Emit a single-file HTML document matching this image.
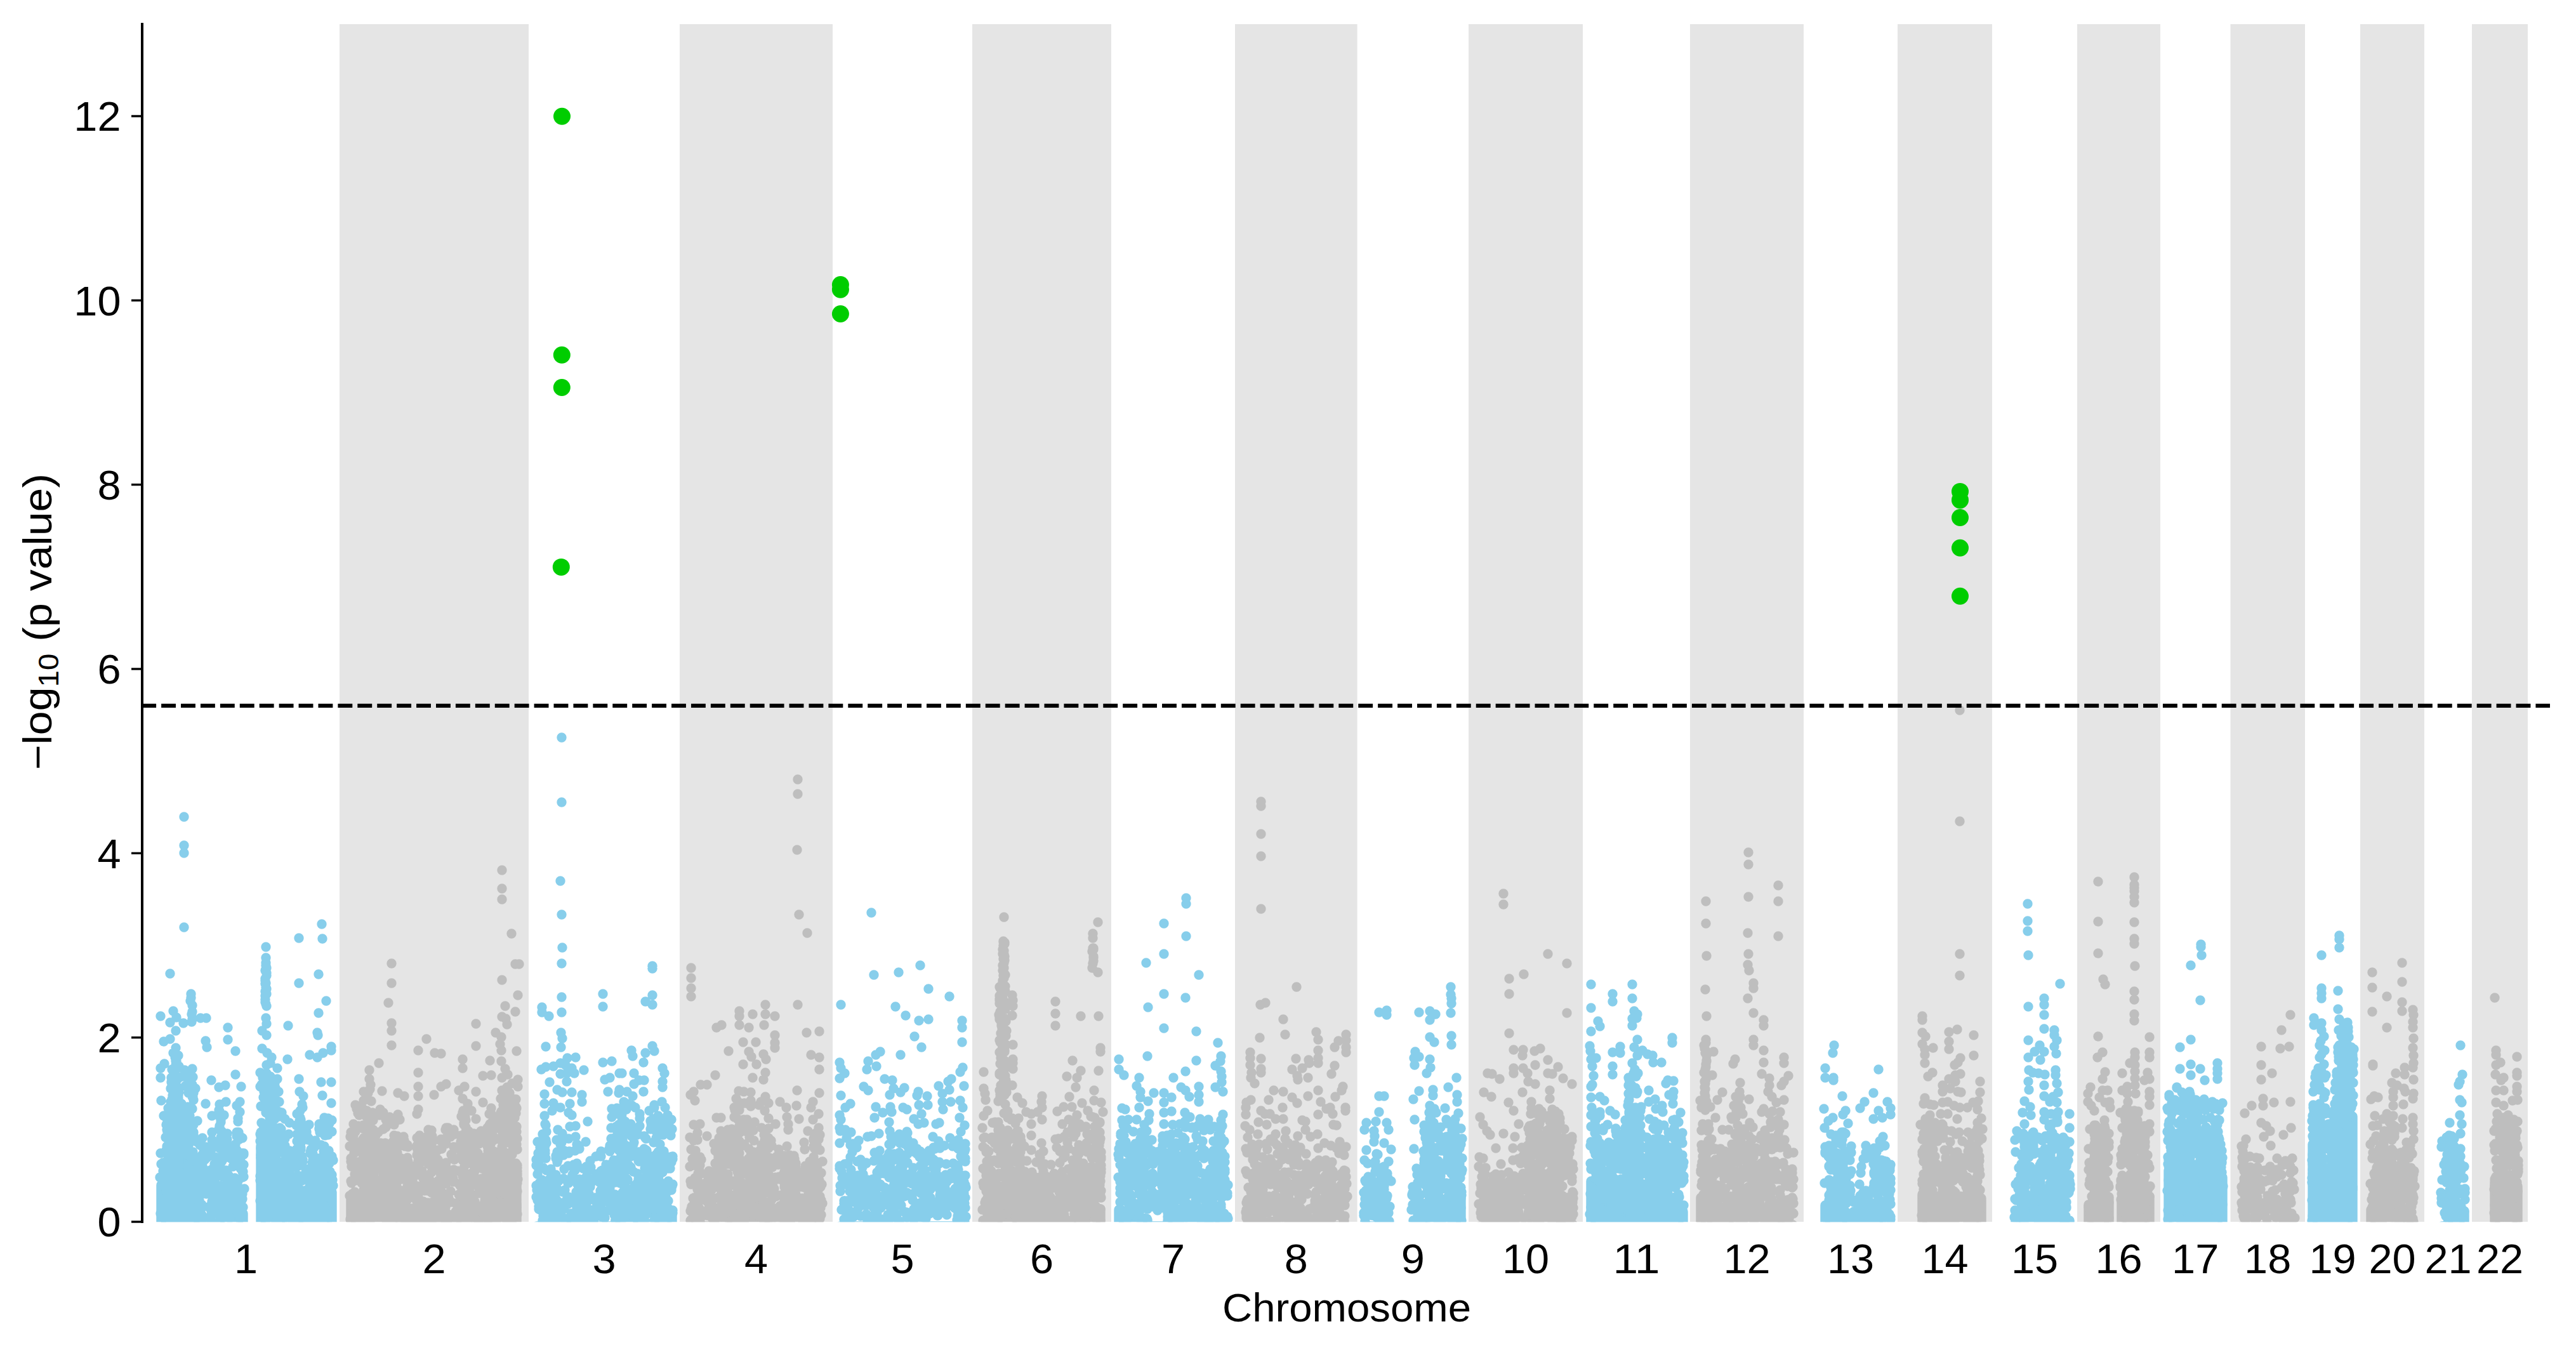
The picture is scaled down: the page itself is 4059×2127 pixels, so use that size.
<!DOCTYPE html>
<html><head><meta charset="utf-8"><title>Manhattan plot</title>
<style>html,body{margin:0;padding:0;background:#fff}svg{display:block}text{font-family:"Liberation Sans",sans-serif;fill:#000}</style></head>
<body>
<svg width="4059" height="2127" viewBox="0 0 4059 2127">
<rect width="4059" height="2127" fill="#fff"/>
<g fill="#e5e5e5"><rect x="535" y="38" width="298.0" height="1887"/><rect x="1071" y="38" width="241.0" height="1887"/><rect x="1532" y="38" width="219.0" height="1887"/><rect x="1946" y="38" width="192.6" height="1887"/><rect x="2314" y="38" width="180.0" height="1887"/><rect x="2663" y="38" width="179.0" height="1887"/><rect x="2990" y="38" width="149.0" height="1887"/><rect x="3273" y="38" width="131.0" height="1887"/><rect x="3514.5" y="38" width="117.5" height="1887"/><rect x="3719" y="38" width="101.0" height="1887"/><rect x="3895" y="38" width="88.0" height="1887"/></g>
<defs><clipPath id="cp"><rect x="224" y="38" width="3794" height="1887.3"/></clipPath></defs>
<g clip-path="url(#cp)" stroke-width="15.4" stroke-linecap="round" stroke-linejoin="round">
<path fill="#87ceeb" stroke="#87ceeb" d="M254 1935L254 1867L257 1871L261 1871L264 1871L270 1871L273 1871L277 1824L279 1822L282 1822L287 1822L290 1822L293 1824L297 1833L304 1901L306 1914L311 1920L314 1925L318 1928L325 1928L327 1928L332 1932L335 1932L339 1932L345 1932L347 1932L349 1869L352 1900L354 1932L356 1932L359 1932L361 1932L365 1932L370 1932L373 1922L375 1888L378 1909L380 1912L383 1912L383 1912L383 1935ZM411 1935L411 1805L415 1805L418 1805L420 1800L422 1805L425 1819L428 1848L434 1868L440 1890L444 1898L450 1919L455 1932L459 1932L461 1932L468 1932L470 1932L473 1877L476 1888L482 1895L485 1900L487 1911L489 1911L492 1911L496 1911L503 1911L504 1910L511 1888L517 1888L521 1888L522 1886L523 1878L523 1935Z"/>
<path fill="none" stroke="#87ceeb" d="M254 1734h0M253 1817h0M255 1858h0M252 1855h0M254 1834h0M253 1912h0M258 1917h0M255 1902h0M257 1832h0M257 1845h0M256 1892h0M258 1758h0M261 1815h0M261 1918h0M261 1925h0M261 1792h0M261 1844h0M262 1772h0M261 1864h0M261 1864h0M263 1855h0M264 1784h0M264 1908h0M263 1838h0M263 1922h0M263 1903h0M262 1890h0M262 1860h0M264 1871h0M262 1891h0M265 1746h0M265 1794h0M265 1768h0M265 1776h0M265 1845h0M265 1822h0M265 1784h0M265 1804h0M265 1805h0M262 1914h0M263 1924h0M263 1763h0M264 1831h0M263 1878h0M265 1907h0M262 1874h0M264 1852h0M263 1806h0M263 1812h0M264 1809h0M265 1915h0M264 1852h0M263 1876h0M262 1907h0M264 1862h0M262 1875h0M265 1825h0M264 1763h0M263 1780h0M264 1760h0M263 1806h0M265 1781h0M265 1837h0M262 1812h0M264 1774h0M264 1878h0M263 1900h0M271 1710h0M269 1791h0M269 1715h0M271 1847h0M269 1898h0M271 1735h0M268 1844h0M270 1884h0M270 1705h0M269 1893h0M269 1920h0M270 1797h0M268 1779h0M272 1818h0M269 1910h0M271 1746h0M271 1776h0M272 1921h0M271 1894h0M271 1817h0M271 1732h0M269 1736h0M271 1891h0M269 1833h0M271 1796h0M271 1834h0M269 1856h0M269 1918h0M268 1913h0M271 1861h0M271 1860h0M270 1739h0M270 1698h0M273 1919h0M271 1872h0M271 1805h0M272 1863h0M273 1748h0M274 1829h0M272 1854h0M271 1823h0M272 1790h0M271 1824h0M272 1902h0M272 1806h0M272 1726h0M272 1911h0M274 1914h0M274 1871h0M272 1785h0M273 1753h0M273 1790h0M271 1708h0M274 1852h0M273 1842h0M273 1799h0M274 1703h0M272 1698h0M274 1861h0M274 1758h0M278 1672h0M277 1746h0M278 1742h0M277 1885h0M279 1748h0M276 1688h0M278 1782h0M276 1868h0M278 1777h0M276 1804h0M278 1833h0M276 1794h0M277 1845h0M277 1810h0M278 1772h0M278 1913h0M276 1911h0M277 1775h0M276 1914h0M276 1666h0M277 1664h0M277 1877h0M277 1898h0M277 1678h0M276 1827h0M278 1731h0M276 1729h0M278 1762h0M276 1756h0M276 1852h0M278 1728h0M279 1811h0M276 1848h0M276 1821h0M276 1771h0M277 1806h0M278 1773h0M276 1758h0M277 1671h0M277 1775h0M277 1849h0M278 1720h0M277 1880h0M281 1726h0M280 1814h0M279 1823h0M280 1739h0M281 1919h0M279 1725h0M279 1712h0M279 1754h0M278 1700h0M280 1903h0M280 1889h0M281 1730h0M278 1744h0M280 1664h0M279 1877h0M280 1913h0M280 1832h0M280 1700h0M282 1807h0M282 1824h0M280 1726h0M282 1830h0M282 1788h0M282 1698h0M283 1801h0M282 1836h0M282 1868h0M282 1721h0M281 1787h0M281 1722h0M282 1680h0M282 1744h0M282 1850h0M281 1745h0M282 1867h0M282 1920h0M283 1864h0M281 1853h0M281 1719h0M282 1682h0M282 1781h0M286 1748h0M286 1763h0M288 1857h0M287 1783h0M288 1751h0M287 1883h0M286 1866h0M286 1851h0M286 1909h0M287 1775h0M288 1856h0M287 1876h0M288 1906h0M288 1863h0M287 1888h0M286 1739h0M286 1919h0M289 1781h0M290 1868h0M291 1751h0M290 1865h0M290 1818h0M290 1900h0M291 1756h0M290 1790h0M290 1890h0M289 1918h0M288 1696h0M291 1886h0M291 1767h0M290 1919h0M292 1711h0M294 1920h0M292 1863h0M294 1693h0M294 1771h0M292 1922h0M294 1907h0M294 1880h0M298 1842h0M297 1820h0M298 1907h0M298 1901h0M297 1745h0M296 1837h0M296 1803h0M297 1869h0M297 1840h0M296 1870h0M299 1758h0M298 1908h0M297 1864h0M297 1850h0M297 1805h0M299 1779h0M298 1802h0M297 1707h0M297 1813h0M296 1807h0M296 1744h0M297 1853h0M298 1901h0M296 1905h0M296 1790h0M297 1781h0M297 1867h0M299 1888h0M298 1851h0M298 1890h0M296 1812h0M298 1883h0M296 1850h0M299 1785h0M297 1776h0M296 1893h0M296 1872h0M298 1841h0M298 1755h0M298 1919h0M298 1791h0M297 1923h0M296 1818h0M297 1793h0M298 1889h0M296 1795h0M297 1791h0M297 1842h0M297 1762h0M297 1722h0M297 1761h0M296 1918h0M298 1785h0M296 1817h0M298 1818h0M296 1877h0M297 1760h0M303 1916h0M303 1747h0M305 1791h0M304 1792h0M305 1733h0M303 1828h0M303 1885h0M305 1924h0M302 1890h0M302 1791h0M304 1870h0M305 1909h0M304 1697h0M305 1820h0M303 1728h0M305 1772h0M304 1871h0M305 1865h0M304 1772h0M305 1884h0M303 1819h0M303 1861h0M303 1920h0M304 1728h0M303 1709h0M303 1925h0M305 1788h0M303 1771h0M304 1815h0M305 1904h0M306 1768h0M308 1715h0M305 1784h0M306 1848h0M308 1847h0M305 1788h0M305 1722h0M305 1872h0M310 1855h0M310 1799h0M310 1919h0M310 1855h0M311 1842h0M311 1824h0M312 1921h0M315 1804h0M315 1920h0M315 1835h0M314 1891h0M313 1858h0M314 1831h0M313 1903h0M312 1836h0M315 1826h0M314 1880h0M315 1883h0M313 1879h0M314 1893h0M313 1872h0M313 1871h0M315 1882h0M313 1851h0M317 1872h0M317 1858h0M319 1807h0M320 1920h0M318 1821h0M319 1832h0M318 1850h0M317 1854h0M319 1843h0M318 1914h0M318 1898h0M319 1837h0M319 1849h0M319 1819h0M317 1866h0M318 1864h0M319 1855h0M319 1793h0M318 1903h0M320 1863h0M317 1913h0M324 1807h0M326 1877h0M323 1827h0M326 1859h0M326 1824h0M327 1845h0M325 1881h0M325 1865h0M327 1870h0M327 1820h0M333 1913h0M333 1923h0M332 1813h0M331 1902h0M332 1857h0M330 1851h0M333 1843h0M331 1904h0M330 1901h0M333 1907h0M334 1873h0M334 1878h0M333 1857h0M335 1886h0M335 1871h0M334 1893h0M333 1873h0M335 1860h0M336 1891h0M334 1875h0M336 1808h0M334 1850h0M334 1796h0M336 1842h0M339 1912h0M339 1846h0M340 1855h0M338 1887h0M340 1891h0M339 1823h0M337 1859h0M339 1824h0M340 1900h0M338 1890h0M338 1834h0M339 1882h0M338 1897h0M345 1907h0M345 1758h0M346 1906h0M345 1868h0M345 1749h0M345 1801h0M346 1751h0M346 1895h0M345 1779h0M346 1777h0M346 1809h0M348 1832h0M348 1829h0M346 1880h0M347 1924h0M348 1912h0M348 1765h0M348 1792h0M348 1918h0M349 1899h0M348 1782h0M346 1774h0M349 1782h0M346 1852h0M347 1901h0M346 1870h0M347 1796h0M346 1755h0M346 1740h0M346 1845h0M347 1825h0M348 1845h0M349 1803h0M350 1807h0M350 1829h0M349 1822h0M351 1854h0M350 1911h0M348 1892h0M348 1768h0M353 1917h0M350 1884h0M353 1757h0M355 1885h0M354 1874h0M352 1798h0M355 1801h0M358 1795h0M355 1791h0M357 1903h0M356 1884h0M357 1797h0M355 1904h0M356 1819h0M356 1844h0M357 1863h0M355 1805h0M357 1811h0M356 1906h0M357 1823h0M357 1816h0M358 1786h0M357 1818h0M359 1873h0M359 1862h0M358 1891h0M359 1823h0M360 1860h0M359 1850h0M362 1919h0M361 1853h0M362 1890h0M360 1908h0M362 1873h0M359 1854h0M361 1821h0M365 1860h0M366 1807h0M365 1898h0M367 1887h0M367 1838h0M364 1859h0M365 1867h0M365 1826h0M365 1816h0M367 1889h0M365 1807h0M366 1869h0M371 1803h0M370 1856h0M370 1835h0M370 1880h0M371 1868h0M371 1824h0M373 1742h0M373 1812h0M373 1867h0M373 1874h0M373 1784h0M373 1790h0M374 1867h0M376 1786h0M375 1908h0M376 1874h0M375 1872h0M375 1762h0M376 1784h0M375 1861h0M375 1884h0M375 1767h0M377 1910h0M379 1825h0M377 1792h0M377 1890h0M377 1896h0M378 1752h0M379 1791h0M376 1825h0M377 1795h0M376 1859h0M378 1793h0M381 1817h0M382 1793h0M381 1906h0M379 1841h0M380 1905h0M381 1818h0M379 1919h0M381 1891h0M379 1908h0M381 1910h0M382 1855h0M382 1889h0M384 1835h0M383 1902h0M383 1846h0M384 1817h0M382 1846h0M384 1819h0M385 1873h0M382 1881h0M384 1854h0M412 1896h0M411 1809h0M410 1798h0M410 1787h0M412 1811h0M412 1816h0M410 1860h0M412 1912h0M412 1785h0M413 1813h0M410 1798h0M411 1824h0M411 1851h0M411 1784h0M410 1892h0M412 1831h0M410 1853h0M411 1820h0M411 1743h0M412 1824h0M411 1791h0M410 1712h0M410 1690h0M412 1769h0M417 1800h0M416 1840h0M416 1871h0M416 1720h0M414 1888h0M414 1698h0M415 1729h0M417 1815h0M414 1850h0M415 1773h0M416 1799h0M415 1708h0M416 1830h0M417 1707h0M414 1884h0M415 1914h0M417 1877h0M415 1905h0M416 1852h0M416 1811h0M416 1773h0M416 1917h0M416 1744h0M416 1740h0M416 1857h0M415 1915h0M417 1916h0M419 1781h0M418 1918h0M419 1712h0M418 1924h0M419 1848h0M418 1874h0M419 1772h0M419 1753h0M419 1817h0M421 1792h0M420 1693h0M421 1722h0M421 1820h0M421 1850h0M421 1783h0M420 1694h0M421 1859h0M420 1724h0M418 1917h0M421 1820h0M421 1853h0M420 1885h0M421 1701h0M421 1724h0M423 1890h0M424 1864h0M421 1856h0M423 1741h0M423 1860h0M422 1812h0M423 1733h0M421 1752h0M421 1784h0M423 1859h0M421 1871h0M421 1776h0M424 1823h0M425 1910h0M424 1859h0M427 1734h0M426 1710h0M425 1761h0M426 1824h0M426 1843h0M424 1741h0M427 1731h0M426 1754h0M426 1696h0M425 1877h0M426 1675h0M425 1722h0M426 1828h0M426 1859h0M427 1782h0M429 1869h0M428 1775h0M427 1723h0M429 1863h0M428 1822h0M427 1890h0M427 1883h0M429 1906h0M429 1906h0M427 1796h0M429 1772h0M428 1796h0M427 1910h0M428 1811h0M426 1899h0M429 1762h0M429 1763h0M429 1739h0M427 1830h0M427 1809h0M427 1793h0M427 1737h0M428 1700h0M434 1845h0M433 1733h0M435 1899h0M433 1812h0M435 1851h0M435 1828h0M435 1722h0M435 1804h0M434 1745h0M435 1791h0M433 1818h0M435 1826h0M432 1820h0M433 1786h0M434 1787h0M435 1829h0M433 1893h0M435 1843h0M432 1868h0M435 1870h0M433 1815h0M435 1733h0M433 1707h0M435 1817h0M433 1792h0M433 1897h0M434 1899h0M435 1905h0M432 1784h0M433 1903h0M433 1867h0M435 1859h0M433 1859h0M433 1794h0M434 1895h0M435 1784h0M433 1789h0M434 1833h0M434 1714h0M433 1798h0M435 1842h0M434 1857h0M434 1733h0M434 1845h0M434 1739h0M433 1763h0M433 1742h0M435 1778h0M435 1924h0M433 1866h0M433 1887h0M433 1878h0M433 1810h0M440 1752h0M439 1916h0M440 1855h0M441 1834h0M439 1856h0M441 1777h0M442 1786h0M439 1795h0M441 1786h0M439 1736h0M440 1884h0M439 1786h0M440 1736h0M442 1905h0M440 1759h0M442 1918h0M441 1860h0M441 1786h0M439 1884h0M444 1907h0M445 1887h0M445 1890h0M443 1839h0M444 1802h0M442 1850h0M444 1865h0M444 1810h0M443 1810h0M442 1854h0M444 1887h0M444 1894h0M442 1922h0M445 1831h0M442 1845h0M445 1801h0M444 1753h0M443 1873h0M443 1815h0M445 1854h0M443 1779h0M444 1878h0M442 1788h0M444 1759h0M444 1913h0M445 1789h0M449 1897h0M449 1850h0M450 1840h0M450 1914h0M450 1833h0M449 1794h0M449 1805h0M449 1763h0M451 1844h0M450 1915h0M450 1822h0M451 1911h0M455 1910h0M456 1847h0M456 1817h0M455 1884h0M455 1878h0M455 1824h0M456 1769h0M454 1914h0M456 1860h0M456 1834h0M456 1917h0M456 1860h0M455 1787h0M455 1850h0M456 1813h0M454 1872h0M458 1880h0M459 1901h0M459 1902h0M460 1911h0M460 1915h0M459 1853h0M461 1894h0M460 1873h0M462 1889h0M460 1860h0M462 1908h0M462 1857h0M460 1885h0M460 1922h0M461 1869h0M462 1922h0M469 1852h0M469 1860h0M467 1901h0M468 1817h0M468 1921h0M468 1755h0M469 1859h0M467 1837h0M468 1830h0M467 1864h0M467 1866h0M469 1898h0M468 1890h0M467 1773h0M468 1856h0M469 1894h0M467 1878h0M468 1798h0M468 1826h0M467 1839h0M467 1811h0M468 1787h0M467 1829h0M471 1907h0M469 1812h0M471 1807h0M470 1831h0M471 1808h0M470 1858h0M469 1883h0M470 1837h0M469 1871h0M470 1861h0M468 1897h0M470 1869h0M468 1859h0M473 1761h0M472 1766h0M473 1836h0M475 1799h0M475 1853h0M474 1764h0M474 1766h0M473 1878h0M472 1886h0M474 1808h0M473 1806h0M473 1802h0M473 1910h0M472 1794h0M473 1772h0M473 1767h0M474 1883h0M472 1809h0M473 1750h0M474 1811h0M474 1785h0M474 1765h0M476 1903h0M475 1896h0M477 1855h0M475 1856h0M477 1853h0M475 1777h0M475 1896h0M475 1799h0M477 1830h0M477 1745h0M474 1896h0M477 1796h0M475 1876h0M476 1740h0M476 1822h0M477 1827h0M476 1782h0M476 1882h0M476 1860h0M476 1919h0M476 1914h0M483 1794h0M482 1842h0M480 1876h0M480 1916h0M483 1785h0M482 1887h0M483 1898h0M483 1783h0M483 1793h0M483 1884h0M481 1906h0M484 1848h0M486 1873h0M486 1793h0M486 1897h0M484 1924h0M486 1848h0M485 1913h0M486 1796h0M487 1772h0M488 1861h0M489 1815h0M488 1917h0M488 1864h0M488 1912h0M490 1865h0M490 1818h0M491 1855h0M491 1844h0M490 1811h0M491 1925h0M492 1921h0M491 1925h0M491 1922h0M492 1899h0M493 1885h0M493 1818h0M492 1799h0M493 1827h0M492 1832h0M491 1844h0M492 1870h0M498 1833h0M495 1897h0M495 1912h0M497 1797h0M495 1808h0M496 1865h0M498 1842h0M495 1878h0M498 1889h0M497 1843h0M496 1904h0M502 1881h0M504 1784h0M501 1919h0M502 1859h0M501 1870h0M504 1907h0M502 1914h0M503 1830h0M503 1778h0M501 1880h0M503 1771h0M503 1897h0M503 1870h0M503 1779h0M504 1891h0M503 1825h0M501 1882h0M503 1886h0M503 1849h0M506 1804h0M505 1850h0M504 1835h0M510 1856h0M510 1886h0M512 1837h0M510 1902h0M512 1885h0M511 1846h0M512 1879h0M512 1847h0M510 1869h0M512 1903h0M510 1858h0M512 1778h0M512 1902h0M511 1784h0M510 1833h0M510 1825h0M509 1778h0M510 1820h0M512 1923h0M510 1814h0M512 1917h0M512 1869h0M512 1902h0M511 1826h0M511 1823h0M510 1775h0M510 1806h0M510 1872h0M509 1898h0M512 1824h0M510 1881h0M511 1761h0M511 1806h0M512 1789h0M510 1769h0M512 1821h0M512 1848h0M512 1880h0M511 1885h0M511 1852h0M519 1833h0M518 1813h0M516 1909h0M517 1914h0M517 1873h0M518 1820h0M517 1788h0M517 1762h0M517 1833h0M518 1861h0M517 1827h0M518 1883h0M517 1908h0M520 1846h0M522 1876h0M519 1770h0M521 1873h0M520 1863h0M523 1851h0M521 1917h0M523 1822h0M524 1859h0M522 1914h0M522 1825h0M525 1828h0M525 1868h0M523 1765h0M523 1783h0M523 1824h0M301 1566h0M301 1572h0M300 1577h0M303 1584h0M303 1594h0M302 1598h0M303 1606h0M302 1610h0M419 1517h0M419 1521h0M420 1525h0M418 1529h0M419 1531h0M420 1533h0M420 1537h0M418 1542h0M418 1545h0M419 1549h0M418 1550h0M419 1556h0M420 1558h0M418 1562h0M420 1566h0M418 1569h0M418 1575h0M418 1579h0M419 1582h0M420 1585h0M268 1534h0M273 1593h0M253 1601h0M278 1603h0M268 1611h0M289 1612h0M316 1604h0M325 1604h0M277 1624h0M268 1637h0M258 1641h0M359 1619h0M359 1638h0M324 1640h0M326 1650h0M371 1656h0M277 1651h0M273 1659h0M281 1663h0M277 1672h0M259 1676h0M253 1683h0M253 1698h0M303 1684h0M291 1686h0M271 1685h0M333 1702h0M371 1693h0M355 1710h0M380 1712h0M345 1713h0M324 1739h0M356 1736h0M378 1736h0M334 1758h0M334 1784h0M311 1766h0M419 1604h0M420 1613h0M413 1624h0M420 1631h0M413 1652h0M454 1616h0M471 1549h0M502 1535h0M514 1577h0M502 1596h0M500 1627h0M501 1631h0M522 1649h0M522 1655h0M488 1662h0M509 1659h0M500 1666h0M453 1669h0M471 1700h0M506 1705h0M522 1705h0M508 1726h0M439 1720h0M437 1700h0M437 1683h0M433 1734h0M421 1659h0M428 1666h0M420 1678h0M420 1691h0M412 1709h0M472 1720h0M478 1727h0M522 1738h0M419 1509h0M290 1287h0M290 1332h0M290 1344h0M290 1461h0M419 1492h0M471 1478h0M507 1456h0M508 1479h0"/>
<path fill="#bebebe" stroke="#bebebe" d="M553 1935L553 1890L555 1890L558 1890L560 1888L565 1886L571 1885L574 1877L577 1867L579 1862L581 1859L585 1894L588 1894L592 1894L597 1899L599 1902L604 1904L608 1905L612 1905L618 1905L620 1905L623 1905L626 1911L628 1919L631 1923L637 1923L641 1925L643 1925L650 1925L656 1925L658 1925L661 1909L664 1911L667 1917L669 1919L675 1921L679 1922L682 1922L684 1922L687 1922L690 1922L696 1922L702 1921L704 1919L707 1917L711 1919L714 1919L717 1919L720 1919L723 1919L725 1913L726 1887L731 1882L734 1893L737 1901L743 1917L748 1920L755 1922L759 1922L764 1922L767 1922L769 1922L772 1912L777 1898L780 1893L782 1893L784 1893L788 1888L791 1877L793 1846L800 1848L801 1850L804 1852L805 1852L807 1852L814 1852L814 1852L814 1935Z"/>
<path fill="none" stroke="#bebebe" d="M552 1791h0M551 1884h0M552 1921h0M551 1806h0M553 1825h0M553 1885h0M554 1864h0M553 1830h0M553 1784h0M553 1861h0M551 1806h0M556 1787h0M555 1881h0M555 1883h0M554 1838h0M556 1836h0M559 1850h0M558 1817h0M557 1885h0M557 1888h0M557 1893h0M557 1789h0M557 1804h0M559 1890h0M557 1908h0M557 1796h0M559 1809h0M560 1783h0M557 1771h0M559 1878h0M560 1860h0M560 1915h0M561 1882h0M559 1889h0M560 1924h0M559 1850h0M559 1894h0M560 1918h0M560 1884h0M559 1887h0M560 1774h0M562 1909h0M559 1902h0M562 1907h0M561 1849h0M564 1831h0M565 1857h0M567 1925h0M564 1909h0M564 1754h0M566 1757h0M566 1846h0M565 1916h0M565 1774h0M564 1804h0M565 1841h0M565 1805h0M565 1854h0M565 1851h0M572 1826h0M572 1882h0M572 1863h0M572 1773h0M571 1796h0M570 1864h0M573 1875h0M570 1920h0M570 1886h0M570 1814h0M573 1821h0M571 1835h0M571 1746h0M572 1778h0M570 1914h0M572 1814h0M572 1893h0M572 1820h0M572 1918h0M572 1890h0M575 1808h0M573 1800h0M573 1827h0M575 1877h0M575 1910h0M576 1890h0M573 1793h0M573 1901h0M574 1873h0M577 1870h0M576 1891h0M578 1868h0M576 1877h0M577 1857h0M577 1759h0M577 1793h0M577 1805h0M577 1811h0M577 1862h0M579 1831h0M579 1839h0M579 1847h0M579 1781h0M578 1862h0M579 1771h0M580 1830h0M578 1750h0M578 1814h0M579 1898h0M578 1840h0M578 1732h0M578 1793h0M580 1894h0M578 1859h0M580 1809h0M578 1794h0M580 1823h0M580 1905h0M578 1874h0M579 1831h0M579 1810h0M580 1722h0M582 1889h0M583 1923h0M580 1909h0M581 1912h0M582 1863h0M581 1904h0M581 1850h0M581 1791h0M581 1874h0M583 1775h0M581 1841h0M583 1716h0M581 1904h0M586 1816h0M584 1846h0M586 1877h0M586 1808h0M585 1784h0M586 1832h0M584 1759h0M584 1909h0M586 1756h0M584 1858h0M584 1899h0M585 1900h0M585 1735h0M585 1845h0M587 1753h0M585 1763h0M588 1866h0M589 1812h0M589 1849h0M590 1900h0M589 1830h0M590 1863h0M588 1780h0M587 1833h0M588 1765h0M589 1797h0M589 1900h0M588 1843h0M589 1812h0M592 1865h0M592 1789h0M590 1884h0M591 1883h0M591 1835h0M592 1915h0M593 1832h0M591 1906h0M596 1784h0M598 1898h0M596 1830h0M597 1876h0M595 1862h0M596 1908h0M596 1836h0M596 1881h0M597 1889h0M597 1818h0M596 1803h0M595 1911h0M596 1818h0M598 1901h0M598 1881h0M599 1807h0M599 1859h0M599 1870h0M600 1801h0M600 1907h0M598 1902h0M597 1840h0M599 1908h0M598 1755h0M598 1757h0M599 1818h0M598 1887h0M603 1903h0M604 1899h0M603 1844h0M606 1803h0M604 1779h0M605 1892h0M606 1849h0M604 1850h0M607 1880h0M610 1771h0M607 1829h0M608 1764h0M607 1888h0M608 1832h0M607 1870h0M608 1776h0M609 1923h0M607 1869h0M608 1885h0M609 1877h0M609 1825h0M609 1870h0M607 1856h0M608 1847h0M609 1827h0M607 1862h0M607 1801h0M607 1868h0M613 1853h0M610 1841h0M610 1811h0M611 1843h0M613 1869h0M611 1913h0M613 1858h0M614 1889h0M612 1813h0M612 1896h0M611 1819h0M611 1830h0M613 1917h0M613 1835h0M613 1863h0M612 1813h0M619 1918h0M618 1857h0M618 1842h0M617 1907h0M618 1893h0M617 1834h0M619 1855h0M619 1771h0M620 1907h0M620 1868h0M619 1807h0M619 1867h0M618 1860h0M617 1925h0M618 1822h0M619 1799h0M618 1878h0M620 1840h0M621 1920h0M619 1901h0M621 1766h0M620 1848h0M621 1882h0M619 1819h0M619 1867h0M621 1772h0M621 1789h0M619 1877h0M620 1899h0M623 1827h0M624 1901h0M622 1866h0M624 1902h0M626 1854h0M626 1790h0M624 1900h0M625 1902h0M626 1896h0M626 1910h0M627 1807h0M627 1883h0M626 1862h0M627 1836h0M628 1804h0M627 1873h0M626 1816h0M627 1801h0M627 1832h0M631 1904h0M632 1857h0M629 1890h0M632 1825h0M632 1841h0M629 1851h0M636 1858h0M639 1802h0M639 1917h0M637 1884h0M638 1922h0M636 1850h0M636 1849h0M638 1854h0M638 1806h0M637 1797h0M636 1791h0M636 1899h0M639 1832h0M638 1834h0M638 1910h0M643 1849h0M641 1891h0M641 1845h0M642 1885h0M640 1873h0M642 1859h0M643 1830h0M641 1902h0M643 1835h0M643 1909h0M640 1851h0M642 1873h0M642 1864h0M642 1854h0M640 1832h0M642 1804h0M642 1890h0M640 1900h0M644 1881h0M642 1824h0M643 1807h0M643 1859h0M648 1878h0M650 1922h0M651 1908h0M649 1851h0M650 1849h0M650 1860h0M651 1920h0M649 1860h0M649 1870h0M650 1851h0M648 1906h0M649 1877h0M651 1869h0M651 1845h0M649 1904h0M650 1841h0M649 1917h0M657 1793h0M657 1877h0M656 1836h0M656 1891h0M656 1843h0M657 1869h0M656 1843h0M657 1820h0M657 1886h0M657 1841h0M657 1805h0M658 1922h0M655 1885h0M656 1840h0M657 1809h0M656 1920h0M657 1851h0M658 1869h0M659 1829h0M659 1873h0M658 1901h0M657 1925h0M659 1886h0M658 1817h0M658 1834h0M661 1808h0M661 1893h0M662 1843h0M663 1924h0M662 1874h0M662 1906h0M661 1789h0M661 1794h0M660 1827h0M661 1817h0M665 1807h0M664 1925h0M665 1828h0M662 1899h0M665 1830h0M662 1911h0M663 1895h0M666 1915h0M665 1845h0M665 1811h0M667 1857h0M667 1917h0M665 1809h0M667 1893h0M668 1875h0M670 1854h0M670 1799h0M669 1853h0M669 1876h0M668 1897h0M669 1914h0M669 1866h0M669 1870h0M667 1814h0M676 1853h0M675 1821h0M674 1799h0M674 1876h0M675 1780h0M674 1895h0M675 1867h0M676 1819h0M675 1834h0M677 1907h0M676 1811h0M675 1852h0M675 1788h0M676 1905h0M679 1871h0M680 1862h0M680 1847h0M680 1781h0M680 1803h0M679 1895h0M680 1838h0M678 1833h0M679 1819h0M678 1923h0M680 1879h0M681 1922h0M683 1869h0M682 1843h0M681 1875h0M683 1797h0M681 1790h0M682 1838h0M683 1901h0M685 1902h0M685 1872h0M684 1864h0M686 1888h0M687 1881h0M685 1815h0M686 1821h0M688 1893h0M686 1837h0M686 1918h0M691 1860h0M691 1843h0M690 1884h0M690 1827h0M691 1911h0M692 1867h0M690 1812h0M695 1795h0M696 1833h0M695 1893h0M697 1846h0M696 1888h0M694 1900h0M696 1810h0M696 1886h0M694 1887h0M697 1907h0M694 1797h0M695 1841h0M696 1878h0M696 1894h0M697 1901h0M694 1849h0M701 1921h0M702 1780h0M703 1802h0M703 1832h0M703 1777h0M703 1857h0M703 1842h0M702 1851h0M702 1902h0M703 1793h0M702 1902h0M703 1896h0M703 1802h0M700 1895h0M703 1865h0M702 1800h0M705 1846h0M704 1849h0M704 1893h0M706 1886h0M707 1888h0M706 1845h0M706 1913h0M706 1777h0M707 1920h0M705 1842h0M712 1819h0M710 1877h0M711 1852h0M711 1859h0M711 1894h0M711 1819h0M710 1791h0M713 1860h0M715 1843h0M714 1857h0M715 1807h0M714 1862h0M715 1780h0M717 1787h0M716 1827h0M718 1909h0M718 1896h0M719 1917h0M718 1917h0M722 1845h0M723 1865h0M723 1916h0M723 1882h0M725 1921h0M726 1799h0M726 1825h0M726 1869h0M723 1810h0M726 1908h0M725 1915h0M727 1789h0M727 1759h0M727 1801h0M726 1902h0M727 1820h0M725 1868h0M727 1821h0M728 1884h0M731 1771h0M730 1883h0M731 1886h0M732 1837h0M731 1769h0M730 1899h0M731 1863h0M732 1762h0M730 1803h0M729 1828h0M729 1852h0M731 1863h0M731 1812h0M731 1772h0M730 1750h0M730 1913h0M731 1883h0M729 1853h0M731 1771h0M733 1856h0M735 1893h0M733 1893h0M734 1776h0M733 1760h0M732 1815h0M733 1885h0M733 1816h0M733 1873h0M733 1860h0M732 1811h0M734 1783h0M733 1848h0M734 1765h0M734 1866h0M735 1785h0M736 1921h0M736 1799h0M735 1831h0M738 1900h0M738 1814h0M738 1906h0M737 1872h0M737 1832h0M737 1801h0M735 1861h0M737 1886h0M736 1852h0M738 1782h0M738 1913h0M737 1869h0M737 1817h0M742 1867h0M742 1881h0M744 1834h0M742 1799h0M743 1824h0M744 1848h0M742 1918h0M742 1861h0M742 1885h0M743 1865h0M744 1787h0M743 1885h0M744 1786h0M742 1793h0M747 1910h0M748 1893h0M748 1912h0M748 1806h0M747 1856h0M747 1819h0M747 1854h0M748 1820h0M749 1901h0M748 1831h0M749 1903h0M747 1867h0M749 1825h0M747 1851h0M748 1845h0M748 1842h0M749 1803h0M749 1819h0M748 1894h0M747 1852h0M747 1786h0M748 1810h0M747 1826h0M755 1802h0M754 1905h0M754 1859h0M755 1880h0M754 1832h0M754 1924h0M755 1878h0M753 1817h0M754 1796h0M753 1840h0M755 1866h0M754 1826h0M758 1824h0M759 1859h0M759 1857h0M760 1841h0M758 1782h0M760 1902h0M758 1875h0M759 1867h0M758 1876h0M759 1831h0M759 1909h0M758 1861h0M765 1865h0M764 1843h0M765 1791h0M764 1891h0M764 1828h0M763 1896h0M765 1834h0M765 1901h0M763 1881h0M764 1885h0M766 1918h0M768 1820h0M767 1827h0M768 1855h0M768 1806h0M767 1857h0M767 1798h0M768 1797h0M766 1834h0M766 1909h0M769 1830h0M770 1778h0M770 1893h0M770 1897h0M770 1873h0M767 1832h0M768 1821h0M770 1906h0M770 1853h0M768 1777h0M768 1921h0M769 1813h0M769 1792h0M772 1828h0M772 1809h0M772 1915h0M774 1919h0M772 1883h0M771 1873h0M772 1820h0M772 1833h0M771 1860h0M771 1911h0M773 1918h0M774 1848h0M772 1860h0M771 1773h0M771 1877h0M773 1888h0M773 1873h0M771 1889h0M771 1818h0M772 1834h0M773 1882h0M771 1902h0M771 1755h0M771 1921h0M773 1803h0M772 1827h0M771 1805h0M771 1914h0M772 1871h0M772 1771h0M772 1924h0M773 1888h0M771 1881h0M772 1878h0M771 1840h0M772 1883h0M776 1860h0M777 1790h0M778 1895h0M777 1823h0M777 1797h0M777 1764h0M776 1840h0M777 1903h0M776 1846h0M775 1841h0M775 1830h0M778 1836h0M776 1782h0M778 1814h0M777 1838h0M778 1852h0M778 1894h0M777 1825h0M777 1881h0M778 1792h0M778 1908h0M775 1839h0M776 1925h0M782 1766h0M780 1854h0M783 1825h0M783 1865h0M781 1873h0M782 1760h0M783 1877h0M783 1854h0M784 1776h0M785 1854h0M783 1921h0M788 1825h0M788 1814h0M789 1793h0M788 1778h0M790 1812h0M789 1896h0M787 1778h0M787 1795h0M791 1807h0M791 1836h0M789 1911h0M790 1751h0M789 1916h0M789 1846h0M791 1873h0M790 1876h0M790 1770h0M790 1853h0M791 1851h0M792 1734h0M791 1782h0M795 1731h0M794 1837h0M795 1918h0M792 1844h0M793 1792h0M792 1772h0M792 1788h0M792 1818h0M794 1833h0M794 1880h0M794 1753h0M793 1741h0M793 1734h0M792 1834h0M794 1754h0M793 1869h0M793 1751h0M792 1904h0M793 1726h0M794 1720h0M794 1855h0M793 1765h0M795 1721h0M795 1847h0M791 1808h0M794 1767h0M794 1918h0M792 1793h0M792 1812h0M792 1785h0M793 1721h0M794 1874h0M801 1756h0M800 1871h0M801 1827h0M799 1924h0M799 1861h0M799 1713h0M800 1800h0M801 1746h0M800 1757h0M801 1846h0M799 1764h0M798 1877h0M801 1900h0M801 1891h0M801 1817h0M801 1834h0M800 1868h0M802 1768h0M801 1730h0M800 1865h0M803 1911h0M804 1897h0M803 1903h0M803 1786h0M803 1775h0M803 1722h0M804 1894h0M805 1774h0M802 1792h0M803 1745h0M804 1758h0M806 1844h0M807 1819h0M806 1881h0M805 1856h0M804 1886h0M804 1794h0M807 1788h0M806 1859h0M805 1897h0M804 1764h0M806 1838h0M805 1849h0M806 1773h0M809 1883h0M805 1834h0M806 1909h0M807 1899h0M807 1880h0M806 1839h0M807 1897h0M807 1906h0M808 1799h0M806 1744h0M805 1917h0M808 1909h0M808 1788h0M807 1793h0M806 1853h0M806 1818h0M808 1811h0M806 1915h0M814 1907h0M813 1865h0M815 1836h0M815 1864h0M815 1846h0M813 1779h0M813 1915h0M815 1794h0M815 1913h0M814 1898h0M815 1849h0M813 1732h0M813 1791h0M814 1902h0M814 1803h0M813 1833h0M814 1846h0M815 1852h0M813 1856h0M815 1845h0M813 1754h0M814 1845h0M815 1811h0M814 1775h0M814 1783h0M815 1877h0M814 1746h0M815 1850h0M815 1840h0M814 1792h0M816 1858h0M791 1371h0M791 1400h0M791 1417h0M806 1471h0M617 1518h0M617 1549h0M612 1580h0M617 1612h0M617 1624h0M617 1647h0M597 1675h0M582 1686h0M582 1700h0M584 1709h0M573 1720h0M573 1734h0M560 1741h0M562 1747h0M602 1719h0M627 1722h0M637 1727h0M599 1748h0M604 1753h0M582 1754h0M614 1760h0M627 1756h0M630 1764h0M659 1655h0M672 1637h0M685 1659h0M695 1660h0M659 1690h0M659 1712h0M659 1727h0M659 1748h0M657 1755h0M684 1725h0M695 1712h0M703 1708h0M723 1718h0M732 1712h0M729 1669h0M729 1683h0M729 1731h0M737 1739h0M729 1753h0M743 1750h0M750 1763h0M750 1613h0M750 1648h0M750 1720h0M761 1737h0M761 1695h0M774 1694h0M772 1671h0M774 1746h0M774 1755h0M781 1627h0M790 1634h0M788 1645h0M790 1655h0M790 1672h0M796 1684h0M800 1693h0M791 1698h0M791 1718h0M789 1731h0M797 1737h0M789 1753h0M807 1707h0M816 1701h0M816 1712h0M811 1732h0M813 1744h0M804 1763h0M811 1761h0M812 1519h0M818 1519h0M791 1544h0M816 1568h0M796 1585h0M812 1594h0M791 1602h0M797 1605h0M799 1614h0M814 1656h0"/>
<path fill="#87ceeb" stroke="#87ceeb" d="M846 1935L846 1932L850 1932L855 1932L860 1932L866 1932L868 1932L875 1932L877 1932L880 1932L881 1932L887 1932L889 1932L895 1922L899 1923L902 1932L904 1932L907 1932L909 1932L914 1932L918 1932L924 1932L926 1932L929 1932L931 1932L935 1932L937 1932L944 1932L946 1932L948 1932L954 1932L956 1932L962 1932L968 1932L971 1918L976 1893L980 1881L984 1882L989 1887L994 1890L998 1893L1000 1897L1002 1902L1005 1925L1008 1928L1014 1928L1018 1928L1024 1928L1031 1928L1034 1896L1038 1886L1040 1884L1043 1896L1045 1905L1050 1911L1053 1914L1057 1914L1059 1914L1059 1935Z"/>
<path fill="none" stroke="#87ceeb" d="M847 1891h0M846 1835h0M845 1827h0M845 1868h0M845 1836h0M847 1850h0M845 1886h0M848 1817h0M846 1875h0M850 1864h0M849 1829h0M851 1808h0M849 1905h0M850 1894h0M851 1880h0M851 1893h0M849 1901h0M849 1843h0M851 1906h0M852 1865h0M857 1872h0M855 1787h0M856 1840h0M855 1863h0M855 1923h0M857 1869h0M856 1840h0M856 1916h0M854 1859h0M856 1897h0M857 1899h0M856 1823h0M856 1916h0M860 1873h0M861 1861h0M861 1906h0M860 1825h0M859 1875h0M861 1886h0M860 1773h0M858 1909h0M860 1796h0M860 1798h0M859 1805h0M861 1868h0M861 1844h0M859 1861h0M859 1817h0M859 1813h0M861 1801h0M861 1783h0M859 1887h0M860 1866h0M868 1886h0M867 1871h0M868 1867h0M865 1859h0M866 1892h0M865 1865h0M867 1889h0M867 1857h0M868 1890h0M866 1921h0M867 1898h0M868 1842h0M868 1890h0M869 1857h0M868 1908h0M868 1886h0M876 1889h0M876 1821h0M874 1873h0M876 1856h0M875 1882h0M875 1917h0M876 1851h0M876 1825h0M876 1922h0M878 1892h0M878 1815h0M878 1831h0M877 1796h0M878 1909h0M878 1873h0M876 1905h0M879 1828h0M880 1902h0M883 1915h0M882 1916h0M880 1861h0M883 1803h0M881 1908h0M886 1786h0M888 1902h0M887 1878h0M885 1800h0M890 1922h0M889 1813h0M889 1904h0M887 1895h0M888 1819h0M889 1842h0M888 1857h0M888 1820h0M888 1905h0M890 1875h0M888 1919h0M895 1864h0M895 1837h0M896 1886h0M896 1864h0M896 1794h0M895 1897h0M894 1892h0M895 1897h0M897 1814h0M894 1887h0M896 1817h0M897 1887h0M895 1887h0M899 1920h0M898 1858h0M900 1912h0M900 1923h0M898 1775h0M903 1839h0M902 1851h0M904 1835h0M904 1859h0M906 1844h0M908 1912h0M908 1899h0M907 1791h0M907 1884h0M909 1894h0M906 1813h0M909 1904h0M908 1878h0M909 1803h0M908 1880h0M909 1885h0M908 1920h0M908 1891h0M909 1833h0M910 1887h0M908 1887h0M910 1866h0M908 1861h0M909 1895h0M915 1885h0M913 1897h0M913 1901h0M913 1922h0M913 1810h0M915 1885h0M913 1858h0M920 1917h0M919 1841h0M918 1907h0M920 1912h0M920 1904h0M917 1870h0M917 1900h0M918 1875h0M918 1863h0M918 1915h0M918 1897h0M924 1838h0M923 1909h0M924 1924h0M925 1846h0M924 1894h0M926 1856h0M925 1894h0M924 1894h0M924 1854h0M925 1842h0M927 1905h0M926 1906h0M925 1907h0M927 1911h0M926 1862h0M928 1870h0M930 1829h0M928 1881h0M929 1860h0M929 1861h0M930 1870h0M932 1863h0M930 1858h0M931 1839h0M931 1919h0M936 1921h0M938 1887h0M937 1915h0M938 1892h0M936 1889h0M937 1905h0M937 1891h0M943 1861h0M944 1895h0M945 1863h0M944 1849h0M942 1900h0M945 1906h0M944 1857h0M947 1904h0M947 1890h0M946 1876h0M947 1845h0M949 1894h0M947 1906h0M947 1914h0M949 1849h0M946 1887h0M947 1864h0M949 1844h0M947 1822h0M947 1814h0M948 1917h0M947 1857h0M948 1855h0M956 1837h0M954 1887h0M955 1890h0M955 1835h0M953 1919h0M956 1859h0M953 1887h0M955 1908h0M955 1864h0M957 1893h0M955 1884h0M955 1872h0M956 1908h0M956 1879h0M956 1841h0M956 1875h0M956 1883h0M955 1872h0M961 1868h0M963 1847h0M961 1872h0M962 1835h0M961 1867h0M963 1834h0M961 1853h0M961 1852h0M963 1837h0M963 1907h0M960 1876h0M960 1810h0M963 1777h0M963 1859h0M963 1794h0M961 1814h0M961 1893h0M960 1862h0M961 1805h0M961 1895h0M962 1899h0M968 1905h0M967 1839h0M968 1858h0M969 1863h0M969 1835h0M970 1922h0M967 1904h0M969 1882h0M968 1888h0M968 1914h0M970 1755h0M969 1912h0M967 1828h0M968 1834h0M968 1831h0M968 1849h0M972 1833h0M971 1803h0M971 1918h0M970 1792h0M972 1850h0M971 1912h0M969 1890h0M972 1918h0M972 1781h0M972 1897h0M972 1905h0M972 1845h0M972 1746h0M972 1797h0M971 1775h0M971 1796h0M971 1891h0M972 1804h0M970 1918h0M972 1897h0M975 1772h0M975 1795h0M975 1853h0M978 1901h0M978 1806h0M976 1813h0M975 1722h0M975 1812h0M975 1899h0M976 1862h0M977 1864h0M976 1717h0M977 1787h0M977 1825h0M978 1800h0M979 1828h0M982 1867h0M982 1768h0M981 1881h0M980 1903h0M981 1778h0M979 1794h0M980 1783h0M982 1844h0M980 1800h0M979 1809h0M979 1852h0M982 1892h0M980 1755h0M980 1767h0M979 1861h0M981 1750h0M981 1796h0M981 1879h0M979 1918h0M980 1908h0M979 1923h0M982 1851h0M982 1771h0M985 1804h0M984 1779h0M984 1749h0M983 1813h0M984 1842h0M985 1896h0M983 1788h0M985 1835h0M984 1842h0M985 1846h0M985 1767h0M984 1823h0M983 1839h0M985 1860h0M985 1779h0M988 1739h0M987 1872h0M987 1748h0M990 1812h0M987 1857h0M987 1883h0M989 1812h0M990 1910h0M990 1893h0M990 1835h0M989 1895h0M990 1888h0M990 1777h0M989 1859h0M994 1822h0M995 1807h0M994 1839h0M993 1786h0M995 1790h0M995 1883h0M992 1877h0M999 1800h0M998 1887h0M997 1873h0M998 1846h0M997 1905h0M998 1917h0M998 1803h0M998 1878h0M998 1814h0M1001 1784h0M999 1785h0M999 1788h0M999 1914h0M1000 1868h0M1002 1915h0M1004 1788h0M1004 1864h0M1006 1829h0M1004 1781h0M1006 1908h0M1004 1849h0M1005 1924h0M1006 1858h0M1006 1893h0M1005 1880h0M1006 1815h0M1004 1896h0M1008 1762h0M1008 1873h0M1007 1830h0M1010 1913h0M1008 1823h0M1015 1810h0M1014 1891h0M1013 1884h0M1015 1861h0M1014 1903h0M1015 1923h0M1016 1841h0M1019 1898h0M1017 1897h0M1019 1813h0M1019 1913h0M1019 1874h0M1017 1793h0M1018 1794h0M1018 1820h0M1017 1837h0M1017 1873h0M1018 1812h0M1019 1847h0M1017 1816h0M1018 1854h0M1018 1830h0M1017 1857h0M1017 1842h0M1019 1901h0M1017 1841h0M1025 1866h0M1026 1831h0M1026 1844h0M1023 1855h0M1024 1839h0M1025 1834h0M1025 1766h0M1024 1868h0M1024 1890h0M1025 1860h0M1023 1821h0M1026 1826h0M1025 1878h0M1025 1779h0M1026 1883h0M1026 1776h0M1024 1826h0M1026 1770h0M1025 1887h0M1031 1879h0M1030 1903h0M1031 1905h0M1029 1840h0M1030 1837h0M1031 1745h0M1032 1922h0M1030 1823h0M1030 1767h0M1031 1869h0M1030 1800h0M1032 1833h0M1030 1830h0M1030 1824h0M1031 1876h0M1031 1859h0M1034 1862h0M1033 1902h0M1035 1784h0M1034 1819h0M1034 1793h0M1034 1849h0M1033 1866h0M1037 1894h0M1038 1820h0M1038 1890h0M1039 1882h0M1037 1871h0M1037 1787h0M1039 1851h0M1040 1803h0M1037 1758h0M1038 1919h0M1039 1919h0M1038 1862h0M1037 1815h0M1041 1880h0M1041 1883h0M1039 1872h0M1041 1842h0M1039 1861h0M1040 1881h0M1040 1830h0M1039 1772h0M1043 1920h0M1043 1844h0M1041 1906h0M1043 1910h0M1042 1878h0M1043 1782h0M1041 1865h0M1044 1847h0M1042 1823h0M1045 1881h0M1045 1896h0M1046 1816h0M1046 1843h0M1044 1906h0M1046 1824h0M1044 1877h0M1046 1867h0M1045 1821h0M1045 1916h0M1045 1881h0M1046 1777h0M1046 1911h0M1045 1815h0M1046 1763h0M1045 1788h0M1046 1833h0M1046 1814h0M1052 1757h0M1049 1924h0M1050 1904h0M1051 1890h0M1051 1878h0M1049 1776h0M1049 1921h0M1051 1781h0M1050 1832h0M1053 1841h0M1052 1907h0M1054 1769h0M1054 1864h0M1054 1782h0M1052 1915h0M1053 1904h0M1053 1861h0M1052 1905h0M1053 1892h0M1057 1789h0M1058 1871h0M1056 1823h0M1056 1841h0M1060 1907h0M1060 1866h0M1060 1826h0M1058 1831h0M1058 1875h0M1059 1779h0M1060 1822h0M1060 1911h0M1059 1869h0M885 1162h0M885 1264h0M883 1388h0M885 1441h0M886 1493h0M885 1518h0M885 1571h0M885 1595h0M884 1627h0M886 1636h0M884 1650h0M854 1587h0M854 1595h0M865 1601h0M860 1649h0M950 1566h0M950 1586h0M950 1674h0M964 1672h0M894 1667h0M907 1666h0M883 1675h0M872 1680h0M860 1681h0M853 1685h0M891 1678h0M901 1683h0M920 1686h0M883 1692h0M893 1691h0M905 1691h0M866 1705h0M893 1704h0M878 1717h0M886 1721h0M901 1721h0M917 1725h0M858 1724h0M858 1739h0M872 1738h0M883 1745h0M898 1739h0M917 1736h0M870 1750h0M896 1753h0M901 1757h0M858 1758h0M859 1771h0M926 1767h0M879 1780h0M907 1774h0M923 1799h0M847 1799h0M939 1822h0M939 1850h0M976 1691h0M961 1698h0M953 1701h0M958 1720h0M964 1747h0M964 1760h0M1028 1522h0M1028 1526h0M1028 1568h0M1017 1578h0M1028 1583h0M1028 1648h0M1031 1656h0M1017 1659h0M995 1655h0M997 1664h0M1014 1674h0M1044 1683h0M1047 1691h0M1044 1704h0M1044 1713h0M999 1691h0M980 1691h0M1007 1702h0M1015 1702h0M999 1708h0M1014 1720h0M988 1720h0M997 1727h0M983 1736h0M996 1742h0M1001 1745h0M1008 1755h0M1031 1741h0M1023 1750h0M1029 1763h0M1043 1736h0M1048 1745h0M980 1761h0M994 1771h0M1008 1774h0M1015 1790h0M1031 1780h0M1058 1764h0M1031 1799h0"/>
<path fill="#bebebe" stroke="#bebebe" d="M1089 1935L1089 1922L1092 1922L1094 1932L1100 1932L1104 1932L1108 1932L1113 1932L1118 1932L1120 1932L1122 1932L1126 1932L1130 1932L1132 1932L1135 1932L1137 1932L1144 1928L1147 1922L1151 1903L1155 1901L1157 1896L1161 1888L1163 1880L1166 1873L1172 1871L1175 1873L1177 1884L1182 1889L1187 1889L1189 1889L1192 1889L1197 1889L1201 1889L1203 1893L1205 1914L1211 1921L1215 1931L1217 1932L1220 1932L1222 1932L1224 1932L1226 1932L1230 1932L1236 1932L1240 1932L1244 1932L1246 1932L1251 1932L1255 1932L1259 1932L1264 1932L1267 1932L1269 1932L1275 1932L1282 1932L1285 1919L1287 1932L1291 1932L1294 1932L1294 1935Z"/>
<path fill="none" stroke="#bebebe" d="M1090 1901h0M1087 1838h0M1088 1861h0M1090 1863h0M1087 1792h0M1089 1861h0M1089 1811h0M1088 1923h0M1089 1905h0M1089 1866h0M1088 1908h0M1092 1888h0M1091 1826h0M1093 1923h0M1093 1797h0M1095 1910h0M1095 1856h0M1096 1813h0M1093 1865h0M1095 1835h0M1094 1887h0M1093 1836h0M1093 1908h0M1101 1893h0M1100 1869h0M1101 1914h0M1099 1785h0M1101 1915h0M1100 1899h0M1099 1894h0M1099 1897h0M1100 1849h0M1098 1822h0M1099 1870h0M1101 1883h0M1099 1901h0M1099 1858h0M1102 1880h0M1099 1886h0M1100 1830h0M1099 1796h0M1099 1857h0M1099 1874h0M1103 1920h0M1105 1913h0M1105 1889h0M1103 1923h0M1104 1907h0M1102 1844h0M1103 1925h0M1102 1904h0M1103 1823h0M1103 1850h0M1103 1836h0M1105 1827h0M1104 1865h0M1109 1890h0M1111 1873h0M1114 1893h0M1114 1878h0M1113 1872h0M1112 1884h0M1114 1862h0M1113 1850h0M1114 1909h0M1114 1915h0M1117 1886h0M1117 1903h0M1118 1863h0M1117 1845h0M1121 1916h0M1122 1919h0M1123 1868h0M1122 1874h0M1122 1918h0M1121 1873h0M1122 1910h0M1122 1890h0M1121 1858h0M1122 1899h0M1125 1802h0M1126 1908h0M1127 1914h0M1127 1906h0M1126 1924h0M1127 1813h0M1127 1833h0M1126 1846h0M1126 1860h0M1125 1919h0M1127 1903h0M1126 1888h0M1129 1832h0M1130 1914h0M1130 1810h0M1131 1814h0M1131 1817h0M1128 1856h0M1132 1824h0M1132 1829h0M1133 1793h0M1132 1822h0M1133 1840h0M1133 1886h0M1135 1860h0M1136 1866h0M1136 1831h0M1134 1871h0M1135 1855h0M1135 1873h0M1137 1879h0M1134 1905h0M1134 1813h0M1139 1896h0M1138 1852h0M1136 1909h0M1137 1894h0M1138 1832h0M1139 1804h0M1139 1798h0M1138 1900h0M1138 1843h0M1138 1856h0M1137 1887h0M1137 1850h0M1137 1796h0M1138 1902h0M1138 1862h0M1138 1916h0M1138 1893h0M1137 1841h0M1137 1843h0M1136 1909h0M1136 1842h0M1137 1917h0M1138 1789h0M1139 1915h0M1143 1902h0M1144 1910h0M1144 1884h0M1145 1792h0M1145 1879h0M1145 1895h0M1143 1804h0M1143 1820h0M1144 1817h0M1146 1813h0M1147 1904h0M1147 1780h0M1147 1850h0M1147 1834h0M1148 1880h0M1146 1794h0M1146 1782h0M1148 1870h0M1150 1863h0M1151 1889h0M1152 1865h0M1150 1902h0M1151 1887h0M1150 1822h0M1150 1925h0M1152 1907h0M1152 1909h0M1155 1894h0M1154 1803h0M1156 1830h0M1155 1861h0M1154 1812h0M1154 1828h0M1155 1796h0M1155 1867h0M1153 1779h0M1155 1900h0M1155 1791h0M1158 1749h0M1157 1885h0M1157 1760h0M1158 1917h0M1156 1838h0M1157 1745h0M1159 1866h0M1160 1824h0M1160 1828h0M1160 1839h0M1160 1925h0M1160 1819h0M1159 1758h0M1162 1888h0M1160 1834h0M1161 1890h0M1161 1880h0M1161 1890h0M1160 1731h0M1162 1846h0M1162 1763h0M1163 1849h0M1163 1896h0M1164 1802h0M1166 1831h0M1166 1843h0M1164 1854h0M1166 1923h0M1165 1917h0M1167 1919h0M1166 1853h0M1165 1825h0M1165 1774h0M1165 1798h0M1167 1882h0M1166 1892h0M1165 1808h0M1167 1920h0M1167 1839h0M1167 1913h0M1164 1832h0M1165 1866h0M1165 1862h0M1166 1852h0M1167 1865h0M1165 1869h0M1165 1896h0M1165 1877h0M1166 1861h0M1165 1749h0M1165 1785h0M1165 1817h0M1167 1768h0M1172 1764h0M1173 1922h0M1172 1906h0M1173 1891h0M1173 1921h0M1173 1777h0M1171 1805h0M1172 1908h0M1173 1738h0M1173 1915h0M1174 1914h0M1171 1880h0M1172 1867h0M1173 1803h0M1175 1868h0M1173 1900h0M1173 1782h0M1173 1865h0M1176 1907h0M1177 1764h0M1179 1826h0M1177 1850h0M1178 1833h0M1176 1774h0M1179 1888h0M1178 1778h0M1176 1899h0M1179 1885h0M1177 1905h0M1176 1839h0M1181 1895h0M1181 1785h0M1182 1774h0M1182 1894h0M1181 1862h0M1181 1869h0M1180 1768h0M1183 1841h0M1182 1887h0M1181 1825h0M1181 1792h0M1180 1810h0M1183 1857h0M1182 1867h0M1182 1773h0M1183 1743h0M1183 1820h0M1182 1851h0M1187 1913h0M1188 1797h0M1187 1832h0M1186 1878h0M1187 1815h0M1188 1887h0M1189 1845h0M1190 1881h0M1189 1851h0M1190 1845h0M1187 1781h0M1189 1852h0M1189 1876h0M1189 1869h0M1189 1768h0M1187 1856h0M1190 1853h0M1191 1870h0M1191 1859h0M1193 1824h0M1192 1872h0M1191 1903h0M1192 1832h0M1193 1821h0M1197 1813h0M1196 1816h0M1195 1864h0M1197 1846h0M1198 1837h0M1196 1909h0M1196 1878h0M1196 1916h0M1197 1813h0M1196 1878h0M1196 1741h0M1198 1912h0M1198 1818h0M1197 1879h0M1201 1857h0M1202 1876h0M1201 1884h0M1200 1821h0M1201 1834h0M1201 1823h0M1200 1804h0M1200 1777h0M1205 1750h0M1202 1920h0M1203 1896h0M1205 1895h0M1206 1869h0M1204 1788h0M1207 1823h0M1205 1820h0M1206 1841h0M1207 1873h0M1205 1920h0M1205 1796h0M1205 1812h0M1204 1860h0M1205 1806h0M1205 1896h0M1207 1864h0M1212 1824h0M1211 1898h0M1209 1850h0M1210 1860h0M1210 1879h0M1211 1906h0M1213 1857h0M1212 1852h0M1211 1828h0M1211 1806h0M1211 1778h0M1212 1857h0M1211 1762h0M1209 1916h0M1211 1809h0M1212 1805h0M1212 1839h0M1212 1879h0M1211 1793h0M1212 1869h0M1212 1920h0M1210 1860h0M1210 1875h0M1211 1833h0M1215 1910h0M1214 1854h0M1215 1825h0M1215 1797h0M1216 1890h0M1217 1839h0M1216 1805h0M1216 1878h0M1216 1914h0M1218 1915h0M1216 1913h0M1218 1864h0M1220 1918h0M1220 1873h0M1222 1855h0M1221 1904h0M1223 1885h0M1226 1916h0M1226 1907h0M1226 1835h0M1224 1822h0M1224 1906h0M1225 1913h0M1225 1917h0M1227 1811h0M1225 1834h0M1231 1883h0M1230 1918h0M1229 1858h0M1230 1902h0M1228 1854h0M1229 1900h0M1235 1895h0M1235 1849h0M1236 1923h0M1235 1862h0M1236 1821h0M1237 1890h0M1238 1876h0M1235 1921h0M1237 1857h0M1236 1870h0M1237 1922h0M1236 1916h0M1235 1832h0M1236 1846h0M1236 1909h0M1241 1847h0M1240 1806h0M1241 1843h0M1239 1828h0M1239 1836h0M1240 1900h0M1240 1907h0M1238 1834h0M1239 1862h0M1239 1889h0M1241 1865h0M1240 1920h0M1244 1820h0M1245 1837h0M1245 1919h0M1244 1898h0M1245 1911h0M1243 1860h0M1246 1922h0M1245 1860h0M1244 1848h0M1246 1918h0M1245 1828h0M1248 1861h0M1246 1877h0M1246 1917h0M1248 1828h0M1246 1883h0M1245 1895h0M1250 1915h0M1250 1888h0M1251 1849h0M1251 1873h0M1252 1826h0M1250 1833h0M1251 1911h0M1251 1821h0M1252 1877h0M1252 1828h0M1252 1900h0M1251 1861h0M1251 1854h0M1251 1839h0M1251 1871h0M1251 1854h0M1253 1885h0M1254 1833h0M1255 1851h0M1254 1912h0M1254 1915h0M1256 1888h0M1255 1917h0M1254 1868h0M1254 1889h0M1255 1888h0M1254 1882h0M1254 1840h0M1256 1846h0M1255 1902h0M1260 1870h0M1258 1849h0M1259 1897h0M1259 1870h0M1264 1888h0M1265 1861h0M1264 1921h0M1264 1849h0M1265 1922h0M1264 1870h0M1263 1906h0M1267 1899h0M1266 1908h0M1268 1871h0M1267 1800h0M1270 1852h0M1269 1902h0M1267 1924h0M1268 1844h0M1268 1912h0M1270 1867h0M1270 1898h0M1269 1921h0M1268 1811h0M1268 1922h0M1268 1848h0M1269 1837h0M1267 1894h0M1276 1920h0M1274 1896h0M1274 1841h0M1277 1884h0M1274 1892h0M1276 1885h0M1275 1911h0M1275 1924h0M1274 1880h0M1277 1896h0M1276 1854h0M1277 1866h0M1276 1830h0M1277 1881h0M1274 1885h0M1274 1916h0M1276 1889h0M1275 1854h0M1274 1893h0M1276 1904h0M1276 1880h0M1276 1870h0M1274 1849h0M1276 1867h0M1275 1893h0M1282 1921h0M1282 1853h0M1282 1877h0M1282 1806h0M1282 1794h0M1283 1860h0M1282 1823h0M1282 1796h0M1281 1907h0M1283 1915h0M1281 1880h0M1283 1809h0M1282 1845h0M1285 1844h0M1285 1882h0M1286 1871h0M1285 1903h0M1286 1794h0M1285 1831h0M1287 1842h0M1286 1870h0M1286 1785h0M1287 1855h0M1284 1875h0M1285 1875h0M1286 1904h0M1287 1804h0M1285 1792h0M1285 1891h0M1286 1834h0M1287 1887h0M1286 1888h0M1284 1874h0M1287 1882h0M1287 1861h0M1288 1841h0M1288 1810h0M1287 1888h0M1287 1789h0M1288 1883h0M1288 1919h0M1286 1802h0M1288 1881h0M1288 1885h0M1286 1920h0M1285 1840h0M1286 1795h0M1286 1862h0M1286 1881h0M1287 1888h0M1286 1843h0M1286 1894h0M1286 1859h0M1287 1860h0M1286 1899h0M1290 1794h0M1290 1795h0M1290 1794h0M1291 1872h0M1292 1788h0M1292 1850h0M1291 1860h0M1292 1885h0M1292 1920h0M1291 1903h0M1293 1870h0M1290 1792h0M1292 1812h0M1293 1903h0M1290 1869h0M1292 1865h0M1292 1919h0M1291 1871h0M1296 1830h0M1294 1914h0M1294 1848h0M1294 1891h0M1296 1896h0M1295 1866h0M1089 1525h0M1089 1541h0M1089 1557h0M1089 1570h0M1137 1615h0M1129 1619h0M1165 1593h0M1165 1601h0M1165 1615h0M1186 1598h0M1180 1619h0M1206 1583h0M1206 1598h0M1204 1615h0M1221 1601h0M1257 1583h0M1221 1631h0M1221 1643h0M1221 1651h0M1171 1642h0M1191 1642h0M1148 1656h0M1180 1657h0M1184 1665h0M1203 1661h0M1207 1669h0M1171 1677h0M1192 1677h0M1206 1690h0M1186 1698h0M1203 1701h0M1271 1627h0M1291 1625h0M1278 1662h0M1291 1666h0M1291 1685h0M1291 1722h0M1256 1718h0M1127 1694h0M1104 1709h0M1114 1709h0M1088 1725h0M1095 1734h0M1093 1720h0M1229 1736h0M1239 1745h0M1255 1742h0M1259 1763h0M1273 1782h0M1281 1736h0M1278 1745h0M1290 1755h0M1281 1764h0M1290 1777h0M1240 1760h0M1242 1771h0M1242 1780h0M1164 1719h0M1172 1720h0M1183 1721h0M1183 1734h0M1206 1728h0M1211 1738h0M1163 1736h0M1199 1736h0M1129 1761h0M1136 1761h0M1093 1772h0M1103 1771h0M1114 1790h0M1136 1782h0M1222 1771h0M1257 1228h0M1257 1251h0M1256 1339h0M1259 1441h0M1272 1470h0"/>
<path fill="#87ceeb" stroke="#87ceeb" d="M1324 1935L1324 1932L1326 1932L1331 1932L1334 1932L1336 1932L1338 1932L1340 1932L1342 1932L1346 1932L1351 1932L1356 1932L1359 1932L1361 1932L1364 1932L1366 1932L1369 1932L1375 1932L1379 1932L1381 1932L1382 1932L1386 1932L1390 1932L1395 1932L1400 1932L1403 1932L1407 1932L1410 1932L1413 1932L1418 1930L1421 1932L1426 1932L1429 1932L1431 1932L1438 1932L1441 1932L1444 1932L1450 1932L1454 1932L1456 1932L1458 1932L1465 1932L1469 1932L1472 1932L1476 1932L1479 1932L1482 1932L1486 1932L1489 1932L1492 1932L1498 1932L1500 1932L1502 1932L1505 1932L1509 1932L1514 1932L1516 1931L1518 1928L1519 1926L1520 1925L1520 1935Z"/>
<path fill="none" stroke="#87ceeb" d="M1323 1841h0M1324 1868h0M1326 1868h0M1324 1782h0M1324 1877h0M1323 1801h0M1323 1837h0M1326 1846h0M1327 1856h0M1326 1906h0M1331 1892h0M1330 1892h0M1329 1857h0M1330 1921h0M1330 1896h0M1332 1861h0M1331 1834h0M1331 1898h0M1334 1916h0M1334 1793h0M1334 1897h0M1333 1856h0M1335 1918h0M1335 1892h0M1335 1787h0M1337 1914h0M1336 1904h0M1336 1833h0M1338 1863h0M1339 1877h0M1339 1863h0M1337 1854h0M1338 1896h0M1340 1804h0M1339 1872h0M1339 1909h0M1339 1924h0M1340 1823h0M1341 1843h0M1340 1909h0M1343 1883h0M1344 1802h0M1343 1815h0M1342 1853h0M1343 1870h0M1345 1917h0M1352 1852h0M1352 1883h0M1350 1873h0M1352 1904h0M1351 1830h0M1352 1856h0M1350 1808h0M1351 1865h0M1349 1889h0M1352 1885h0M1350 1896h0M1356 1898h0M1356 1827h0M1355 1864h0M1355 1867h0M1357 1884h0M1356 1916h0M1360 1867h0M1360 1850h0M1359 1839h0M1361 1875h0M1362 1899h0M1360 1893h0M1365 1913h0M1364 1883h0M1364 1895h0M1365 1833h0M1365 1864h0M1367 1923h0M1365 1832h0M1367 1859h0M1370 1917h0M1368 1898h0M1368 1884h0M1374 1874h0M1375 1858h0M1376 1924h0M1375 1898h0M1376 1902h0M1374 1919h0M1376 1859h0M1374 1918h0M1376 1887h0M1377 1829h0M1376 1868h0M1378 1916h0M1380 1875h0M1381 1916h0M1379 1907h0M1379 1905h0M1381 1861h0M1380 1884h0M1378 1816h0M1379 1891h0M1382 1863h0M1381 1859h0M1382 1911h0M1380 1864h0M1381 1922h0M1380 1864h0M1379 1911h0M1383 1828h0M1383 1823h0M1382 1847h0M1383 1899h0M1383 1870h0M1383 1906h0M1383 1923h0M1383 1892h0M1383 1850h0M1385 1897h0M1386 1842h0M1387 1849h0M1385 1786h0M1386 1813h0M1387 1866h0M1385 1925h0M1384 1828h0M1388 1903h0M1389 1885h0M1390 1827h0M1391 1870h0M1390 1841h0M1389 1921h0M1391 1836h0M1391 1898h0M1394 1871h0M1396 1840h0M1395 1922h0M1396 1878h0M1394 1849h0M1397 1886h0M1396 1880h0M1395 1845h0M1395 1836h0M1401 1817h0M1401 1900h0M1400 1844h0M1399 1822h0M1398 1835h0M1398 1895h0M1399 1914h0M1401 1803h0M1398 1882h0M1401 1921h0M1401 1855h0M1399 1894h0M1402 1891h0M1402 1824h0M1403 1803h0M1404 1791h0M1405 1898h0M1403 1838h0M1402 1782h0M1404 1873h0M1404 1803h0M1408 1845h0M1408 1907h0M1410 1852h0M1410 1878h0M1409 1865h0M1408 1791h0M1409 1818h0M1409 1889h0M1408 1874h0M1411 1856h0M1411 1859h0M1411 1827h0M1410 1894h0M1409 1797h0M1411 1866h0M1410 1851h0M1410 1819h0M1410 1910h0M1411 1857h0M1413 1919h0M1412 1826h0M1414 1822h0M1414 1860h0M1413 1826h0M1412 1869h0M1417 1787h0M1418 1857h0M1418 1840h0M1417 1924h0M1418 1801h0M1417 1846h0M1419 1886h0M1417 1896h0M1417 1873h0M1417 1816h0M1420 1899h0M1423 1857h0M1422 1795h0M1421 1882h0M1422 1799h0M1422 1834h0M1422 1828h0M1422 1840h0M1421 1882h0M1422 1868h0M1420 1887h0M1425 1880h0M1427 1832h0M1425 1879h0M1426 1862h0M1425 1885h0M1425 1802h0M1426 1800h0M1427 1880h0M1424 1909h0M1428 1851h0M1430 1916h0M1429 1783h0M1430 1863h0M1430 1785h0M1430 1795h0M1429 1879h0M1429 1880h0M1430 1818h0M1428 1910h0M1429 1918h0M1430 1806h0M1431 1855h0M1433 1850h0M1430 1832h0M1439 1858h0M1439 1840h0M1438 1881h0M1438 1856h0M1439 1907h0M1439 1801h0M1438 1891h0M1438 1890h0M1437 1865h0M1437 1886h0M1438 1851h0M1440 1921h0M1442 1914h0M1441 1815h0M1440 1858h0M1440 1905h0M1445 1810h0M1444 1873h0M1445 1871h0M1442 1913h0M1443 1913h0M1445 1917h0M1442 1906h0M1444 1813h0M1444 1855h0M1443 1896h0M1442 1861h0M1445 1818h0M1445 1859h0M1451 1850h0M1450 1837h0M1450 1917h0M1450 1916h0M1451 1895h0M1449 1900h0M1451 1908h0M1451 1880h0M1449 1823h0M1450 1814h0M1452 1905h0M1455 1918h0M1454 1860h0M1456 1891h0M1455 1818h0M1454 1897h0M1453 1896h0M1454 1821h0M1456 1881h0M1455 1880h0M1459 1830h0M1459 1867h0M1459 1920h0M1458 1844h0M1458 1909h0M1459 1871h0M1458 1892h0M1466 1817h0M1465 1912h0M1464 1813h0M1463 1859h0M1464 1869h0M1465 1869h0M1465 1901h0M1463 1854h0M1464 1856h0M1466 1874h0M1465 1861h0M1466 1887h0M1464 1868h0M1465 1825h0M1469 1896h0M1470 1791h0M1470 1869h0M1469 1904h0M1469 1870h0M1473 1903h0M1471 1808h0M1473 1843h0M1470 1827h0M1471 1827h0M1472 1862h0M1471 1902h0M1473 1810h0M1473 1848h0M1473 1829h0M1473 1849h0M1471 1839h0M1471 1839h0M1473 1851h0M1473 1894h0M1475 1843h0M1478 1902h0M1476 1807h0M1478 1915h0M1477 1915h0M1475 1907h0M1476 1894h0M1479 1798h0M1480 1831h0M1479 1834h0M1480 1868h0M1481 1883h0M1481 1875h0M1483 1906h0M1481 1854h0M1483 1890h0M1481 1906h0M1482 1858h0M1481 1872h0M1481 1809h0M1485 1859h0M1486 1907h0M1486 1905h0M1488 1865h0M1489 1871h0M1490 1851h0M1489 1890h0M1488 1805h0M1492 1862h0M1491 1886h0M1491 1834h0M1491 1884h0M1491 1900h0M1492 1914h0M1491 1855h0M1490 1883h0M1490 1905h0M1492 1887h0M1491 1861h0M1497 1793h0M1498 1857h0M1499 1848h0M1497 1857h0M1497 1896h0M1501 1878h0M1498 1879h0M1498 1879h0M1501 1806h0M1501 1897h0M1502 1853h0M1500 1885h0M1502 1855h0M1502 1833h0M1502 1856h0M1504 1853h0M1506 1843h0M1505 1873h0M1504 1903h0M1510 1872h0M1509 1809h0M1508 1900h0M1509 1895h0M1510 1896h0M1511 1852h0M1510 1843h0M1510 1865h0M1509 1908h0M1510 1904h0M1509 1853h0M1510 1917h0M1510 1903h0M1508 1903h0M1509 1838h0M1510 1796h0M1508 1888h0M1509 1916h0M1508 1850h0M1511 1850h0M1511 1886h0M1509 1878h0M1510 1864h0M1511 1884h0M1509 1798h0M1508 1836h0M1510 1810h0M1508 1799h0M1509 1874h0M1508 1922h0M1512 1867h0M1512 1873h0M1515 1892h0M1514 1822h0M1515 1919h0M1513 1919h0M1515 1865h0M1514 1783h0M1516 1912h0M1515 1906h0M1515 1924h0M1518 1854h0M1519 1880h0M1520 1896h0M1520 1803h0M1521 1852h0M1521 1830h0M1521 1867h0M1521 1903h0M1521 1887h0M1520 1804h0M1519 1826h0M1519 1862h0M1522 1917h0M1521 1802h0M1520 1814h0M1521 1811h0M1520 1920h0M1522 1871h0M1521 1825h0M1325 1583h0M1377 1536h0M1416 1532h0M1450 1521h0M1463 1558h0M1496 1570h0M1411 1586h0M1427 1600h0M1448 1608h0M1463 1606h0M1516 1608h0M1516 1619h0M1516 1642h0M1441 1633h0M1452 1650h0M1387 1657h0M1380 1662h0M1419 1662h0M1368 1672h0M1366 1685h0M1381 1680h0M1323 1674h0M1325 1683h0M1331 1691h0M1323 1699h0M1517 1682h0M1513 1689h0M1519 1711h0M1394 1700h0M1406 1702h0M1408 1715h0M1402 1725h0M1419 1721h0M1425 1714h0M1361 1712h0M1368 1718h0M1325 1726h0M1479 1711h0M1494 1704h0M1499 1700h0M1496 1717h0M1447 1720h0M1445 1726h0M1461 1727h0M1448 1741h0M1462 1741h0M1340 1739h0M1332 1745h0M1380 1744h0M1391 1753h0M1403 1744h0M1405 1752h0M1423 1745h0M1429 1748h0M1323 1757h0M1325 1764h0M1378 1761h0M1401 1768h0M1440 1763h0M1452 1755h0M1447 1771h0M1456 1769h0M1475 1771h0M1480 1769h0M1485 1723h0M1485 1736h0M1486 1748h0M1498 1736h0M1513 1734h0M1517 1745h0M1512 1761h0M1520 1773h0M1341 1784h0M1332 1780h0M1323 1777h0M1353 1797h0M1367 1791h0M1373 1790h0M1373 1438h0"/>
<path fill="#bebebe" stroke="#bebebe" d="M1549 1935L1549 1932L1553 1932L1556 1932L1559 1932L1562 1932L1568 1932L1571 1932L1573 1912L1577 1898L1584 1888L1586 1895L1589 1903L1594 1909L1599 1912L1602 1923L1603 1932L1608 1932L1614 1932L1616 1932L1619 1932L1625 1932L1629 1932L1632 1932L1634 1932L1637 1932L1639 1932L1643 1932L1644 1932L1647 1932L1651 1932L1655 1932L1662 1932L1666 1932L1669 1932L1672 1932L1675 1932L1677 1932L1683 1932L1690 1929L1692 1925L1694 1923L1696 1926L1699 1928L1702 1932L1704 1932L1707 1932L1709 1932L1712 1932L1719 1930L1722 1924L1724 1912L1726 1909L1733 1907L1734 1905L1734 1935Z"/>
<path fill="none" stroke="#bebebe" d="M1549 1864h0M1549 1923h0M1550 1869h0M1548 1906h0M1549 1841h0M1555 1896h0M1553 1842h0M1554 1877h0M1554 1852h0M1554 1815h0M1553 1892h0M1552 1792h0M1553 1810h0M1555 1893h0M1555 1830h0M1552 1895h0M1553 1845h0M1558 1884h0M1558 1893h0M1558 1827h0M1556 1915h0M1557 1901h0M1557 1905h0M1558 1896h0M1557 1886h0M1556 1887h0M1555 1842h0M1557 1902h0M1558 1871h0M1559 1856h0M1559 1834h0M1558 1814h0M1560 1924h0M1558 1827h0M1559 1918h0M1560 1914h0M1559 1849h0M1563 1922h0M1561 1870h0M1563 1792h0M1564 1916h0M1562 1871h0M1562 1796h0M1562 1845h0M1563 1830h0M1562 1881h0M1568 1768h0M1569 1890h0M1568 1861h0M1567 1828h0M1566 1906h0M1569 1905h0M1569 1882h0M1567 1801h0M1566 1919h0M1567 1894h0M1567 1913h0M1571 1915h0M1570 1858h0M1569 1853h0M1572 1908h0M1572 1881h0M1572 1853h0M1572 1810h0M1574 1789h0M1572 1773h0M1573 1808h0M1573 1781h0M1572 1881h0M1574 1874h0M1574 1921h0M1574 1849h0M1574 1849h0M1573 1735h0M1573 1833h0M1573 1768h0M1575 1869h0M1574 1830h0M1576 1805h0M1576 1829h0M1576 1917h0M1576 1832h0M1576 1802h0M1578 1880h0M1577 1827h0M1578 1898h0M1577 1819h0M1577 1917h0M1576 1799h0M1578 1898h0M1575 1851h0M1576 1791h0M1578 1850h0M1576 1777h0M1576 1828h0M1577 1824h0M1584 1850h0M1585 1819h0M1582 1849h0M1584 1740h0M1583 1807h0M1583 1851h0M1585 1898h0M1585 1869h0M1585 1797h0M1584 1838h0M1582 1824h0M1584 1799h0M1585 1840h0M1584 1877h0M1583 1835h0M1583 1830h0M1584 1895h0M1583 1856h0M1582 1810h0M1582 1754h0M1585 1887h0M1584 1880h0M1585 1868h0M1586 1802h0M1585 1784h0M1584 1843h0M1586 1912h0M1585 1858h0M1589 1793h0M1590 1866h0M1589 1818h0M1589 1872h0M1588 1826h0M1588 1781h0M1588 1783h0M1590 1840h0M1588 1751h0M1589 1828h0M1588 1797h0M1590 1813h0M1589 1759h0M1588 1787h0M1588 1761h0M1589 1812h0M1595 1818h0M1595 1845h0M1596 1879h0M1594 1906h0M1594 1870h0M1595 1762h0M1594 1794h0M1595 1863h0M1593 1764h0M1595 1849h0M1594 1905h0M1595 1895h0M1593 1790h0M1593 1763h0M1595 1862h0M1593 1831h0M1594 1821h0M1595 1822h0M1593 1824h0M1594 1874h0M1600 1878h0M1597 1871h0M1600 1888h0M1600 1825h0M1599 1870h0M1600 1770h0M1598 1890h0M1603 1858h0M1602 1910h0M1602 1866h0M1603 1831h0M1602 1807h0M1602 1790h0M1602 1831h0M1603 1814h0M1602 1904h0M1602 1921h0M1604 1782h0M1603 1915h0M1605 1762h0M1605 1799h0M1603 1782h0M1609 1883h0M1608 1908h0M1606 1859h0M1607 1838h0M1609 1879h0M1608 1885h0M1607 1849h0M1606 1919h0M1607 1896h0M1607 1909h0M1607 1921h0M1606 1863h0M1607 1867h0M1608 1872h0M1609 1798h0M1606 1880h0M1609 1854h0M1608 1815h0M1607 1890h0M1607 1898h0M1607 1822h0M1608 1885h0M1614 1806h0M1614 1890h0M1615 1883h0M1616 1877h0M1615 1846h0M1613 1909h0M1614 1917h0M1615 1855h0M1616 1916h0M1617 1899h0M1618 1883h0M1617 1906h0M1618 1878h0M1619 1902h0M1617 1921h0M1617 1867h0M1618 1829h0M1618 1871h0M1617 1870h0M1620 1912h0M1618 1913h0M1618 1922h0M1620 1865h0M1618 1917h0M1618 1916h0M1618 1877h0M1626 1923h0M1625 1868h0M1625 1898h0M1627 1923h0M1626 1847h0M1624 1924h0M1627 1851h0M1625 1852h0M1624 1903h0M1626 1881h0M1624 1921h0M1626 1899h0M1625 1910h0M1625 1917h0M1626 1887h0M1630 1894h0M1629 1919h0M1630 1911h0M1633 1831h0M1632 1882h0M1631 1903h0M1632 1863h0M1632 1924h0M1633 1877h0M1631 1874h0M1633 1914h0M1634 1860h0M1634 1890h0M1637 1904h0M1637 1922h0M1638 1915h0M1638 1922h0M1636 1870h0M1636 1899h0M1638 1897h0M1635 1886h0M1636 1890h0M1638 1855h0M1639 1824h0M1640 1873h0M1640 1905h0M1639 1884h0M1640 1867h0M1639 1913h0M1640 1897h0M1639 1886h0M1642 1901h0M1644 1860h0M1644 1814h0M1643 1879h0M1643 1919h0M1644 1883h0M1642 1838h0M1644 1845h0M1646 1921h0M1648 1885h0M1648 1853h0M1646 1879h0M1646 1898h0M1647 1885h0M1646 1834h0M1647 1899h0M1646 1923h0M1647 1885h0M1648 1908h0M1650 1858h0M1651 1872h0M1652 1907h0M1653 1895h0M1652 1893h0M1656 1865h0M1655 1897h0M1655 1861h0M1656 1835h0M1654 1913h0M1655 1886h0M1655 1921h0M1654 1907h0M1656 1873h0M1657 1907h0M1657 1889h0M1657 1870h0M1656 1923h0M1657 1865h0M1663 1909h0M1661 1867h0M1661 1891h0M1662 1871h0M1663 1899h0M1662 1855h0M1663 1905h0M1661 1849h0M1662 1906h0M1661 1921h0M1663 1851h0M1666 1893h0M1667 1896h0M1666 1895h0M1667 1851h0M1666 1914h0M1665 1921h0M1665 1808h0M1667 1918h0M1668 1794h0M1670 1814h0M1668 1918h0M1670 1875h0M1669 1878h0M1669 1858h0M1670 1897h0M1670 1832h0M1668 1896h0M1669 1923h0M1669 1919h0M1668 1892h0M1673 1923h0M1673 1900h0M1671 1862h0M1674 1846h0M1674 1891h0M1674 1871h0M1674 1884h0M1675 1880h0M1677 1791h0M1677 1898h0M1676 1899h0M1678 1859h0M1678 1813h0M1676 1897h0M1677 1914h0M1678 1820h0M1677 1812h0M1675 1913h0M1675 1874h0M1677 1903h0M1676 1862h0M1676 1824h0M1684 1810h0M1683 1808h0M1683 1881h0M1684 1857h0M1683 1923h0M1683 1842h0M1682 1784h0M1684 1887h0M1684 1888h0M1684 1866h0M1682 1800h0M1684 1891h0M1683 1885h0M1682 1902h0M1691 1890h0M1691 1837h0M1691 1881h0M1690 1787h0M1689 1881h0M1690 1853h0M1688 1843h0M1691 1887h0M1688 1874h0M1691 1890h0M1688 1874h0M1690 1895h0M1690 1768h0M1690 1776h0M1693 1780h0M1693 1902h0M1690 1856h0M1692 1852h0M1692 1774h0M1693 1913h0M1693 1860h0M1693 1782h0M1693 1869h0M1691 1866h0M1690 1828h0M1691 1863h0M1694 1870h0M1693 1912h0M1695 1850h0M1696 1864h0M1694 1862h0M1693 1901h0M1694 1863h0M1696 1889h0M1696 1834h0M1696 1871h0M1697 1906h0M1695 1814h0M1697 1827h0M1696 1921h0M1695 1878h0M1694 1870h0M1696 1924h0M1695 1786h0M1699 1841h0M1700 1838h0M1699 1920h0M1698 1828h0M1701 1909h0M1699 1904h0M1700 1804h0M1701 1888h0M1699 1873h0M1699 1880h0M1700 1847h0M1700 1818h0M1703 1904h0M1703 1774h0M1701 1896h0M1701 1874h0M1703 1890h0M1702 1877h0M1703 1776h0M1704 1861h0M1707 1866h0M1707 1904h0M1708 1914h0M1707 1873h0M1707 1833h0M1708 1885h0M1709 1812h0M1708 1921h0M1710 1859h0M1710 1925h0M1709 1871h0M1710 1853h0M1708 1842h0M1709 1861h0M1714 1905h0M1712 1887h0M1713 1815h0M1712 1899h0M1711 1848h0M1711 1864h0M1711 1896h0M1712 1870h0M1711 1775h0M1713 1874h0M1711 1916h0M1713 1888h0M1713 1787h0M1712 1801h0M1714 1891h0M1711 1877h0M1720 1855h0M1717 1795h0M1720 1822h0M1719 1759h0M1719 1874h0M1718 1811h0M1719 1890h0M1720 1896h0M1720 1787h0M1717 1882h0M1717 1911h0M1717 1861h0M1719 1790h0M1720 1853h0M1718 1905h0M1719 1841h0M1720 1838h0M1721 1904h0M1721 1788h0M1721 1825h0M1722 1760h0M1721 1869h0M1720 1864h0M1722 1859h0M1723 1897h0M1723 1849h0M1723 1888h0M1723 1787h0M1722 1908h0M1724 1789h0M1724 1794h0M1724 1857h0M1724 1896h0M1727 1818h0M1728 1865h0M1727 1796h0M1727 1799h0M1725 1885h0M1726 1869h0M1727 1917h0M1727 1907h0M1726 1880h0M1726 1843h0M1725 1775h0M1728 1876h0M1726 1873h0M1726 1883h0M1726 1878h0M1727 1874h0M1726 1816h0M1725 1842h0M1726 1807h0M1727 1904h0M1725 1876h0M1727 1901h0M1727 1882h0M1733 1852h0M1733 1917h0M1733 1867h0M1733 1831h0M1733 1768h0M1734 1905h0M1732 1792h0M1734 1794h0M1732 1913h0M1734 1884h0M1734 1878h0M1732 1805h0M1735 1836h0M1735 1826h0M1733 1851h0M1733 1784h0M1733 1799h0M1734 1853h0M1735 1876h0M1735 1823h0M1733 1769h0M1735 1842h0M1734 1923h0M1735 1887h0M1734 1861h0M1735 1823h0M1735 1847h0M1735 1815h0M1581 1483h0M1581 1484h0M1583 1487h0M1581 1490h0M1580 1496h0M1582 1498h0M1582 1503h0M1580 1503h0M1583 1507h0M1581 1511h0M1583 1513h0M1582 1517h0M1580 1521h0M1582 1525h0M1580 1529h0M1582 1533h0M1584 1536h0M1581 1537h0M1582 1541h0M1580 1545h0M1580 1547h0M1581 1551h0M1582 1552h0M1584 1554h0M1576 1557h0M1581 1558h0M1584 1562h0M1582 1564h0M1581 1565h0M1575 1569h0M1580 1573h0M1575 1574h0M1575 1576h0M1575 1581h0M1586 1580h0M1583 1585h0M1584 1587h0M1584 1590h0M1576 1594h0M1578 1594h0M1575 1597h0M1580 1601h0M1575 1604h0M1575 1606h0M1581 1608h0M1585 1609h0M1578 1613h0M1578 1616h0M1581 1618h0M1579 1621h0M1586 1624h0M1577 1628h0M1577 1628h0M1580 1632h0M1585 1632h0M1579 1637h0M1579 1637h0M1576 1642h0M1585 1646h0M1579 1647h0M1582 1648h0M1580 1651h0M1583 1655h0M1583 1657h0M1575 1658h0M1578 1663h0M1579 1665h0M1577 1667h0M1579 1669h0M1584 1672h0M1583 1676h0M1576 1676h0M1581 1682h0M1584 1683h0M1580 1685h0M1579 1689h0M1575 1691h0M1575 1693h0M1584 1695h0M1581 1699h0M1585 1702h0M1584 1705h0M1582 1706h0M1581 1711h0M1577 1710h0M1583 1713h0M1575 1718h0M1583 1721h0M1586 1721h0M1576 1724h0M1583 1725h0M1576 1728h0M1723 1494h0M1723 1496h0M1721 1499h0M1723 1507h0M1723 1509h0M1723 1514h0M1722 1518h0M1721 1525h0M1595 1568h0M1596 1576h0M1596 1585h0M1595 1600h0M1596 1646h0M1596 1669h0M1596 1675h0M1596 1684h0M1595 1710h0M1575 1555h0M1574 1599h0M1575 1639h0M1730 1532h0M1663 1578h0M1663 1597h0M1663 1616h0M1703 1601h0M1731 1601h0M1734 1651h0M1734 1657h0M1690 1671h0M1703 1687h0M1731 1687h0M1681 1696h0M1697 1698h0M1695 1713h0M1724 1718h0M1685 1728h0M1705 1738h0M1724 1734h0M1735 1737h0M1676 1744h0M1666 1751h0M1689 1744h0M1550 1689h0M1550 1715h0M1552 1723h0M1553 1733h0M1556 1750h0M1550 1758h0M1564 1769h0M1548 1777h0M1564 1796h0M1550 1793h0M1549 1807h0M1642 1727h0M1641 1736h0M1642 1745h0M1635 1752h0M1625 1755h0M1617 1752h0M1611 1738h0M1603 1729h0M1625 1771h0M1642 1764h0M1625 1789h0M1608 1791h0M1641 1801h0M1625 1812h0M1638 1819h0M1663 1795h0M1692 1791h0M1674 1771h0M1684 1764h0M1697 1757h0M1701 1771h0M1714 1750h0M1725 1761h0M1738 1752h0M1582 1445h0M1583 1485h0M1730 1453h0M1722 1471h0M1722 1478h0M1722 1494h0"/>
<path fill="#87ceeb" stroke="#87ceeb" d="M1763 1935L1763 1906L1766 1906L1770 1913L1776 1913L1780 1913L1782 1913L1788 1915L1790 1916L1793 1918L1796 1919L1799 1919L1800 1919L1807 1920L1809 1932L1816 1932L1823 1932L1824 1932L1826 1932L1832 1932L1839 1932L1841 1916L1843 1916L1849 1916L1852 1916L1854 1916L1858 1916L1860 1916L1862 1916L1867 1912L1869 1909L1872 1913L1877 1916L1879 1916L1881 1916L1884 1916L1886 1916L1888 1912L1893 1909L1895 1906L1898 1910L1900 1918L1906 1918L1912 1918L1918 1918L1925 1932L1929 1932L1934 1932L1934 1935Z"/>
<path fill="none" stroke="#87ceeb" d="M1765 1880h0M1762 1855h0M1765 1894h0M1763 1825h0M1763 1810h0M1763 1822h0M1762 1819h0M1768 1765h0M1765 1802h0M1766 1786h0M1765 1835h0M1768 1920h0M1765 1872h0M1766 1789h0M1765 1862h0M1769 1843h0M1768 1813h0M1770 1856h0M1770 1851h0M1771 1847h0M1770 1773h0M1770 1882h0M1768 1810h0M1768 1891h0M1769 1869h0M1769 1892h0M1769 1862h0M1770 1881h0M1769 1870h0M1771 1789h0M1769 1833h0M1769 1891h0M1770 1859h0M1774 1838h0M1775 1881h0M1776 1881h0M1776 1778h0M1775 1871h0M1775 1881h0M1776 1812h0M1775 1887h0M1775 1923h0M1776 1890h0M1776 1889h0M1777 1906h0M1775 1832h0M1777 1814h0M1775 1917h0M1777 1817h0M1775 1879h0M1776 1840h0M1774 1799h0M1777 1873h0M1776 1815h0M1776 1886h0M1780 1914h0M1779 1836h0M1779 1900h0M1778 1848h0M1781 1882h0M1780 1849h0M1782 1846h0M1782 1860h0M1781 1809h0M1781 1902h0M1781 1828h0M1783 1885h0M1780 1814h0M1782 1886h0M1781 1906h0M1782 1846h0M1781 1808h0M1787 1868h0M1788 1901h0M1789 1908h0M1789 1826h0M1787 1815h0M1788 1900h0M1789 1802h0M1787 1862h0M1787 1851h0M1787 1896h0M1787 1851h0M1789 1830h0M1791 1856h0M1790 1904h0M1795 1876h0M1794 1856h0M1794 1902h0M1792 1809h0M1792 1824h0M1792 1836h0M1795 1841h0M1792 1805h0M1796 1820h0M1796 1882h0M1796 1818h0M1795 1904h0M1795 1869h0M1795 1914h0M1794 1906h0M1797 1794h0M1795 1820h0M1794 1834h0M1797 1843h0M1795 1913h0M1795 1913h0M1798 1845h0M1799 1897h0M1798 1784h0M1798 1793h0M1800 1823h0M1801 1867h0M1799 1842h0M1800 1886h0M1799 1792h0M1799 1890h0M1800 1904h0M1802 1884h0M1801 1826h0M1799 1831h0M1801 1874h0M1800 1854h0M1802 1808h0M1808 1895h0M1806 1817h0M1806 1883h0M1806 1817h0M1807 1867h0M1807 1836h0M1808 1905h0M1807 1782h0M1806 1795h0M1808 1922h0M1808 1883h0M1811 1863h0M1809 1806h0M1810 1765h0M1810 1833h0M1809 1858h0M1811 1815h0M1809 1851h0M1809 1883h0M1811 1893h0M1810 1889h0M1810 1889h0M1809 1883h0M1811 1884h0M1809 1861h0M1815 1883h0M1815 1829h0M1816 1897h0M1816 1857h0M1817 1853h0M1815 1820h0M1817 1834h0M1815 1852h0M1815 1887h0M1816 1890h0M1815 1796h0M1816 1855h0M1815 1813h0M1816 1856h0M1815 1850h0M1816 1901h0M1815 1866h0M1816 1849h0M1816 1878h0M1821 1897h0M1821 1886h0M1823 1815h0M1823 1886h0M1824 1907h0M1827 1826h0M1827 1894h0M1828 1889h0M1826 1882h0M1826 1862h0M1826 1855h0M1826 1903h0M1828 1855h0M1833 1891h0M1831 1831h0M1831 1841h0M1832 1820h0M1832 1822h0M1831 1869h0M1834 1863h0M1832 1836h0M1831 1844h0M1832 1805h0M1831 1846h0M1832 1790h0M1833 1903h0M1831 1884h0M1832 1878h0M1832 1881h0M1832 1865h0M1831 1862h0M1831 1810h0M1832 1796h0M1838 1860h0M1838 1891h0M1838 1826h0M1840 1817h0M1838 1831h0M1838 1871h0M1840 1860h0M1840 1917h0M1839 1789h0M1840 1899h0M1839 1826h0M1838 1837h0M1837 1844h0M1839 1818h0M1838 1857h0M1837 1854h0M1840 1845h0M1840 1911h0M1843 1794h0M1841 1795h0M1844 1895h0M1842 1889h0M1843 1889h0M1843 1802h0M1843 1917h0M1844 1856h0M1843 1857h0M1844 1852h0M1844 1905h0M1844 1880h0M1842 1888h0M1843 1888h0M1844 1829h0M1844 1883h0M1842 1878h0M1844 1881h0M1844 1860h0M1844 1846h0M1848 1896h0M1848 1819h0M1851 1858h0M1849 1808h0M1848 1886h0M1850 1849h0M1850 1836h0M1851 1918h0M1849 1849h0M1849 1925h0M1850 1877h0M1848 1850h0M1851 1841h0M1853 1819h0M1850 1809h0M1851 1887h0M1851 1869h0M1851 1906h0M1851 1917h0M1851 1847h0M1853 1884h0M1851 1869h0M1852 1915h0M1853 1801h0M1855 1844h0M1855 1857h0M1854 1837h0M1854 1874h0M1853 1904h0M1854 1855h0M1854 1807h0M1854 1890h0M1855 1868h0M1859 1890h0M1856 1805h0M1858 1925h0M1857 1846h0M1856 1785h0M1859 1824h0M1857 1827h0M1860 1917h0M1858 1875h0M1860 1881h0M1863 1822h0M1862 1881h0M1863 1848h0M1861 1887h0M1861 1905h0M1861 1859h0M1862 1844h0M1869 1895h0M1866 1832h0M1867 1814h0M1869 1774h0M1867 1774h0M1867 1872h0M1867 1767h0M1867 1795h0M1867 1817h0M1866 1803h0M1868 1851h0M1867 1855h0M1869 1884h0M1868 1913h0M1869 1882h0M1871 1865h0M1870 1896h0M1869 1832h0M1870 1834h0M1870 1901h0M1869 1918h0M1869 1855h0M1868 1806h0M1870 1821h0M1871 1874h0M1872 1855h0M1873 1900h0M1872 1904h0M1877 1916h0M1877 1818h0M1877 1906h0M1875 1863h0M1876 1840h0M1877 1777h0M1875 1908h0M1878 1819h0M1877 1864h0M1877 1875h0M1875 1839h0M1878 1903h0M1877 1852h0M1877 1808h0M1877 1870h0M1875 1809h0M1875 1821h0M1877 1826h0M1876 1908h0M1876 1908h0M1878 1915h0M1876 1837h0M1875 1836h0M1878 1875h0M1878 1881h0M1879 1863h0M1879 1776h0M1880 1807h0M1881 1865h0M1881 1841h0M1881 1851h0M1885 1790h0M1885 1898h0M1885 1895h0M1884 1891h0M1883 1826h0M1884 1879h0M1885 1900h0M1885 1915h0M1886 1902h0M1887 1837h0M1886 1862h0M1887 1901h0M1888 1773h0M1890 1820h0M1887 1869h0M1888 1887h0M1887 1795h0M1889 1904h0M1890 1771h0M1893 1817h0M1892 1880h0M1892 1904h0M1892 1921h0M1893 1848h0M1894 1809h0M1895 1768h0M1896 1869h0M1897 1825h0M1897 1885h0M1895 1811h0M1895 1798h0M1894 1880h0M1895 1909h0M1896 1863h0M1895 1910h0M1899 1910h0M1899 1923h0M1899 1891h0M1896 1915h0M1896 1905h0M1897 1781h0M1896 1924h0M1900 1902h0M1898 1813h0M1900 1772h0M1898 1876h0M1900 1849h0M1901 1876h0M1900 1922h0M1907 1902h0M1905 1849h0M1906 1821h0M1907 1920h0M1907 1861h0M1907 1918h0M1905 1869h0M1906 1908h0M1907 1845h0M1907 1885h0M1907 1780h0M1907 1842h0M1912 1813h0M1913 1874h0M1912 1858h0M1912 1909h0M1912 1907h0M1911 1867h0M1911 1884h0M1911 1830h0M1911 1880h0M1913 1863h0M1913 1870h0M1913 1877h0M1911 1890h0M1913 1881h0M1913 1866h0M1911 1823h0M1912 1838h0M1913 1833h0M1912 1798h0M1920 1909h0M1919 1815h0M1919 1919h0M1918 1839h0M1917 1875h0M1918 1821h0M1919 1884h0M1920 1901h0M1918 1846h0M1919 1908h0M1919 1877h0M1919 1881h0M1919 1854h0M1920 1788h0M1919 1809h0M1919 1825h0M1924 1844h0M1924 1818h0M1925 1850h0M1923 1781h0M1926 1816h0M1923 1913h0M1923 1909h0M1926 1915h0M1924 1902h0M1923 1779h0M1925 1855h0M1923 1908h0M1925 1803h0M1924 1898h0M1926 1879h0M1926 1774h0M1924 1853h0M1924 1862h0M1924 1830h0M1924 1832h0M1923 1873h0M1924 1815h0M1924 1795h0M1924 1792h0M1925 1887h0M1923 1880h0M1930 1872h0M1930 1822h0M1930 1843h0M1930 1859h0M1930 1831h0M1929 1845h0M1929 1912h0M1927 1800h0M1930 1847h0M1930 1861h0M1929 1798h0M1929 1924h0M1928 1854h0M1930 1873h0M1934 1880h0M1934 1884h0M1933 1868h0M1933 1919h0M1935 1920h0M1934 1917h0M1935 1867h0M1834 1503h0M1806 1517h0M1889 1536h0M1834 1566h0M1868 1572h0M1809 1587h0M1834 1620h0M1885 1625h0M1919 1643h0M1808 1664h0M1885 1671h0M1763 1669h0M1763 1685h0M1771 1694h0M1868 1688h0M1849 1698h0M1795 1698h0M1924 1664h0M1923 1672h0M1915 1679h0M1924 1688h0M1925 1696h0M1925 1705h0M1915 1713h0M1927 1720h0M1889 1712h0M1889 1725h0M1889 1736h0M1861 1713h0M1868 1718h0M1874 1728h0M1791 1711h0M1797 1720h0M1797 1729h0M1818 1722h0M1834 1722h0M1846 1729h0M1809 1735h0M1834 1737h0M1795 1745h0M1846 1751h0M1834 1753h0M1768 1746h0M1773 1748h0M1811 1755h0M1867 1753h0M1875 1760h0M1927 1756h0M1924 1765h0M1891 1763h0M1904 1764h0M1834 1771h0M1848 1772h0M1859 1771h0M1868 1776h0M1778 1764h0M1791 1764h0M1803 1772h0M1786 1783h0M1846 1787h0M1864 1792h0M1832 1796h0M1913 1775h0M1883 1777h0M1869 1415h0M1869 1424h0M1834 1455h0M1869 1475h0"/>
<path fill="#bebebe" stroke="#bebebe" d="M1963 1935L1963 1932L1966 1932L1972 1932L1974 1932L1978 1932L1985 1932L1989 1932L1995 1932L2001 1932L2008 1932L2011 1932L2013 1932L2019 1932L2021 1932L2025 1932L2028 1932L2030 1932L2032 1932L2039 1932L2042 1932L2044 1932L2047 1932L2048 1932L2051 1932L2055 1932L2058 1932L2061 1932L2065 1932L2067 1932L2071 1932L2073 1932L2076 1932L2078 1932L2082 1932L2088 1932L2095 1932L2098 1932L2105 1932L2107 1932L2109 1932L2113 1932L2118 1932L2122 1932L2122 1935Z"/>
<path fill="none" stroke="#bebebe" d="M1963 1845h0M1964 1919h0M1963 1910h0M1964 1895h0M1964 1916h0M1964 1906h0M1967 1892h0M1966 1792h0M1966 1890h0M1965 1816h0M1965 1850h0M1965 1892h0M1966 1924h0M1967 1871h0M1965 1917h0M1964 1812h0M1971 1924h0M1973 1869h0M1973 1803h0M1972 1912h0M1973 1921h0M1972 1811h0M1972 1887h0M1973 1887h0M1971 1902h0M1973 1904h0M1973 1909h0M1971 1878h0M1972 1851h0M1974 1849h0M1971 1898h0M1971 1875h0M1973 1873h0M1976 1823h0M1975 1913h0M1974 1888h0M1975 1912h0M1976 1900h0M1976 1889h0M1973 1804h0M1975 1881h0M1974 1858h0M1974 1855h0M1975 1893h0M1975 1818h0M1974 1827h0M1977 1824h0M1979 1814h0M1977 1916h0M1979 1895h0M1977 1900h0M1978 1856h0M1979 1871h0M1979 1883h0M1977 1834h0M1977 1821h0M1980 1809h0M1979 1805h0M1979 1870h0M1978 1904h0M1978 1870h0M1979 1922h0M1980 1805h0M1979 1845h0M1978 1920h0M1977 1919h0M1977 1890h0M1979 1890h0M1978 1924h0M1984 1860h0M1984 1911h0M1984 1860h0M1985 1902h0M1984 1858h0M1986 1890h0M1984 1843h0M1983 1838h0M1983 1850h0M1985 1909h0M1986 1851h0M1984 1872h0M1984 1803h0M1985 1839h0M1985 1886h0M1985 1842h0M1986 1924h0M1984 1924h0M1985 1868h0M1990 1890h0M1989 1922h0M1989 1921h0M1990 1880h0M1989 1895h0M1990 1841h0M1989 1823h0M1988 1886h0M1989 1890h0M1990 1902h0M1989 1845h0M1988 1896h0M1991 1913h0M1989 1862h0M1989 1869h0M1989 1908h0M1990 1874h0M1996 1847h0M1994 1891h0M1995 1831h0M1995 1862h0M1994 1849h0M1995 1840h0M1994 1850h0M1997 1811h0M1996 1850h0M1995 1802h0M1996 1861h0M1995 1911h0M1997 1849h0M2002 1861h0M2002 1924h0M2000 1885h0M2000 1909h0M2002 1850h0M2002 1866h0M2001 1897h0M2001 1848h0M2002 1863h0M2003 1830h0M2001 1826h0M2000 1889h0M2003 1900h0M2002 1850h0M2002 1795h0M2006 1853h0M2009 1840h0M2007 1893h0M2009 1887h0M2009 1883h0M2008 1859h0M2007 1902h0M2009 1886h0M2007 1799h0M2007 1861h0M2009 1852h0M2007 1846h0M2009 1909h0M2007 1851h0M2009 1838h0M2011 1851h0M2012 1850h0M2009 1892h0M2009 1836h0M2014 1915h0M2011 1888h0M2013 1871h0M2012 1804h0M2013 1905h0M2013 1836h0M2013 1818h0M2014 1869h0M2012 1921h0M2013 1914h0M2014 1835h0M2020 1808h0M2019 1866h0M2020 1896h0M2020 1827h0M2020 1872h0M2019 1901h0M2020 1853h0M2021 1918h0M2018 1865h0M2021 1862h0M2022 1885h0M2022 1817h0M2020 1854h0M2023 1814h0M2024 1874h0M2025 1907h0M2026 1893h0M2025 1906h0M2025 1794h0M2025 1824h0M2023 1849h0M2024 1847h0M2028 1862h0M2027 1896h0M2029 1906h0M2027 1910h0M2027 1850h0M2029 1918h0M2030 1801h0M2029 1866h0M2030 1868h0M2031 1920h0M2033 1914h0M2031 1889h0M2032 1871h0M2033 1893h0M2031 1827h0M2033 1818h0M2031 1847h0M2031 1882h0M2032 1911h0M2031 1874h0M2034 1908h0M2033 1923h0M2031 1924h0M2038 1810h0M2040 1924h0M2039 1815h0M2039 1865h0M2039 1902h0M2039 1851h0M2039 1897h0M2039 1867h0M2040 1909h0M2040 1876h0M2039 1835h0M2043 1920h0M2041 1914h0M2043 1897h0M2043 1822h0M2042 1894h0M2043 1860h0M2041 1804h0M2042 1822h0M2045 1898h0M2045 1863h0M2046 1831h0M2043 1833h0M2046 1852h0M2046 1875h0M2047 1894h0M2048 1813h0M2048 1921h0M2047 1918h0M2049 1915h0M2049 1916h0M2047 1891h0M2049 1808h0M2047 1836h0M2049 1903h0M2048 1921h0M2047 1884h0M2048 1903h0M2049 1913h0M2051 1875h0M2049 1925h0M2051 1890h0M2049 1858h0M2056 1877h0M2056 1923h0M2054 1913h0M2056 1850h0M2059 1842h0M2058 1818h0M2056 1875h0M2058 1868h0M2059 1834h0M2056 1850h0M2061 1850h0M2061 1908h0M2062 1866h0M2060 1917h0M2060 1864h0M2060 1839h0M2062 1866h0M2061 1922h0M2060 1881h0M2063 1905h0M2066 1904h0M2064 1863h0M2071 1848h0M2071 1844h0M2070 1920h0M2073 1832h0M2073 1921h0M2074 1899h0M2072 1892h0M2072 1883h0M2074 1861h0M2073 1852h0M2072 1898h0M2072 1862h0M2075 1910h0M2074 1878h0M2073 1863h0M2071 1852h0M2073 1906h0M2072 1897h0M2072 1838h0M2076 1893h0M2075 1833h0M2077 1864h0M2077 1809h0M2075 1842h0M2078 1858h0M2077 1897h0M2077 1911h0M2080 1867h0M2077 1890h0M2078 1828h0M2078 1894h0M2081 1901h0M2082 1838h0M2083 1922h0M2082 1897h0M2081 1862h0M2088 1917h0M2089 1914h0M2088 1853h0M2089 1898h0M2089 1838h0M2088 1885h0M2087 1801h0M2089 1899h0M2089 1895h0M2090 1851h0M2088 1831h0M2087 1876h0M2087 1900h0M2088 1873h0M2090 1919h0M2088 1876h0M2089 1919h0M2087 1870h0M2088 1832h0M2087 1861h0M2090 1889h0M2087 1898h0M2089 1861h0M2089 1828h0M2089 1922h0M2087 1887h0M2088 1893h0M2094 1868h0M2096 1913h0M2096 1913h0M2095 1895h0M2097 1854h0M2099 1881h0M2099 1919h0M2100 1846h0M2099 1851h0M2097 1805h0M2100 1845h0M2099 1917h0M2097 1834h0M2097 1901h0M2097 1871h0M2098 1897h0M2097 1907h0M2097 1873h0M2099 1896h0M2099 1831h0M2098 1895h0M2099 1870h0M2096 1841h0M2098 1865h0M2098 1843h0M2098 1860h0M2097 1860h0M2098 1904h0M2104 1881h0M2105 1875h0M2106 1809h0M2105 1887h0M2105 1909h0M2103 1872h0M2105 1888h0M2105 1914h0M2103 1854h0M2106 1904h0M2107 1894h0M2110 1888h0M2110 1817h0M2111 1853h0M2108 1872h0M2110 1895h0M2109 1915h0M2114 1879h0M2113 1811h0M2114 1849h0M2113 1867h0M2112 1869h0M2111 1799h0M2111 1911h0M2117 1923h0M2118 1844h0M2117 1884h0M2117 1856h0M2118 1923h0M2118 1881h0M2119 1873h0M2117 1899h0M2118 1873h0M2120 1845h0M2119 1899h0M2119 1916h0M2117 1886h0M2120 1889h0M2118 1865h0M2119 1852h0M2117 1876h0M2118 1898h0M2118 1820h0M2121 1854h0M2122 1885h0M2121 1807h0M2122 1865h0M2123 1885h0M2043 1555h0M1986 1583h0M1994 1580h0M2022 1606h0M2025 1630h0M1985 1635h0M2074 1626h0M2077 1638h0M2077 1655h0M2077 1667h0M2077 1675h0M2121 1630h0M2121 1639h0M2109 1640h0M2103 1650h0M2121 1650h0M2121 1658h0M1970 1658h0M1970 1667h0M1970 1678h0M1972 1690h0M1971 1698h0M1977 1707h0M1987 1668h0M1987 1684h0M1987 1690h0M2042 1668h0M2062 1670h0M2063 1675h0M2052 1683h0M2036 1685h0M2044 1695h0M2045 1701h0M2061 1698h0M2103 1679h0M2098 1692h0M2007 1718h0M2022 1720h0M2036 1729h0M2044 1738h0M2061 1727h0M2077 1718h0M2081 1736h0M2116 1712h0M2114 1718h0M2104 1728h0M2120 1745h0M2120 1750h0M1999 1733h0M2021 1745h0M2077 1756h0M1971 1733h0M1964 1737h0M1963 1745h0M1963 1756h0M1987 1750h0M1993 1755h0M2001 1755h0M2010 1763h0M2022 1763h0M1983 1768h0M1996 1772h0M1962 1774h0M1969 1780h0M2052 1765h0M2057 1767h0M2057 1780h0M2065 1791h0M2076 1787h0M2090 1747h0M2096 1745h0M2100 1755h0M2101 1772h0M2106 1773h0M1963 1810h0M1982 1787h0M2010 1787h0M2026 1782h0M2045 1790h0M1987 1263h0M1987 1270h0M1987 1314h0M1987 1349h0M1987 1432h0"/>
<path fill="#87ceeb" stroke="#87ceeb" d="M2150 1935L2150 1932L2152 1932L2156 1932L2159 1932L2161 1932L2168 1932L2172 1932L2173 1932L2176 1932L2180 1932L2184 1932L2186 1932L2188 1932L2192 1932L2192 1935ZM2226 1935L2226 1932L2232 1932L2234 1932L2236 1932L2239 1932L2242 1932L2243 1932L2245 1932L2248 1913L2253 1890L2254 1869L2259 1878L2262 1894L2265 1902L2268 1904L2270 1904L2273 1904L2279 1904L2281 1904L2284 1894L2288 1884L2292 1887L2299 1887L2302 1887L2302 1935Z"/>
<path fill="none" stroke="#87ceeb" d="M2150 1898h0M2151 1860h0M2149 1915h0M2149 1911h0M2149 1879h0M2152 1862h0M2152 1895h0M2152 1903h0M2153 1913h0M2151 1909h0M2152 1877h0M2153 1896h0M2152 1876h0M2151 1924h0M2151 1889h0M2157 1891h0M2156 1881h0M2156 1854h0M2157 1881h0M2156 1858h0M2154 1901h0M2160 1908h0M2160 1897h0M2157 1901h0M2160 1880h0M2161 1913h0M2162 1890h0M2162 1915h0M2161 1867h0M2163 1871h0M2161 1893h0M2160 1887h0M2162 1870h0M2161 1857h0M2162 1914h0M2162 1861h0M2169 1818h0M2168 1914h0M2169 1867h0M2167 1890h0M2168 1896h0M2167 1877h0M2168 1839h0M2166 1906h0M2167 1906h0M2168 1917h0M2169 1892h0M2167 1873h0M2167 1830h0M2168 1917h0M2169 1877h0M2167 1892h0M2167 1896h0M2167 1897h0M2167 1846h0M2169 1866h0M2167 1874h0M2172 1870h0M2171 1871h0M2173 1899h0M2173 1922h0M2174 1913h0M2175 1886h0M2173 1885h0M2172 1847h0M2175 1880h0M2175 1924h0M2176 1857h0M2178 1863h0M2175 1881h0M2177 1876h0M2177 1855h0M2178 1896h0M2178 1881h0M2177 1924h0M2177 1900h0M2175 1893h0M2180 1864h0M2181 1869h0M2181 1874h0M2179 1883h0M2179 1862h0M2179 1839h0M2180 1884h0M2181 1893h0M2181 1880h0M2181 1891h0M2181 1914h0M2181 1864h0M2181 1923h0M2179 1879h0M2180 1891h0M2180 1887h0M2181 1838h0M2179 1923h0M2180 1913h0M2183 1903h0M2186 1849h0M2186 1905h0M2187 1856h0M2185 1888h0M2186 1884h0M2189 1924h0M2188 1911h0M2190 1901h0M2192 1861h0M2224 1906h0M2226 1870h0M2227 1884h0M2226 1879h0M2226 1884h0M2225 1882h0M2227 1923h0M2225 1883h0M2226 1898h0M2233 1851h0M2233 1897h0M2232 1841h0M2233 1876h0M2235 1914h0M2234 1863h0M2235 1843h0M2235 1893h0M2236 1852h0M2236 1923h0M2235 1900h0M2234 1915h0M2236 1923h0M2237 1915h0M2238 1883h0M2237 1893h0M2237 1862h0M2239 1864h0M2240 1918h0M2239 1895h0M2240 1896h0M2238 1907h0M2243 1864h0M2240 1846h0M2243 1920h0M2241 1918h0M2244 1851h0M2245 1850h0M2245 1842h0M2243 1814h0M2242 1842h0M2244 1910h0M2242 1861h0M2246 1786h0M2246 1859h0M2246 1836h0M2245 1899h0M2245 1820h0M2244 1827h0M2246 1867h0M2246 1793h0M2246 1842h0M2244 1783h0M2244 1773h0M2244 1833h0M2246 1812h0M2249 1820h0M2249 1822h0M2247 1812h0M2248 1918h0M2248 1777h0M2249 1796h0M2248 1800h0M2249 1912h0M2250 1865h0M2249 1877h0M2248 1824h0M2249 1895h0M2248 1811h0M2249 1896h0M2248 1782h0M2249 1831h0M2249 1805h0M2248 1828h0M2247 1825h0M2249 1809h0M2247 1784h0M2252 1882h0M2251 1792h0M2253 1763h0M2252 1854h0M2253 1881h0M2251 1789h0M2252 1865h0M2254 1850h0M2251 1792h0M2252 1905h0M2254 1867h0M2252 1885h0M2252 1753h0M2252 1795h0M2252 1786h0M2251 1845h0M2252 1787h0M2254 1859h0M2252 1905h0M2253 1775h0M2253 1841h0M2254 1782h0M2254 1836h0M2253 1885h0M2253 1781h0M2254 1827h0M2254 1824h0M2253 1742h0M2254 1804h0M2255 1883h0M2254 1748h0M2253 1800h0M2254 1830h0M2255 1758h0M2254 1917h0M2255 1856h0M2258 1848h0M2259 1859h0M2260 1747h0M2260 1857h0M2259 1917h0M2259 1769h0M2259 1787h0M2260 1901h0M2258 1836h0M2260 1901h0M2259 1916h0M2259 1901h0M2260 1818h0M2260 1842h0M2260 1877h0M2258 1837h0M2259 1792h0M2264 1777h0M2262 1883h0M2263 1919h0M2264 1792h0M2263 1898h0M2263 1889h0M2263 1859h0M2263 1785h0M2264 1784h0M2262 1916h0M2262 1882h0M2261 1852h0M2262 1780h0M2263 1878h0M2261 1786h0M2261 1752h0M2262 1843h0M2263 1753h0M2261 1878h0M2264 1913h0M2265 1909h0M2265 1808h0M2265 1917h0M2266 1793h0M2267 1901h0M2265 1886h0M2266 1840h0M2265 1869h0M2265 1811h0M2266 1829h0M2267 1878h0M2267 1904h0M2270 1853h0M2269 1843h0M2269 1920h0M2267 1810h0M2268 1886h0M2269 1908h0M2270 1776h0M2270 1811h0M2268 1872h0M2269 1848h0M2267 1848h0M2267 1788h0M2269 1865h0M2271 1813h0M2272 1914h0M2274 1897h0M2271 1894h0M2273 1901h0M2273 1836h0M2274 1901h0M2273 1909h0M2273 1920h0M2272 1871h0M2273 1873h0M2274 1799h0M2272 1838h0M2274 1835h0M2273 1890h0M2272 1905h0M2272 1907h0M2279 1864h0M2279 1843h0M2278 1841h0M2279 1791h0M2281 1871h0M2282 1791h0M2281 1819h0M2280 1836h0M2282 1831h0M2280 1815h0M2281 1826h0M2282 1901h0M2280 1817h0M2282 1806h0M2282 1885h0M2280 1770h0M2281 1829h0M2281 1827h0M2282 1823h0M2284 1797h0M2283 1796h0M2283 1866h0M2282 1832h0M2285 1916h0M2283 1829h0M2285 1806h0M2289 1812h0M2287 1808h0M2289 1862h0M2288 1913h0M2287 1849h0M2288 1905h0M2287 1808h0M2288 1781h0M2290 1820h0M2287 1921h0M2292 1800h0M2291 1820h0M2291 1814h0M2292 1860h0M2292 1828h0M2294 1791h0M2292 1848h0M2294 1905h0M2293 1873h0M2293 1848h0M2292 1922h0M2291 1810h0M2291 1778h0M2291 1786h0M2292 1909h0M2293 1763h0M2291 1783h0M2293 1826h0M2292 1843h0M2292 1800h0M2292 1844h0M2291 1877h0M2291 1836h0M2293 1918h0M2293 1920h0M2292 1771h0M2293 1883h0M2291 1806h0M2291 1911h0M2293 1861h0M2293 1894h0M2291 1885h0M2291 1785h0M2300 1834h0M2297 1804h0M2299 1892h0M2299 1842h0M2298 1905h0M2299 1909h0M2297 1819h0M2298 1754h0M2297 1902h0M2297 1837h0M2298 1870h0M2298 1868h0M2298 1888h0M2300 1809h0M2303 1883h0M2303 1847h0M2301 1856h0M2304 1825h0M2302 1888h0M2302 1871h0M2301 1796h0M2302 1778h0M2303 1878h0M2302 1903h0M2304 1794h0M2302 1803h0M2301 1849h0M2303 1846h0M2304 1843h0M2303 1923h0M2303 1847h0M2302 1922h0M2173 1595h0M2185 1592h0M2185 1599h0M2173 1727h0M2181 1727h0M2173 1752h0M2153 1769h0M2150 1780h0M2168 1767h0M2185 1769h0M2188 1780h0M2165 1782h0M2166 1790h0M2165 1799h0M2181 1801h0M2192 1811h0M2153 1812h0M2171 1819h0M2150 1828h0M2155 1833h0M2188 1830h0M2286 1555h0M2286 1567h0M2287 1573h0M2287 1581h0M2286 1596h0M2236 1595h0M2253 1593h0M2262 1598h0M2253 1607h0M2253 1634h0M2260 1642h0M2287 1632h0M2287 1646h0M2230 1657h0M2236 1665h0M2228 1667h0M2229 1678h0M2253 1669h0M2254 1682h0M2248 1691h0M2295 1698h0M2282 1713h0M2236 1719h0M2227 1732h0M2258 1717h0M2258 1726h0M2296 1725h0M2296 1736h0M2277 1746h0M2229 1764h0M2228 1810h0M2279 1764h0"/>
<path fill="#bebebe" stroke="#bebebe" d="M2332 1935L2332 1932L2335 1932L2337 1932L2339 1932L2342 1932L2347 1932L2352 1932L2354 1932L2356 1932L2357 1932L2360 1932L2363 1932L2365 1932L2370 1932L2376 1932L2378 1932L2385 1932L2387 1932L2388 1932L2391 1932L2393 1932L2396 1932L2401 1932L2403 1932L2406 1929L2409 1907L2412 1888L2413 1887L2420 1886L2424 1889L2427 1891L2429 1891L2431 1891L2437 1891L2442 1891L2443 1869L2448 1876L2450 1880L2453 1884L2455 1903L2457 1920L2463 1920L2470 1929L2473 1929L2478 1929L2478 1935Z"/>
<path fill="none" stroke="#bebebe" d="M2333 1866h0M2330 1838h0M2332 1880h0M2330 1897h0M2331 1823h0M2334 1917h0M2334 1871h0M2336 1844h0M2335 1907h0M2335 1854h0M2333 1911h0M2335 1895h0M2335 1867h0M2335 1896h0M2336 1905h0M2334 1906h0M2334 1873h0M2336 1868h0M2336 1899h0M2338 1887h0M2336 1841h0M2339 1903h0M2337 1825h0M2339 1897h0M2340 1890h0M2340 1871h0M2339 1913h0M2341 1924h0M2340 1883h0M2342 1881h0M2340 1850h0M2343 1879h0M2343 1920h0M2341 1840h0M2340 1883h0M2340 1916h0M2342 1864h0M2342 1866h0M2348 1882h0M2348 1863h0M2348 1894h0M2346 1886h0M2348 1886h0M2349 1884h0M2347 1921h0M2347 1889h0M2347 1889h0M2347 1913h0M2347 1885h0M2348 1906h0M2353 1853h0M2353 1913h0M2351 1910h0M2352 1875h0M2353 1888h0M2352 1891h0M2352 1881h0M2352 1920h0M2353 1898h0M2352 1882h0M2351 1905h0M2355 1897h0M2355 1874h0M2353 1859h0M2354 1921h0M2353 1921h0M2355 1906h0M2355 1903h0M2357 1850h0M2357 1914h0M2357 1887h0M2361 1891h0M2359 1922h0M2358 1862h0M2361 1877h0M2364 1898h0M2364 1918h0M2363 1882h0M2365 1906h0M2366 1865h0M2367 1863h0M2366 1851h0M2366 1891h0M2365 1879h0M2366 1916h0M2365 1906h0M2365 1834h0M2369 1925h0M2377 1864h0M2376 1871h0M2376 1916h0M2376 1897h0M2376 1920h0M2377 1911h0M2377 1896h0M2376 1881h0M2375 1886h0M2377 1847h0M2375 1880h0M2377 1908h0M2375 1917h0M2377 1903h0M2378 1908h0M2379 1895h0M2379 1919h0M2379 1872h0M2378 1861h0M2385 1887h0M2384 1828h0M2386 1853h0M2384 1924h0M2387 1877h0M2386 1901h0M2388 1921h0M2388 1863h0M2389 1903h0M2387 1878h0M2388 1881h0M2390 1869h0M2392 1826h0M2391 1888h0M2391 1918h0M2390 1910h0M2393 1881h0M2392 1904h0M2394 1897h0M2393 1910h0M2394 1881h0M2392 1906h0M2394 1865h0M2396 1829h0M2395 1895h0M2395 1869h0M2398 1808h0M2396 1888h0M2395 1864h0M2397 1854h0M2396 1833h0M2395 1894h0M2396 1855h0M2397 1873h0M2400 1892h0M2400 1821h0M2400 1830h0M2402 1856h0M2400 1849h0M2401 1919h0M2402 1897h0M2404 1871h0M2407 1805h0M2406 1863h0M2405 1808h0M2406 1809h0M2405 1860h0M2404 1858h0M2405 1875h0M2410 1914h0M2410 1839h0M2410 1865h0M2409 1851h0M2408 1862h0M2408 1826h0M2410 1898h0M2410 1903h0M2410 1785h0M2409 1805h0M2410 1811h0M2409 1875h0M2410 1869h0M2408 1836h0M2408 1778h0M2408 1888h0M2410 1774h0M2413 1875h0M2411 1795h0M2411 1874h0M2412 1841h0M2411 1810h0M2411 1826h0M2412 1879h0M2413 1836h0M2412 1867h0M2411 1799h0M2412 1909h0M2413 1912h0M2413 1838h0M2412 1842h0M2413 1849h0M2414 1812h0M2415 1879h0M2413 1913h0M2413 1867h0M2412 1875h0M2414 1773h0M2414 1795h0M2413 1850h0M2413 1736h0M2413 1746h0M2412 1910h0M2412 1871h0M2414 1897h0M2415 1878h0M2413 1911h0M2414 1833h0M2412 1755h0M2414 1788h0M2415 1779h0M2414 1878h0M2413 1882h0M2421 1841h0M2420 1786h0M2421 1797h0M2418 1857h0M2420 1777h0M2420 1852h0M2420 1896h0M2418 1852h0M2420 1840h0M2420 1920h0M2418 1885h0M2419 1874h0M2420 1754h0M2420 1802h0M2419 1872h0M2421 1801h0M2421 1817h0M2419 1872h0M2420 1770h0M2419 1853h0M2426 1770h0M2424 1841h0M2425 1832h0M2425 1748h0M2424 1805h0M2425 1798h0M2423 1879h0M2426 1870h0M2425 1852h0M2424 1859h0M2425 1774h0M2423 1820h0M2424 1785h0M2426 1851h0M2426 1856h0M2425 1856h0M2426 1845h0M2424 1866h0M2427 1872h0M2427 1869h0M2427 1801h0M2428 1764h0M2425 1774h0M2425 1747h0M2427 1921h0M2426 1759h0M2426 1859h0M2428 1914h0M2428 1837h0M2430 1887h0M2430 1834h0M2429 1868h0M2428 1763h0M2429 1751h0M2430 1851h0M2429 1903h0M2428 1816h0M2430 1797h0M2427 1883h0M2430 1910h0M2428 1820h0M2430 1792h0M2428 1831h0M2430 1883h0M2430 1806h0M2430 1896h0M2432 1902h0M2431 1861h0M2430 1826h0M2432 1883h0M2430 1907h0M2430 1827h0M2432 1876h0M2431 1888h0M2431 1849h0M2431 1795h0M2432 1822h0M2431 1816h0M2432 1809h0M2431 1878h0M2432 1816h0M2431 1862h0M2437 1881h0M2439 1872h0M2437 1917h0M2439 1870h0M2436 1789h0M2438 1892h0M2439 1817h0M2437 1903h0M2436 1850h0M2438 1785h0M2438 1781h0M2441 1873h0M2443 1909h0M2442 1904h0M2441 1880h0M2440 1867h0M2442 1767h0M2441 1807h0M2440 1888h0M2442 1731h0M2442 1718h0M2441 1832h0M2441 1797h0M2440 1855h0M2441 1918h0M2441 1779h0M2440 1881h0M2442 1763h0M2440 1854h0M2440 1758h0M2441 1859h0M2441 1795h0M2443 1895h0M2445 1922h0M2444 1789h0M2444 1778h0M2444 1813h0M2443 1899h0M2444 1845h0M2443 1913h0M2444 1786h0M2446 1748h0M2449 1817h0M2446 1777h0M2449 1865h0M2449 1924h0M2447 1816h0M2446 1824h0M2446 1876h0M2446 1783h0M2449 1804h0M2447 1811h0M2447 1919h0M2448 1766h0M2448 1779h0M2447 1893h0M2446 1756h0M2449 1807h0M2448 1889h0M2448 1841h0M2449 1895h0M2449 1791h0M2449 1906h0M2451 1847h0M2450 1840h0M2449 1896h0M2452 1894h0M2450 1910h0M2452 1848h0M2451 1858h0M2449 1808h0M2449 1876h0M2451 1751h0M2450 1810h0M2451 1795h0M2450 1803h0M2449 1870h0M2452 1772h0M2449 1839h0M2452 1869h0M2453 1804h0M2451 1796h0M2453 1891h0M2453 1787h0M2454 1910h0M2454 1835h0M2455 1860h0M2456 1812h0M2454 1866h0M2454 1790h0M2455 1858h0M2456 1804h0M2453 1844h0M2456 1920h0M2458 1923h0M2458 1804h0M2457 1775h0M2458 1923h0M2456 1875h0M2458 1769h0M2458 1904h0M2457 1923h0M2458 1762h0M2456 1755h0M2457 1812h0M2456 1806h0M2458 1857h0M2456 1804h0M2456 1897h0M2456 1818h0M2456 1868h0M2457 1870h0M2457 1829h0M2463 1837h0M2463 1841h0M2465 1912h0M2462 1869h0M2464 1849h0M2462 1843h0M2465 1852h0M2463 1843h0M2465 1779h0M2463 1891h0M2463 1793h0M2464 1903h0M2463 1823h0M2464 1850h0M2463 1808h0M2465 1804h0M2462 1842h0M2462 1884h0M2471 1817h0M2469 1921h0M2471 1851h0M2471 1830h0M2470 1921h0M2471 1844h0M2471 1904h0M2470 1838h0M2471 1824h0M2471 1804h0M2471 1799h0M2471 1830h0M2469 1887h0M2471 1831h0M2471 1921h0M2469 1909h0M2471 1892h0M2470 1887h0M2471 1896h0M2468 1891h0M2470 1829h0M2470 1807h0M2473 1924h0M2473 1844h0M2474 1807h0M2473 1887h0M2473 1817h0M2472 1794h0M2473 1905h0M2473 1912h0M2474 1912h0M2472 1920h0M2477 1797h0M2478 1878h0M2477 1791h0M2477 1904h0M2477 1840h0M2479 1880h0M2477 1917h0M2479 1888h0M2478 1834h0M2479 1903h0M2479 1913h0M2477 1861h0M2478 1893h0M2477 1855h0M2478 1895h0M2477 1888h0M2479 1842h0M2369 1408h0M2369 1425h0M2439 1503h0M2469 1518h0M2401 1535h0M2378 1542h0M2378 1566h0M2469 1596h0M2378 1628h0M2385 1654h0M2400 1654h0M2399 1663h0M2418 1656h0M2427 1652h0M2439 1670h0M2419 1678h0M2455 1681h0M2385 1683h0M2385 1691h0M2400 1683h0M2407 1691h0M2408 1704h0M2419 1708h0M2439 1691h0M2446 1692h0M2463 1699h0M2477 1708h0M2344 1691h0M2351 1692h0M2363 1700h0M2338 1721h0M2350 1728h0M2399 1721h0M2377 1737h0M2385 1750h0M2393 1771h0M2369 1786h0M2387 1791h0M2332 1760h0M2337 1772h0M2343 1782h0M2348 1788h0M2357 1809h0M2384 1809h0"/>
<path fill="#87ceeb" stroke="#87ceeb" d="M2507 1935L2507 1861L2512 1865L2514 1869L2516 1875L2518 1879L2520 1884L2523 1889L2525 1892L2527 1894L2534 1899L2539 1899L2546 1899L2553 1899L2555 1899L2557 1892L2561 1890L2566 1886L2568 1875L2571 1818L2574 1820L2576 1838L2578 1861L2583 1912L2585 1912L2591 1912L2594 1912L2597 1912L2600 1907L2603 1901L2607 1896L2613 1889L2618 1887L2623 1889L2627 1889L2629 1889L2635 1889L2638 1889L2641 1903L2645 1909L2650 1909L2652 1909L2652 1935Z"/>
<path fill="none" stroke="#87ceeb" d="M2507 1757h0M2507 1902h0M2505 1913h0M2507 1842h0M2506 1881h0M2507 1799h0M2506 1833h0M2508 1837h0M2508 1745h0M2506 1805h0M2507 1775h0M2511 1889h0M2514 1890h0M2512 1813h0M2513 1814h0M2511 1885h0M2514 1757h0M2513 1760h0M2513 1764h0M2514 1857h0M2513 1925h0M2514 1775h0M2515 1835h0M2514 1879h0M2515 1920h0M2512 1805h0M2512 1758h0M2515 1764h0M2513 1785h0M2515 1782h0M2515 1796h0M2515 1820h0M2517 1842h0M2515 1894h0M2515 1850h0M2515 1910h0M2517 1823h0M2515 1881h0M2514 1819h0M2514 1774h0M2514 1763h0M2515 1803h0M2517 1794h0M2517 1881h0M2517 1908h0M2517 1879h0M2518 1821h0M2519 1819h0M2516 1908h0M2517 1879h0M2517 1906h0M2522 1887h0M2521 1758h0M2519 1803h0M2521 1801h0M2520 1921h0M2520 1861h0M2524 1819h0M2524 1812h0M2523 1841h0M2524 1833h0M2523 1906h0M2522 1883h0M2525 1812h0M2524 1872h0M2525 1827h0M2524 1820h0M2526 1857h0M2525 1906h0M2526 1781h0M2526 1808h0M2525 1886h0M2524 1877h0M2524 1869h0M2526 1813h0M2525 1808h0M2526 1889h0M2524 1909h0M2526 1845h0M2524 1828h0M2528 1858h0M2526 1856h0M2529 1824h0M2529 1828h0M2528 1913h0M2528 1823h0M2527 1816h0M2528 1878h0M2526 1916h0M2528 1827h0M2527 1813h0M2527 1777h0M2529 1918h0M2534 1863h0M2533 1772h0M2534 1856h0M2535 1878h0M2533 1882h0M2534 1863h0M2535 1888h0M2534 1856h0M2533 1875h0M2535 1800h0M2535 1844h0M2534 1822h0M2533 1923h0M2533 1820h0M2539 1813h0M2538 1910h0M2540 1895h0M2541 1882h0M2541 1873h0M2541 1819h0M2539 1903h0M2538 1906h0M2540 1873h0M2539 1897h0M2541 1854h0M2539 1909h0M2539 1872h0M2539 1886h0M2538 1825h0M2539 1839h0M2540 1872h0M2539 1921h0M2539 1916h0M2538 1835h0M2541 1910h0M2540 1824h0M2539 1903h0M2540 1904h0M2539 1921h0M2540 1907h0M2546 1814h0M2546 1832h0M2546 1781h0M2546 1859h0M2546 1864h0M2546 1821h0M2548 1916h0M2546 1823h0M2546 1899h0M2547 1880h0M2545 1902h0M2545 1915h0M2546 1782h0M2545 1858h0M2547 1833h0M2547 1913h0M2547 1904h0M2545 1820h0M2545 1869h0M2546 1859h0M2547 1903h0M2547 1888h0M2546 1865h0M2547 1904h0M2546 1778h0M2547 1788h0M2545 1802h0M2547 1912h0M2547 1841h0M2547 1923h0M2546 1840h0M2545 1922h0M2547 1878h0M2545 1813h0M2554 1842h0M2552 1904h0M2552 1865h0M2553 1902h0M2552 1880h0M2553 1877h0M2554 1895h0M2553 1864h0M2554 1858h0M2553 1835h0M2552 1802h0M2551 1832h0M2554 1818h0M2555 1816h0M2555 1839h0M2555 1880h0M2555 1804h0M2556 1818h0M2558 1858h0M2556 1924h0M2558 1808h0M2556 1924h0M2556 1789h0M2557 1819h0M2558 1888h0M2556 1824h0M2560 1802h0M2562 1879h0M2562 1883h0M2560 1784h0M2560 1832h0M2563 1845h0M2561 1903h0M2560 1804h0M2563 1847h0M2561 1789h0M2561 1871h0M2562 1881h0M2561 1826h0M2562 1855h0M2560 1866h0M2561 1765h0M2561 1777h0M2562 1894h0M2562 1836h0M2567 1835h0M2565 1882h0M2566 1839h0M2567 1701h0M2567 1895h0M2565 1907h0M2565 1742h0M2566 1723h0M2567 1856h0M2566 1801h0M2567 1752h0M2566 1803h0M2567 1841h0M2567 1924h0M2565 1820h0M2565 1835h0M2567 1833h0M2569 1746h0M2568 1802h0M2569 1809h0M2568 1920h0M2569 1749h0M2569 1916h0M2568 1831h0M2568 1875h0M2567 1733h0M2569 1913h0M2567 1754h0M2568 1830h0M2570 1894h0M2570 1829h0M2569 1824h0M2570 1863h0M2569 1777h0M2568 1769h0M2570 1751h0M2571 1710h0M2573 1864h0M2573 1858h0M2572 1772h0M2572 1769h0M2572 1891h0M2571 1815h0M2572 1917h0M2570 1916h0M2571 1826h0M2571 1910h0M2570 1881h0M2572 1875h0M2572 1823h0M2570 1789h0M2571 1878h0M2573 1749h0M2571 1825h0M2571 1789h0M2571 1697h0M2570 1745h0M2571 1835h0M2571 1922h0M2571 1816h0M2573 1815h0M2574 1843h0M2573 1782h0M2575 1799h0M2572 1767h0M2574 1691h0M2573 1830h0M2573 1860h0M2573 1722h0M2574 1747h0M2573 1815h0M2574 1853h0M2573 1804h0M2574 1827h0M2575 1770h0M2578 1696h0M2576 1854h0M2575 1759h0M2578 1824h0M2576 1912h0M2579 1860h0M2580 1829h0M2580 1921h0M2579 1772h0M2577 1877h0M2578 1864h0M2578 1879h0M2579 1901h0M2578 1808h0M2578 1800h0M2577 1714h0M2579 1898h0M2580 1893h0M2579 1847h0M2579 1921h0M2578 1790h0M2577 1756h0M2579 1723h0M2579 1921h0M2582 1823h0M2582 1850h0M2584 1899h0M2584 1876h0M2582 1858h0M2582 1759h0M2584 1823h0M2583 1869h0M2583 1865h0M2585 1834h0M2584 1811h0M2584 1894h0M2586 1873h0M2584 1846h0M2584 1760h0M2584 1916h0M2583 1907h0M2585 1805h0M2584 1865h0M2585 1785h0M2585 1773h0M2585 1916h0M2585 1851h0M2585 1745h0M2584 1823h0M2586 1891h0M2585 1805h0M2585 1750h0M2584 1821h0M2585 1917h0M2584 1833h0M2584 1908h0M2584 1896h0M2585 1848h0M2586 1887h0M2585 1921h0M2585 1851h0M2584 1903h0M2585 1822h0M2586 1869h0M2584 1897h0M2585 1880h0M2584 1826h0M2586 1744h0M2586 1899h0M2586 1807h0M2584 1792h0M2584 1908h0M2590 1888h0M2593 1924h0M2591 1890h0M2590 1866h0M2593 1870h0M2590 1791h0M2592 1829h0M2590 1841h0M2591 1844h0M2591 1877h0M2591 1902h0M2592 1808h0M2594 1884h0M2595 1792h0M2592 1808h0M2595 1834h0M2593 1876h0M2594 1882h0M2598 1905h0M2599 1856h0M2596 1834h0M2596 1879h0M2598 1821h0M2599 1888h0M2599 1917h0M2599 1805h0M2598 1853h0M2601 1801h0M2598 1895h0M2598 1795h0M2600 1879h0M2599 1873h0M2601 1844h0M2603 1796h0M2603 1876h0M2602 1909h0M2602 1922h0M2603 1861h0M2604 1805h0M2603 1891h0M2603 1812h0M2603 1838h0M2604 1884h0M2603 1882h0M2604 1913h0M2605 1824h0M2602 1854h0M2608 1811h0M2607 1907h0M2605 1861h0M2606 1901h0M2607 1795h0M2607 1859h0M2608 1888h0M2607 1878h0M2606 1855h0M2605 1777h0M2607 1914h0M2606 1920h0M2607 1838h0M2607 1855h0M2608 1871h0M2608 1853h0M2606 1809h0M2607 1910h0M2607 1891h0M2606 1881h0M2606 1865h0M2608 1841h0M2607 1900h0M2608 1824h0M2607 1883h0M2607 1899h0M2607 1767h0M2608 1886h0M2606 1817h0M2606 1826h0M2608 1886h0M2607 1779h0M2606 1827h0M2607 1896h0M2613 1771h0M2613 1837h0M2614 1904h0M2612 1796h0M2614 1868h0M2614 1824h0M2612 1851h0M2612 1781h0M2613 1828h0M2613 1794h0M2613 1912h0M2612 1885h0M2613 1835h0M2613 1873h0M2613 1842h0M2611 1910h0M2613 1815h0M2613 1809h0M2613 1903h0M2612 1878h0M2613 1829h0M2612 1856h0M2617 1893h0M2619 1868h0M2618 1824h0M2618 1827h0M2618 1878h0M2617 1897h0M2618 1895h0M2619 1855h0M2617 1795h0M2619 1921h0M2619 1801h0M2620 1823h0M2617 1837h0M2617 1869h0M2617 1876h0M2617 1853h0M2618 1924h0M2620 1797h0M2619 1913h0M2618 1831h0M2619 1874h0M2624 1893h0M2624 1823h0M2622 1913h0M2622 1841h0M2624 1866h0M2623 1847h0M2623 1899h0M2623 1802h0M2622 1804h0M2622 1913h0M2622 1804h0M2623 1873h0M2624 1915h0M2621 1844h0M2621 1914h0M2623 1796h0M2622 1773h0M2621 1817h0M2621 1809h0M2626 1844h0M2628 1915h0M2628 1889h0M2626 1808h0M2628 1876h0M2627 1874h0M2628 1917h0M2627 1892h0M2628 1831h0M2628 1869h0M2626 1833h0M2629 1856h0M2631 1910h0M2630 1910h0M2629 1784h0M2631 1853h0M2629 1892h0M2631 1814h0M2630 1843h0M2631 1808h0M2630 1810h0M2628 1828h0M2628 1922h0M2629 1899h0M2631 1790h0M2628 1880h0M2631 1900h0M2634 1903h0M2635 1847h0M2636 1765h0M2634 1847h0M2636 1896h0M2633 1821h0M2637 1925h0M2634 1831h0M2634 1851h0M2635 1865h0M2635 1835h0M2637 1921h0M2638 1863h0M2637 1839h0M2639 1854h0M2639 1851h0M2638 1777h0M2637 1906h0M2638 1836h0M2639 1782h0M2639 1889h0M2639 1912h0M2640 1916h0M2641 1909h0M2641 1786h0M2641 1925h0M2642 1889h0M2639 1795h0M2642 1839h0M2642 1813h0M2642 1902h0M2642 1811h0M2642 1802h0M2640 1766h0M2640 1871h0M2642 1895h0M2640 1814h0M2641 1852h0M2641 1917h0M2641 1786h0M2642 1787h0M2640 1886h0M2640 1871h0M2645 1839h0M2645 1797h0M2646 1886h0M2645 1833h0M2645 1768h0M2644 1892h0M2646 1904h0M2644 1815h0M2645 1829h0M2644 1856h0M2645 1853h0M2645 1907h0M2643 1894h0M2645 1882h0M2644 1835h0M2644 1824h0M2651 1785h0M2649 1854h0M2650 1860h0M2650 1864h0M2651 1820h0M2651 1905h0M2649 1794h0M2650 1863h0M2649 1838h0M2650 1841h0M2649 1919h0M2653 1831h0M2653 1860h0M2652 1861h0M2653 1853h0M2651 1911h0M2653 1899h0M2650 1900h0M2652 1837h0M2651 1801h0M2507 1551h0M2507 1588h0M2518 1609h0M2521 1617h0M2507 1625h0M2505 1648h0M2506 1656h0M2507 1669h0M2515 1667h0M2509 1680h0M2511 1695h0M2509 1709h0M2507 1712h0M2507 1729h0M2541 1566h0M2541 1578h0M2572 1551h0M2572 1573h0M2575 1593h0M2580 1598h0M2572 1605h0M2579 1604h0M2572 1616h0M2580 1638h0M2575 1650h0M2588 1655h0M2580 1663h0M2572 1675h0M2541 1658h0M2553 1649h0M2553 1659h0M2541 1680h0M2541 1693h0M2596 1661h0M2604 1663h0M2605 1674h0M2618 1674h0M2635 1635h0M2635 1643h0M2625 1707h0M2628 1702h0M2637 1703h0M2637 1720h0M2630 1725h0M2636 1728h0M2636 1739h0M2598 1718h0M2598 1736h0M2608 1732h0M2619 1742h0M2609 1747h0M2521 1728h0M2528 1734h0M2576 1685h0M2581 1691h0M2566 1698h0M2566 1710h0M2580 1720h0M2566 1723h0M2566 1736h0M2577 1745h0M2537 1750h0M2545 1756h0M2521 1752h0M2648 1753h0M2599 1763h0M2639 1764h0M2620 1752h0"/>
<path fill="#bebebe" stroke="#bebebe" d="M2680 1935L2680 1887L2683 1887L2687 1887L2691 1900L2693 1914L2697 1921L2699 1931L2703 1932L2708 1932L2710 1932L2712 1932L2717 1932L2722 1929L2729 1918L2735 1902L2737 1876L2739 1863L2742 1874L2746 1896L2748 1899L2753 1907L2755 1913L2762 1913L2768 1913L2773 1913L2780 1913L2782 1911L2788 1897L2791 1888L2798 1903L2804 1916L2810 1925L2813 1926L2815 1927L2818 1930L2819 1930L2825 1930L2825 1930L2825 1935Z"/>
<path fill="none" stroke="#bebebe" d="M2681 1837h0M2680 1847h0M2681 1868h0M2681 1781h0M2681 1924h0M2680 1844h0M2683 1924h0M2683 1822h0M2683 1771h0M2684 1882h0M2682 1910h0M2682 1811h0M2682 1862h0M2683 1862h0M2681 1804h0M2682 1919h0M2682 1831h0M2684 1828h0M2686 1839h0M2686 1825h0M2688 1851h0M2688 1896h0M2686 1855h0M2688 1890h0M2688 1813h0M2688 1823h0M2688 1863h0M2688 1828h0M2686 1851h0M2685 1849h0M2687 1909h0M2693 1779h0M2692 1797h0M2690 1902h0M2692 1837h0M2693 1918h0M2690 1873h0M2690 1921h0M2691 1808h0M2691 1875h0M2692 1836h0M2691 1782h0M2692 1814h0M2691 1859h0M2690 1924h0M2691 1920h0M2693 1897h0M2692 1805h0M2691 1846h0M2692 1874h0M2692 1779h0M2692 1865h0M2693 1895h0M2692 1771h0M2693 1891h0M2697 1923h0M2697 1831h0M2698 1886h0M2697 1795h0M2697 1840h0M2695 1812h0M2697 1893h0M2701 1811h0M2698 1889h0M2698 1914h0M2700 1873h0M2699 1915h0M2698 1808h0M2698 1856h0M2704 1891h0M2702 1875h0M2702 1879h0M2702 1850h0M2703 1810h0M2702 1897h0M2703 1904h0M2702 1894h0M2704 1834h0M2702 1915h0M2702 1925h0M2701 1875h0M2703 1835h0M2703 1827h0M2703 1829h0M2704 1867h0M2708 1902h0M2706 1910h0M2708 1914h0M2708 1868h0M2707 1887h0M2707 1917h0M2706 1834h0M2708 1890h0M2711 1878h0M2711 1831h0M2709 1812h0M2709 1925h0M2710 1923h0M2710 1904h0M2709 1901h0M2709 1839h0M2710 1883h0M2712 1829h0M2712 1833h0M2711 1909h0M2712 1821h0M2714 1823h0M2711 1834h0M2714 1918h0M2714 1871h0M2712 1878h0M2712 1910h0M2713 1848h0M2713 1824h0M2712 1909h0M2711 1922h0M2712 1908h0M2711 1810h0M2711 1882h0M2712 1921h0M2713 1903h0M2712 1876h0M2713 1920h0M2719 1873h0M2717 1845h0M2717 1817h0M2716 1836h0M2719 1830h0M2719 1838h0M2718 1824h0M2718 1814h0M2719 1853h0M2717 1857h0M2717 1883h0M2723 1849h0M2722 1842h0M2723 1922h0M2721 1920h0M2723 1908h0M2722 1909h0M2724 1923h0M2721 1898h0M2723 1896h0M2722 1893h0M2723 1895h0M2728 1853h0M2728 1836h0M2729 1803h0M2728 1898h0M2728 1840h0M2730 1827h0M2729 1845h0M2728 1918h0M2730 1889h0M2729 1813h0M2728 1901h0M2730 1859h0M2729 1911h0M2730 1867h0M2729 1854h0M2729 1852h0M2728 1866h0M2728 1827h0M2730 1815h0M2727 1885h0M2729 1910h0M2729 1763h0M2729 1851h0M2735 1819h0M2736 1741h0M2734 1811h0M2734 1900h0M2735 1804h0M2735 1864h0M2736 1846h0M2734 1788h0M2736 1855h0M2737 1755h0M2737 1884h0M2735 1898h0M2735 1761h0M2736 1750h0M2737 1785h0M2738 1798h0M2738 1873h0M2739 1802h0M2738 1804h0M2740 1865h0M2740 1782h0M2739 1831h0M2739 1894h0M2738 1813h0M2738 1773h0M2738 1894h0M2741 1847h0M2740 1794h0M2739 1735h0M2741 1912h0M2739 1750h0M2740 1808h0M2742 1873h0M2743 1751h0M2742 1787h0M2742 1878h0M2743 1859h0M2742 1880h0M2742 1728h0M2743 1802h0M2741 1877h0M2741 1922h0M2743 1797h0M2744 1890h0M2741 1919h0M2744 1846h0M2747 1920h0M2745 1905h0M2746 1755h0M2747 1843h0M2747 1847h0M2747 1922h0M2748 1912h0M2747 1897h0M2749 1823h0M2749 1807h0M2749 1783h0M2747 1879h0M2747 1817h0M2748 1785h0M2747 1853h0M2748 1884h0M2747 1822h0M2748 1851h0M2747 1873h0M2746 1787h0M2746 1843h0M2748 1786h0M2748 1909h0M2747 1852h0M2749 1855h0M2748 1779h0M2748 1852h0M2746 1783h0M2749 1813h0M2752 1872h0M2754 1897h0M2754 1898h0M2754 1871h0M2755 1889h0M2752 1917h0M2754 1909h0M2753 1888h0M2752 1894h0M2752 1830h0M2752 1883h0M2753 1912h0M2757 1802h0M2756 1904h0M2755 1880h0M2756 1826h0M2756 1790h0M2754 1837h0M2756 1827h0M2754 1908h0M2756 1899h0M2754 1815h0M2755 1870h0M2754 1848h0M2756 1819h0M2754 1814h0M2756 1840h0M2755 1914h0M2756 1823h0M2755 1907h0M2755 1833h0M2754 1854h0M2756 1832h0M2761 1842h0M2761 1919h0M2760 1918h0M2762 1869h0M2763 1919h0M2761 1903h0M2763 1819h0M2762 1901h0M2763 1843h0M2762 1906h0M2761 1904h0M2760 1910h0M2761 1919h0M2763 1889h0M2760 1819h0M2761 1795h0M2761 1912h0M2762 1852h0M2762 1833h0M2760 1809h0M2762 1833h0M2762 1878h0M2760 1873h0M2762 1894h0M2760 1902h0M2760 1859h0M2763 1823h0M2763 1921h0M2763 1879h0M2763 1822h0M2763 1844h0M2767 1881h0M2768 1912h0M2769 1838h0M2769 1851h0M2768 1860h0M2769 1891h0M2768 1875h0M2766 1920h0M2768 1883h0M2767 1866h0M2767 1901h0M2769 1842h0M2768 1894h0M2769 1887h0M2768 1908h0M2768 1902h0M2767 1809h0M2774 1856h0M2773 1888h0M2775 1833h0M2773 1854h0M2775 1789h0M2773 1906h0M2773 1896h0M2773 1854h0M2775 1860h0M2773 1814h0M2773 1911h0M2773 1895h0M2773 1794h0M2775 1872h0M2774 1913h0M2772 1813h0M2772 1885h0M2781 1907h0M2779 1906h0M2781 1781h0M2781 1785h0M2780 1802h0M2779 1812h0M2780 1818h0M2781 1922h0M2780 1809h0M2779 1913h0M2781 1825h0M2779 1885h0M2781 1913h0M2781 1924h0M2780 1921h0M2779 1910h0M2781 1884h0M2779 1863h0M2780 1853h0M2781 1908h0M2782 1922h0M2780 1915h0M2782 1907h0M2783 1859h0M2782 1920h0M2783 1866h0M2782 1905h0M2783 1883h0M2783 1828h0M2782 1920h0M2781 1876h0M2783 1812h0M2782 1840h0M2782 1789h0M2782 1909h0M2781 1843h0M2781 1811h0M2782 1827h0M2781 1841h0M2781 1833h0M2783 1907h0M2783 1910h0M2782 1854h0M2788 1865h0M2789 1851h0M2790 1890h0M2790 1844h0M2789 1872h0M2792 1905h0M2792 1773h0M2791 1871h0M2790 1841h0M2792 1898h0M2790 1803h0M2792 1903h0M2793 1751h0M2793 1857h0M2791 1897h0M2792 1793h0M2792 1811h0M2792 1877h0M2791 1831h0M2792 1907h0M2790 1921h0M2793 1917h0M2790 1776h0M2791 1892h0M2791 1924h0M2793 1918h0M2793 1806h0M2792 1766h0M2791 1909h0M2790 1768h0M2793 1834h0M2799 1849h0M2797 1840h0M2798 1770h0M2799 1802h0M2798 1908h0M2797 1806h0M2797 1830h0M2797 1770h0M2797 1855h0M2799 1853h0M2797 1849h0M2797 1808h0M2799 1923h0M2799 1858h0M2798 1772h0M2804 1858h0M2803 1794h0M2804 1907h0M2803 1896h0M2805 1883h0M2805 1875h0M2805 1913h0M2805 1804h0M2805 1808h0M2804 1834h0M2804 1780h0M2802 1790h0M2802 1787h0M2810 1852h0M2811 1895h0M2811 1899h0M2812 1796h0M2810 1904h0M2810 1891h0M2810 1832h0M2809 1902h0M2811 1914h0M2814 1867h0M2814 1842h0M2812 1853h0M2813 1917h0M2812 1896h0M2812 1920h0M2812 1862h0M2811 1919h0M2815 1891h0M2813 1919h0M2813 1904h0M2816 1922h0M2814 1898h0M2815 1809h0M2816 1847h0M2815 1846h0M2818 1918h0M2817 1869h0M2819 1920h0M2819 1867h0M2818 1909h0M2817 1818h0M2817 1914h0M2816 1892h0M2816 1848h0M2818 1911h0M2818 1844h0M2819 1860h0M2817 1847h0M2819 1890h0M2821 1915h0M2821 1867h0M2824 1842h0M2826 1896h0M2825 1870h0M2826 1912h0M2824 1891h0M2826 1816h0M2824 1887h0M2825 1911h0M2824 1858h0M2826 1858h0M2824 1848h0M2825 1889h0M2824 1871h0M2688 1638h0M2688 1643h0M2685 1647h0M2686 1652h0M2689 1657h0M2687 1659h0M2689 1663h0M2689 1671h0M2689 1672h0M2688 1677h0M2688 1681h0M2687 1685h0M2685 1690h0M2689 1696h0M2688 1701h0M2686 1704h0M2687 1707h0M2686 1713h0M2687 1716h0M2686 1722h0M2687 1727h0M2687 1731h0M2689 1736h0M2688 1740h0M2686 1746h0M2687 1749h0M2689 1506h0M2687 1559h0M2689 1601h0M2755 1503h0M2754 1520h0M2756 1529h0M2763 1549h0M2763 1557h0M2754 1573h0M2763 1596h0M2779 1607h0M2779 1616h0M2763 1638h0M2763 1647h0M2779 1655h0M2779 1674h0M2776 1692h0M2811 1666h0M2811 1675h0M2818 1695h0M2811 1704h0M2807 1710h0M2734 1669h0M2731 1676h0M2742 1706h0M2714 1721h0M2706 1733h0M2756 1732h0M2811 1733h0M2703 1761h0M2714 1780h0M2724 1780h0M2700 1657h0M2698 1694h0M2679 1734h0M2681 1745h0M2695 1744h0M2788 1699h0M2788 1710h0M2786 1720h0M2792 1728h0M2799 1737h0M2779 1747h0M2776 1752h0M2788 1755h0M2805 1752h0M2811 1772h0M2802 1764h0M2741 1720h0M2735 1728h0M2732 1742h0M2743 1745h0M2728 1760h0M2757 1769h0M2762 1776h0M2688 1420h0M2688 1455h0M2755 1343h0M2755 1362h0M2755 1413h0M2754 1470h0M2802 1395h0M2802 1420h0M2802 1475h0"/>
<path fill="#87ceeb" stroke="#87ceeb" d="M2876 1935L2876 1899L2881 1901L2884 1905L2890 1905L2894 1905L2901 1905L2903 1905L2906 1911L2908 1913L2912 1932L2915 1932L2920 1932L2923 1932L2927 1932L2929 1932L2932 1932L2934 1932L2941 1932L2946 1932L2952 1927L2956 1927L2958 1927L2961 1927L2963 1922L2965 1913L2967 1926L2971 1927L2978 1927L2978 1927L2978 1935Z"/>
<path fill="none" stroke="#87ceeb" d="M2876 1817h0M2876 1815h0M2876 1807h0M2875 1864h0M2880 1923h0M2882 1805h0M2882 1838h0M2881 1815h0M2882 1837h0M2882 1916h0M2881 1822h0M2882 1921h0M2884 1824h0M2884 1897h0M2883 1822h0M2885 1898h0M2885 1821h0M2882 1883h0M2884 1826h0M2882 1891h0M2885 1827h0M2883 1918h0M2885 1843h0M2883 1809h0M2885 1910h0M2884 1880h0M2882 1859h0M2884 1881h0M2885 1787h0M2883 1863h0M2885 1878h0M2884 1837h0M2883 1865h0M2885 1871h0M2884 1896h0M2890 1868h0M2890 1816h0M2890 1875h0M2889 1901h0M2889 1898h0M2889 1832h0M2889 1887h0M2890 1828h0M2890 1891h0M2888 1916h0M2889 1814h0M2890 1867h0M2891 1886h0M2890 1887h0M2888 1882h0M2894 1846h0M2896 1922h0M2895 1905h0M2896 1869h0M2896 1869h0M2893 1845h0M2895 1885h0M2893 1789h0M2894 1801h0M2896 1887h0M2895 1857h0M2895 1817h0M2895 1825h0M2894 1827h0M2895 1912h0M2895 1883h0M2896 1901h0M2894 1844h0M2896 1836h0M2893 1837h0M2896 1826h0M2893 1822h0M2893 1796h0M2894 1924h0M2901 1892h0M2899 1881h0M2901 1802h0M2900 1843h0M2902 1803h0M2899 1924h0M2901 1866h0M2901 1873h0M2904 1924h0M2902 1893h0M2903 1795h0M2904 1910h0M2904 1825h0M2902 1784h0M2906 1830h0M2905 1784h0M2904 1836h0M2907 1816h0M2904 1853h0M2907 1908h0M2905 1816h0M2905 1861h0M2905 1898h0M2905 1862h0M2905 1826h0M2906 1878h0M2905 1788h0M2908 1822h0M2907 1856h0M2908 1845h0M2907 1844h0M2909 1857h0M2908 1786h0M2908 1852h0M2908 1821h0M2907 1786h0M2907 1861h0M2908 1882h0M2908 1814h0M2909 1896h0M2913 1920h0M2915 1882h0M2917 1816h0M2914 1922h0M2914 1922h0M2916 1916h0M2915 1850h0M2915 1919h0M2916 1876h0M2914 1888h0M2917 1845h0M2915 1879h0M2917 1806h0M2915 1868h0M2916 1814h0M2915 1881h0M2914 1912h0M2915 1828h0M2914 1874h0M2921 1894h0M2921 1909h0M2921 1910h0M2924 1922h0M2925 1917h0M2926 1918h0M2928 1903h0M2927 1898h0M2927 1919h0M2926 1891h0M2930 1866h0M2928 1921h0M2933 1893h0M2931 1917h0M2933 1902h0M2934 1911h0M2931 1884h0M2932 1848h0M2936 1826h0M2933 1919h0M2935 1910h0M2934 1893h0M2935 1880h0M2933 1838h0M2942 1923h0M2939 1878h0M2942 1906h0M2941 1905h0M2941 1913h0M2940 1805h0M2940 1825h0M2940 1876h0M2940 1923h0M2940 1911h0M2940 1816h0M2941 1924h0M2940 1920h0M2941 1919h0M2945 1823h0M2946 1899h0M2947 1925h0M2944 1887h0M2953 1813h0M2952 1875h0M2954 1838h0M2953 1907h0M2952 1878h0M2953 1850h0M2953 1867h0M2953 1876h0M2953 1809h0M2952 1834h0M2951 1903h0M2951 1824h0M2953 1847h0M2952 1871h0M2953 1864h0M2952 1911h0M2953 1848h0M2957 1922h0M2955 1850h0M2956 1899h0M2957 1831h0M2957 1841h0M2955 1853h0M2956 1900h0M2958 1839h0M2956 1895h0M2957 1815h0M2961 1846h0M2962 1808h0M2962 1798h0M2959 1919h0M2960 1912h0M2961 1858h0M2962 1871h0M2959 1884h0M2965 1828h0M2962 1828h0M2962 1868h0M2963 1872h0M2964 1842h0M2962 1857h0M2963 1892h0M2962 1918h0M2966 1920h0M2964 1875h0M2965 1837h0M2964 1895h0M2964 1842h0M2963 1852h0M2964 1922h0M2964 1867h0M2965 1859h0M2966 1893h0M2966 1832h0M2966 1905h0M2963 1877h0M2964 1920h0M2963 1906h0M2968 1829h0M2967 1791h0M2966 1863h0M2966 1921h0M2968 1830h0M2971 1867h0M2970 1805h0M2971 1858h0M2973 1880h0M2971 1905h0M2970 1877h0M2972 1912h0M2973 1913h0M2970 1899h0M2972 1831h0M2971 1892h0M2971 1846h0M2972 1830h0M2973 1906h0M2973 1860h0M2973 1879h0M2979 1897h0M2977 1892h0M2979 1917h0M2978 1840h0M2979 1835h0M2978 1919h0M2978 1836h0M2977 1917h0M2977 1913h0M2977 1836h0M2978 1860h0M2979 1921h0M2979 1864h0M2979 1875h0M2979 1857h0M2978 1844h0M2978 1890h0M2977 1881h0M2890 1647h0M2888 1659h0M2876 1683h0M2876 1698h0M2889 1698h0M2889 1702h0M2960 1685h0M2903 1727h0M2952 1722h0M2938 1736h0M2931 1746h0M2874 1747h0M2974 1736h0M2979 1746h0M2979 1756h0M2960 1750h0M2966 1761h0M2952 1763h0M2908 1750h0M2904 1756h0M2888 1761h0M2881 1766h0M2912 1770h0M2875 1777h0"/>
<path fill="#bebebe" stroke="#bebebe" d="M3029 1935L3029 1882L3032 1882L3037 1882L3041 1882L3043 1889L3045 1889L3050 1889L3053 1889L3056 1889L3060 1885L3065 1879L3067 1877L3069 1879L3073 1882L3075 1885L3079 1888L3082 1891L3085 1893L3088 1896L3090 1898L3094 1898L3099 1898L3101 1898L3104 1898L3106 1897L3111 1897L3115 1896L3118 1891L3122 1891L3122 1935Z"/>
<path fill="none" stroke="#bebebe" d="M3029 1815h0M3029 1819h0M3030 1880h0M3029 1795h0M3029 1860h0M3030 1864h0M3028 1915h0M3029 1865h0M3031 1816h0M3030 1910h0M3030 1891h0M3033 1864h0M3031 1822h0M3031 1897h0M3031 1874h0M3032 1920h0M3032 1772h0M3033 1913h0M3032 1851h0M3031 1925h0M3032 1892h0M3031 1850h0M3031 1916h0M3033 1916h0M3031 1786h0M3033 1902h0M3033 1866h0M3030 1894h0M3031 1820h0M3031 1830h0M3032 1912h0M3032 1916h0M3032 1919h0M3031 1889h0M3032 1870h0M3032 1860h0M3032 1810h0M3032 1828h0M3039 1827h0M3039 1790h0M3037 1853h0M3038 1891h0M3036 1839h0M3037 1874h0M3038 1802h0M3038 1918h0M3036 1901h0M3037 1853h0M3037 1905h0M3036 1855h0M3037 1869h0M3037 1856h0M3038 1884h0M3036 1870h0M3036 1911h0M3038 1820h0M3036 1914h0M3037 1912h0M3037 1896h0M3038 1786h0M3037 1870h0M3038 1843h0M3036 1917h0M3036 1837h0M3037 1853h0M3037 1902h0M3036 1913h0M3036 1896h0M3037 1778h0M3039 1883h0M3042 1857h0M3042 1898h0M3041 1877h0M3042 1901h0M3041 1903h0M3040 1780h0M3040 1820h0M3040 1798h0M3042 1866h0M3040 1826h0M3040 1924h0M3041 1899h0M3040 1901h0M3041 1839h0M3042 1881h0M3041 1879h0M3040 1768h0M3043 1907h0M3043 1877h0M3044 1854h0M3044 1861h0M3043 1843h0M3043 1883h0M3044 1902h0M3045 1889h0M3045 1920h0M3045 1855h0M3046 1811h0M3046 1890h0M3046 1863h0M3045 1875h0M3047 1916h0M3046 1782h0M3047 1856h0M3049 1857h0M3049 1900h0M3051 1912h0M3051 1888h0M3049 1917h0M3050 1899h0M3052 1837h0M3050 1901h0M3051 1910h0M3053 1862h0M3052 1925h0M3054 1776h0M3052 1904h0M3053 1845h0M3052 1896h0M3053 1776h0M3052 1910h0M3053 1885h0M3051 1834h0M3054 1860h0M3051 1892h0M3054 1855h0M3057 1922h0M3056 1921h0M3055 1788h0M3056 1895h0M3058 1916h0M3057 1915h0M3061 1906h0M3061 1847h0M3061 1891h0M3062 1852h0M3061 1896h0M3059 1896h0M3061 1773h0M3061 1772h0M3061 1870h0M3059 1882h0M3059 1902h0M3060 1782h0M3062 1793h0M3062 1855h0M3059 1859h0M3062 1884h0M3061 1875h0M3066 1781h0M3065 1892h0M3066 1911h0M3065 1834h0M3065 1922h0M3064 1812h0M3066 1919h0M3066 1903h0M3066 1824h0M3067 1906h0M3069 1854h0M3066 1902h0M3068 1849h0M3070 1919h0M3068 1894h0M3069 1888h0M3068 1878h0M3068 1905h0M3068 1858h0M3071 1812h0M3069 1871h0M3069 1892h0M3069 1861h0M3073 1842h0M3073 1843h0M3074 1839h0M3072 1889h0M3074 1921h0M3072 1894h0M3074 1890h0M3073 1860h0M3073 1896h0M3073 1885h0M3075 1874h0M3074 1923h0M3075 1782h0M3076 1884h0M3075 1852h0M3074 1836h0M3075 1915h0M3075 1852h0M3076 1898h0M3079 1848h0M3079 1877h0M3079 1836h0M3078 1832h0M3079 1889h0M3080 1823h0M3079 1829h0M3080 1886h0M3078 1860h0M3078 1906h0M3083 1825h0M3082 1832h0M3081 1879h0M3083 1826h0M3082 1817h0M3080 1840h0M3080 1923h0M3081 1816h0M3083 1840h0M3081 1902h0M3081 1816h0M3081 1856h0M3081 1889h0M3081 1855h0M3083 1856h0M3085 1898h0M3084 1815h0M3085 1912h0M3083 1817h0M3084 1819h0M3084 1840h0M3087 1784h0M3087 1840h0M3090 1885h0M3091 1825h0M3091 1846h0M3090 1858h0M3090 1832h0M3090 1824h0M3094 1900h0M3094 1830h0M3094 1855h0M3095 1861h0M3093 1849h0M3093 1917h0M3093 1862h0M3093 1837h0M3093 1909h0M3095 1890h0M3093 1905h0M3100 1916h0M3100 1872h0M3099 1913h0M3100 1895h0M3100 1861h0M3100 1912h0M3099 1903h0M3099 1865h0M3100 1922h0M3098 1870h0M3099 1908h0M3100 1855h0M3100 1836h0M3100 1899h0M3099 1896h0M3100 1875h0M3100 1862h0M3101 1884h0M3102 1920h0M3101 1871h0M3101 1814h0M3105 1804h0M3104 1903h0M3104 1892h0M3103 1918h0M3104 1896h0M3105 1871h0M3103 1889h0M3102 1905h0M3105 1882h0M3104 1897h0M3103 1924h0M3103 1893h0M3103 1884h0M3105 1832h0M3107 1840h0M3105 1903h0M3106 1921h0M3107 1900h0M3107 1828h0M3105 1859h0M3107 1791h0M3106 1874h0M3112 1921h0M3111 1904h0M3112 1815h0M3111 1868h0M3110 1882h0M3110 1829h0M3110 1917h0M3112 1877h0M3110 1866h0M3112 1874h0M3110 1884h0M3113 1828h0M3111 1785h0M3114 1918h0M3116 1835h0M3117 1872h0M3114 1857h0M3115 1812h0M3116 1904h0M3116 1852h0M3117 1904h0M3116 1778h0M3114 1786h0M3114 1805h0M3115 1862h0M3115 1812h0M3116 1861h0M3114 1842h0M3115 1897h0M3114 1898h0M3119 1797h0M3117 1901h0M3119 1913h0M3118 1837h0M3119 1850h0M3119 1822h0M3118 1847h0M3119 1843h0M3119 1829h0M3117 1813h0M3118 1892h0M3118 1898h0M3120 1851h0M3123 1794h0M3122 1888h0M3120 1875h0M3088 1294h0M3088 1119h0M3088 1503h0M3088 1537h0M3029 1601h0M3029 1607h0M3029 1627h0M3034 1633h0M3029 1645h0M3033 1653h0M3046 1651h0M3033 1662h0M3033 1675h0M3045 1690h0M3038 1696h0M3084 1622h0M3071 1626h0M3071 1641h0M3071 1653h0M3110 1631h0M3110 1663h0M3089 1667h0M3085 1674h0M3080 1678h0M3089 1692h0M3081 1694h0M3071 1700h0M3081 1704h0M3120 1704h0M3120 1721h0M3061 1710h0M3061 1720h0M3073 1715h0M3085 1720h0M3090 1721h0M3061 1737h0M3069 1736h0M3079 1742h0M3088 1745h0M3100 1745h0M3109 1737h0M3117 1735h0M3116 1748h0M3122 1762h0M3116 1769h0M3124 1779h0M3033 1730h0M3031 1739h0M3041 1740h0M3047 1741h0M3041 1757h0M3034 1763h0M3026 1772h0M3058 1755h0M3069 1755h0M3084 1763h0M3049 1769h0M3060 1771h0M3047 1788h0M3053 1798h0M3063 1784h0M3073 1799h0M3082 1787h0M3092 1798h0M3101 1784h0M3044 1806h0M3049 1822h0M3101 1803h0M3100 1822h0"/>
<path fill="#87ceeb" stroke="#87ceeb" d="M3176 1935L3176 1915L3181 1915L3185 1915L3189 1911L3191 1907L3198 1904L3205 1904L3211 1904L3215 1904L3218 1904L3222 1901L3224 1900L3230 1898L3233 1897L3235 1892L3240 1893L3242 1898L3247 1903L3249 1908L3251 1914L3253 1923L3256 1925L3260 1925L3261 1925L3261 1935Z"/>
<path fill="none" stroke="#87ceeb" d="M3176 1866h0M3175 1907h0M3177 1891h0M3175 1889h0M3174 1918h0M3175 1917h0M3176 1815h0M3182 1793h0M3181 1887h0M3181 1915h0M3181 1840h0M3183 1858h0M3180 1861h0M3180 1873h0M3182 1883h0M3184 1918h0M3185 1902h0M3187 1859h0M3185 1859h0M3185 1859h0M3184 1882h0M3184 1918h0M3185 1834h0M3186 1794h0M3186 1821h0M3184 1852h0M3184 1862h0M3190 1807h0M3188 1876h0M3190 1895h0M3189 1905h0M3189 1918h0M3190 1853h0M3190 1877h0M3189 1924h0M3188 1786h0M3190 1847h0M3190 1850h0M3190 1801h0M3189 1923h0M3190 1906h0M3189 1922h0M3189 1816h0M3188 1885h0M3190 1830h0M3189 1916h0M3190 1914h0M3188 1848h0M3191 1884h0M3192 1864h0M3190 1824h0M3192 1790h0M3193 1812h0M3192 1883h0M3190 1861h0M3192 1881h0M3190 1890h0M3192 1835h0M3191 1861h0M3191 1842h0M3192 1891h0M3191 1870h0M3190 1884h0M3190 1865h0M3199 1807h0M3197 1821h0M3199 1840h0M3199 1819h0M3199 1838h0M3199 1917h0M3197 1842h0M3197 1861h0M3197 1823h0M3197 1840h0M3197 1820h0M3199 1846h0M3196 1838h0M3197 1894h0M3197 1884h0M3198 1813h0M3196 1794h0M3197 1855h0M3206 1904h0M3203 1785h0M3204 1809h0M3204 1805h0M3203 1797h0M3203 1860h0M3204 1784h0M3205 1902h0M3203 1914h0M3206 1887h0M3203 1845h0M3205 1818h0M3204 1807h0M3206 1876h0M3204 1854h0M3204 1802h0M3206 1860h0M3205 1794h0M3206 1873h0M3204 1912h0M3206 1906h0M3206 1871h0M3212 1923h0M3211 1862h0M3212 1892h0M3210 1873h0M3211 1888h0M3212 1792h0M3217 1888h0M3215 1838h0M3215 1912h0M3214 1856h0M3216 1832h0M3215 1849h0M3214 1909h0M3215 1862h0M3214 1836h0M3214 1867h0M3214 1840h0M3214 1816h0M3215 1918h0M3215 1877h0M3218 1893h0M3218 1907h0M3219 1881h0M3217 1907h0M3216 1833h0M3219 1823h0M3219 1884h0M3217 1887h0M3218 1797h0M3222 1810h0M3223 1832h0M3220 1892h0M3223 1838h0M3222 1893h0M3221 1879h0M3221 1843h0M3223 1878h0M3221 1840h0M3223 1851h0M3223 1790h0M3222 1915h0M3222 1826h0M3221 1876h0M3222 1874h0M3223 1873h0M3223 1794h0M3225 1890h0M3223 1887h0M3225 1898h0M3224 1882h0M3222 1904h0M3225 1835h0M3224 1811h0M3224 1879h0M3224 1841h0M3222 1823h0M3223 1851h0M3224 1833h0M3222 1915h0M3223 1838h0M3225 1812h0M3222 1921h0M3223 1900h0M3224 1828h0M3224 1813h0M3225 1902h0M3229 1889h0M3230 1833h0M3231 1833h0M3229 1874h0M3230 1788h0M3231 1865h0M3231 1775h0M3230 1916h0M3230 1881h0M3230 1841h0M3229 1887h0M3230 1811h0M3230 1865h0M3230 1910h0M3230 1835h0M3231 1809h0M3229 1917h0M3231 1871h0M3230 1852h0M3229 1904h0M3232 1860h0M3231 1889h0M3229 1919h0M3229 1775h0M3231 1850h0M3230 1836h0M3231 1883h0M3234 1892h0M3234 1812h0M3232 1921h0M3234 1912h0M3232 1853h0M3233 1800h0M3231 1866h0M3231 1820h0M3234 1842h0M3233 1771h0M3237 1804h0M3237 1918h0M3235 1923h0M3234 1907h0M3234 1785h0M3240 1865h0M3240 1838h0M3239 1861h0M3239 1830h0M3239 1792h0M3241 1843h0M3240 1850h0M3239 1920h0M3241 1896h0M3241 1761h0M3241 1809h0M3239 1808h0M3242 1767h0M3239 1872h0M3242 1768h0M3240 1885h0M3240 1902h0M3240 1917h0M3242 1911h0M3243 1882h0M3241 1809h0M3243 1885h0M3244 1850h0M3241 1923h0M3242 1808h0M3243 1917h0M3242 1794h0M3248 1868h0M3245 1795h0M3246 1833h0M3246 1811h0M3248 1912h0M3247 1872h0M3248 1822h0M3247 1923h0M3246 1914h0M3248 1817h0M3246 1861h0M3246 1804h0M3247 1895h0M3249 1798h0M3248 1925h0M3248 1802h0M3250 1891h0M3247 1879h0M3247 1796h0M3250 1828h0M3248 1849h0M3248 1809h0M3249 1918h0M3251 1889h0M3250 1920h0M3251 1792h0M3251 1853h0M3250 1892h0M3251 1852h0M3250 1796h0M3252 1921h0M3252 1911h0M3252 1903h0M3253 1905h0M3254 1897h0M3253 1838h0M3252 1849h0M3255 1918h0M3254 1895h0M3254 1903h0M3256 1902h0M3255 1819h0M3254 1796h0M3256 1828h0M3255 1893h0M3256 1798h0M3256 1865h0M3256 1903h0M3255 1836h0M3256 1894h0M3255 1866h0M3255 1916h0M3256 1837h0M3254 1892h0M3255 1804h0M3256 1903h0M3257 1875h0M3257 1832h0M3257 1871h0M3256 1863h0M3257 1857h0M3257 1827h0M3259 1828h0M3261 1852h0M3260 1865h0M3261 1861h0M3260 1879h0M3259 1880h0M3260 1855h0M3260 1817h0M3260 1861h0M3262 1873h0M3260 1851h0M3262 1866h0M3261 1923h0M3195 1424h0M3195 1451h0M3195 1467h0M3196 1505h0M3246 1550h0M3221 1573h0M3221 1583h0M3221 1599h0M3196 1586h0M3221 1621h0M3237 1623h0M3237 1631h0M3241 1639h0M3237 1649h0M3240 1660h0M3196 1639h0M3214 1647h0M3206 1657h0M3221 1657h0M3196 1666h0M3215 1670h0M3197 1686h0M3203 1690h0M3212 1691h0M3222 1693h0M3239 1686h0M3239 1694h0M3241 1707h0M3221 1710h0M3196 1704h0M3197 1717h0M3221 1727h0M3243 1721h0M3235 1728h0M3230 1736h0M3241 1737h0M3190 1735h0M3199 1744h0M3187 1753h0M3200 1757h0M3221 1752h0M3232 1755h0M3221 1764h0M3243 1752h0M3261 1755h0M3261 1777h0M3190 1771h0M3178 1782h0M3261 1799h0M3175 1796h0"/>
<path fill="#bebebe" stroke="#bebebe" d="M3291 1935L3291 1898L3294 1898L3301 1898L3307 1893L3310 1886L3312 1882L3317 1886L3322 1886L3323 1886L3323 1935ZM3343 1935L3343 1888L3347 1888L3349 1888L3351 1882L3354 1871L3357 1863L3363 1874L3370 1882L3374 1885L3377 1885L3379 1885L3386 1885L3387 1885L3387 1935Z"/>
<path fill="none" stroke="#bebebe" d="M3292 1866h0M3291 1810h0M3291 1843h0M3291 1901h0M3292 1832h0M3293 1779h0M3293 1860h0M3294 1811h0M3293 1868h0M3296 1895h0M3295 1840h0M3293 1859h0M3294 1858h0M3294 1860h0M3296 1885h0M3294 1908h0M3293 1918h0M3295 1851h0M3293 1911h0M3295 1921h0M3295 1861h0M3300 1840h0M3300 1773h0M3301 1794h0M3301 1782h0M3301 1859h0M3301 1784h0M3301 1884h0M3300 1834h0M3302 1773h0M3301 1809h0M3301 1858h0M3302 1837h0M3302 1883h0M3300 1835h0M3300 1817h0M3302 1892h0M3301 1825h0M3300 1787h0M3301 1843h0M3301 1802h0M3302 1921h0M3300 1913h0M3300 1803h0M3299 1873h0M3300 1785h0M3301 1841h0M3302 1908h0M3300 1784h0M3300 1875h0M3300 1824h0M3300 1860h0M3301 1800h0M3302 1877h0M3301 1910h0M3306 1857h0M3308 1816h0M3307 1831h0M3307 1841h0M3309 1796h0M3308 1804h0M3307 1852h0M3308 1915h0M3307 1905h0M3306 1813h0M3308 1912h0M3308 1830h0M3309 1915h0M3308 1823h0M3309 1865h0M3310 1922h0M3310 1849h0M3310 1922h0M3310 1813h0M3309 1793h0M3309 1798h0M3309 1810h0M3310 1888h0M3311 1875h0M3313 1854h0M3313 1832h0M3311 1779h0M3311 1860h0M3312 1814h0M3312 1797h0M3318 1867h0M3317 1811h0M3317 1904h0M3316 1765h0M3317 1916h0M3317 1858h0M3318 1902h0M3318 1818h0M3317 1778h0M3317 1847h0M3318 1831h0M3318 1905h0M3317 1842h0M3317 1907h0M3318 1864h0M3316 1803h0M3318 1860h0M3317 1898h0M3318 1924h0M3317 1919h0M3318 1882h0M3317 1874h0M3315 1792h0M3315 1890h0M3317 1877h0M3318 1820h0M3318 1921h0M3316 1813h0M3316 1774h0M3317 1882h0M3321 1830h0M3321 1846h0M3321 1913h0M3323 1870h0M3323 1800h0M3322 1898h0M3321 1901h0M3322 1824h0M3322 1866h0M3323 1786h0M3323 1895h0M3323 1919h0M3323 1807h0M3343 1881h0M3341 1871h0M3342 1820h0M3344 1827h0M3344 1810h0M3344 1852h0M3342 1835h0M3344 1777h0M3344 1829h0M3343 1825h0M3342 1859h0M3343 1826h0M3341 1869h0M3344 1908h0M3342 1890h0M3342 1861h0M3348 1883h0M3346 1907h0M3346 1873h0M3347 1832h0M3345 1810h0M3348 1799h0M3347 1776h0M3348 1759h0M3349 1904h0M3348 1911h0M3347 1817h0M3350 1827h0M3349 1815h0M3349 1795h0M3349 1864h0M3348 1758h0M3349 1765h0M3349 1817h0M3349 1765h0M3348 1897h0M3350 1886h0M3350 1860h0M3350 1894h0M3353 1771h0M3350 1747h0M3352 1899h0M3351 1812h0M3352 1920h0M3350 1909h0M3350 1748h0M3353 1821h0M3352 1891h0M3351 1786h0M3350 1779h0M3351 1864h0M3351 1905h0M3353 1758h0M3352 1796h0M3351 1794h0M3351 1773h0M3351 1776h0M3352 1889h0M3351 1918h0M3351 1908h0M3351 1921h0M3350 1799h0M3350 1806h0M3351 1799h0M3351 1861h0M3352 1896h0M3354 1904h0M3353 1736h0M3355 1820h0M3353 1817h0M3353 1748h0M3355 1809h0M3353 1788h0M3353 1793h0M3355 1870h0M3355 1830h0M3354 1774h0M3358 1857h0M3357 1850h0M3356 1881h0M3357 1766h0M3357 1782h0M3357 1837h0M3363 1853h0M3364 1811h0M3363 1846h0M3363 1832h0M3363 1836h0M3362 1757h0M3362 1868h0M3363 1798h0M3363 1848h0M3363 1911h0M3362 1893h0M3363 1852h0M3363 1799h0M3362 1815h0M3362 1800h0M3362 1806h0M3364 1863h0M3362 1873h0M3363 1766h0M3363 1861h0M3364 1912h0M3362 1858h0M3363 1773h0M3362 1924h0M3362 1921h0M3363 1825h0M3363 1831h0M3363 1750h0M3363 1856h0M3363 1861h0M3363 1785h0M3364 1921h0M3371 1925h0M3369 1751h0M3369 1878h0M3370 1872h0M3368 1784h0M3370 1836h0M3370 1898h0M3369 1753h0M3370 1893h0M3368 1765h0M3370 1908h0M3369 1925h0M3368 1854h0M3369 1913h0M3369 1780h0M3369 1912h0M3369 1885h0M3370 1793h0M3371 1903h0M3370 1787h0M3374 1781h0M3375 1785h0M3375 1843h0M3375 1860h0M3373 1834h0M3373 1792h0M3373 1795h0M3374 1862h0M3373 1883h0M3372 1776h0M3375 1810h0M3373 1830h0M3373 1796h0M3373 1856h0M3374 1856h0M3373 1845h0M3372 1805h0M3374 1839h0M3375 1864h0M3375 1861h0M3378 1849h0M3376 1882h0M3378 1802h0M3375 1848h0M3378 1899h0M3377 1872h0M3376 1866h0M3377 1841h0M3376 1810h0M3376 1829h0M3376 1834h0M3378 1896h0M3376 1826h0M3375 1829h0M3376 1924h0M3377 1884h0M3377 1890h0M3375 1841h0M3377 1830h0M3375 1802h0M3376 1817h0M3376 1872h0M3376 1826h0M3375 1804h0M3376 1889h0M3380 1791h0M3380 1799h0M3380 1875h0M3380 1817h0M3380 1806h0M3380 1878h0M3378 1860h0M3380 1869h0M3378 1904h0M3381 1784h0M3380 1829h0M3379 1795h0M3379 1855h0M3379 1783h0M3379 1825h0M3380 1893h0M3378 1903h0M3380 1854h0M3378 1873h0M3381 1904h0M3379 1831h0M3381 1884h0M3380 1800h0M3379 1774h0M3381 1893h0M3378 1811h0M3387 1771h0M3385 1834h0M3386 1907h0M3384 1885h0M3385 1873h0M3387 1885h0M3385 1913h0M3384 1820h0M3388 1869h0M3387 1840h0M3387 1783h0M3306 1389h0M3306 1452h0M3306 1502h0M3364 1522h0M3314 1543h0M3317 1551h0M3363 1562h0M3363 1575h0M3363 1598h0M3363 1608h0M3306 1633h0M3387 1634h0M3313 1658h0M3305 1666h0M3364 1658h0M3364 1666h0M3387 1658h0M3387 1666h0M3356 1675h0M3364 1678h0M3317 1689h0M3313 1700h0M3344 1691h0M3364 1688h0M3364 1699h0M3384 1690h0M3387 1700h0M3379 1702h0M3294 1713h0M3290 1723h0M3290 1736h0M3295 1742h0M3300 1750h0M3313 1718h0M3321 1718h0M3308 1729h0M3324 1736h0M3317 1737h0M3325 1745h0M3344 1718h0M3352 1712h0M3364 1710h0M3387 1720h0M3387 1728h0M3387 1741h0M3341 1753h0M3352 1723h0M3365 1723h0M3363 1382h0M3363 1394h0M3363 1399h0M3363 1404h0M3363 1413h0M3363 1422h0M3363 1453h0M3363 1479h0M3363 1487h0"/>
<path fill="#87ceeb" stroke="#87ceeb" d="M3417 1935L3417 1844L3419 1844L3421 1844L3424 1841L3429 1838L3431 1839L3437 1843L3439 1845L3446 1847L3451 1852L3455 1858L3458 1860L3462 1860L3467 1860L3471 1860L3473 1861L3476 1861L3482 1861L3488 1861L3489 1861L3493 1859L3495 1857L3500 1855L3502 1855L3502 1935Z"/>
<path fill="none" stroke="#87ceeb" d="M3418 1725h0M3416 1834h0M3417 1823h0M3416 1746h0M3415 1783h0M3418 1777h0M3416 1921h0M3416 1823h0M3416 1907h0M3417 1860h0M3416 1797h0M3417 1772h0M3418 1837h0M3415 1876h0M3417 1909h0M3416 1749h0M3415 1746h0M3418 1790h0M3419 1886h0M3417 1837h0M3420 1898h0M3418 1767h0M3418 1728h0M3418 1876h0M3418 1791h0M3417 1828h0M3419 1910h0M3419 1870h0M3417 1859h0M3418 1824h0M3421 1879h0M3423 1809h0M3420 1780h0M3422 1852h0M3423 1891h0M3422 1914h0M3420 1782h0M3422 1755h0M3420 1911h0M3422 1891h0M3421 1828h0M3423 1858h0M3422 1851h0M3420 1881h0M3423 1881h0M3421 1764h0M3421 1841h0M3421 1813h0M3422 1886h0M3421 1804h0M3423 1839h0M3422 1738h0M3422 1876h0M3421 1908h0M3422 1749h0M3420 1807h0M3423 1849h0M3421 1874h0M3422 1872h0M3423 1795h0M3424 1876h0M3422 1825h0M3425 1795h0M3425 1786h0M3423 1844h0M3428 1888h0M3430 1891h0M3429 1861h0M3429 1835h0M3427 1733h0M3430 1743h0M3429 1844h0M3428 1787h0M3429 1849h0M3428 1846h0M3427 1912h0M3427 1914h0M3428 1827h0M3428 1851h0M3430 1877h0M3430 1714h0M3432 1788h0M3430 1859h0M3432 1807h0M3430 1713h0M3433 1743h0M3430 1816h0M3431 1865h0M3431 1852h0M3430 1892h0M3430 1789h0M3430 1786h0M3431 1851h0M3432 1818h0M3432 1840h0M3432 1749h0M3432 1809h0M3430 1880h0M3430 1786h0M3429 1914h0M3430 1812h0M3431 1807h0M3432 1770h0M3431 1908h0M3430 1869h0M3431 1916h0M3431 1862h0M3430 1889h0M3437 1765h0M3437 1861h0M3438 1746h0M3439 1904h0M3438 1890h0M3436 1768h0M3437 1877h0M3437 1925h0M3437 1840h0M3437 1922h0M3436 1787h0M3438 1751h0M3436 1816h0M3438 1870h0M3437 1770h0M3436 1880h0M3438 1861h0M3437 1782h0M3438 1802h0M3437 1857h0M3437 1874h0M3437 1847h0M3438 1906h0M3438 1737h0M3438 1721h0M3438 1800h0M3436 1884h0M3439 1906h0M3439 1863h0M3438 1811h0M3439 1894h0M3438 1738h0M3438 1895h0M3441 1728h0M3439 1817h0M3438 1849h0M3438 1857h0M3440 1826h0M3445 1852h0M3446 1801h0M3447 1865h0M3447 1882h0M3447 1884h0M3444 1792h0M3446 1873h0M3444 1856h0M3444 1835h0M3447 1855h0M3446 1836h0M3445 1754h0M3445 1848h0M3445 1841h0M3447 1856h0M3445 1771h0M3447 1861h0M3446 1832h0M3445 1876h0M3445 1925h0M3447 1844h0M3446 1864h0M3444 1801h0M3447 1890h0M3445 1771h0M3447 1860h0M3444 1898h0M3447 1871h0M3450 1740h0M3451 1824h0M3452 1775h0M3451 1898h0M3452 1923h0M3452 1788h0M3450 1780h0M3452 1919h0M3450 1881h0M3450 1720h0M3452 1780h0M3452 1765h0M3451 1841h0M3452 1813h0M3451 1724h0M3452 1867h0M3452 1872h0M3452 1837h0M3452 1853h0M3449 1921h0M3451 1911h0M3450 1903h0M3451 1830h0M3450 1733h0M3450 1778h0M3450 1805h0M3454 1874h0M3456 1797h0M3456 1902h0M3456 1919h0M3455 1776h0M3454 1771h0M3454 1867h0M3455 1854h0M3454 1754h0M3454 1918h0M3457 1791h0M3454 1750h0M3455 1797h0M3455 1774h0M3456 1861h0M3455 1788h0M3457 1835h0M3454 1808h0M3456 1862h0M3454 1800h0M3458 1805h0M3458 1857h0M3460 1910h0M3457 1789h0M3459 1882h0M3459 1874h0M3459 1925h0M3457 1782h0M3458 1843h0M3457 1863h0M3457 1842h0M3457 1892h0M3457 1893h0M3459 1848h0M3457 1793h0M3459 1811h0M3458 1905h0M3460 1733h0M3458 1852h0M3457 1790h0M3457 1915h0M3461 1771h0M3464 1889h0M3461 1740h0M3462 1784h0M3461 1836h0M3460 1756h0M3463 1818h0M3462 1802h0M3461 1751h0M3463 1758h0M3462 1898h0M3463 1811h0M3461 1803h0M3467 1828h0M3466 1901h0M3468 1921h0M3465 1888h0M3466 1908h0M3466 1853h0M3468 1743h0M3466 1833h0M3467 1839h0M3466 1787h0M3467 1899h0M3468 1830h0M3466 1922h0M3467 1817h0M3466 1839h0M3473 1921h0M3472 1908h0M3472 1764h0M3470 1795h0M3472 1746h0M3471 1745h0M3473 1819h0M3471 1814h0M3470 1793h0M3472 1781h0M3471 1788h0M3473 1787h0M3471 1782h0M3471 1878h0M3471 1845h0M3473 1732h0M3473 1796h0M3474 1830h0M3475 1813h0M3473 1803h0M3474 1924h0M3475 1897h0M3474 1868h0M3477 1912h0M3476 1871h0M3475 1876h0M3476 1776h0M3476 1887h0M3477 1824h0M3477 1876h0M3474 1869h0M3477 1742h0M3475 1749h0M3474 1809h0M3476 1859h0M3476 1882h0M3475 1838h0M3475 1829h0M3476 1740h0M3481 1884h0M3482 1796h0M3482 1847h0M3481 1892h0M3483 1802h0M3482 1784h0M3480 1924h0M3482 1806h0M3482 1796h0M3480 1858h0M3483 1835h0M3483 1863h0M3482 1814h0M3480 1846h0M3481 1809h0M3483 1761h0M3483 1901h0M3488 1807h0M3487 1857h0M3489 1766h0M3489 1892h0M3487 1797h0M3488 1741h0M3488 1747h0M3487 1874h0M3487 1922h0M3487 1795h0M3489 1889h0M3487 1871h0M3486 1736h0M3486 1873h0M3488 1808h0M3488 1799h0M3488 1880h0M3489 1820h0M3489 1823h0M3491 1819h0M3489 1797h0M3494 1772h0M3493 1803h0M3491 1806h0M3493 1887h0M3491 1808h0M3492 1861h0M3492 1772h0M3491 1819h0M3491 1774h0M3493 1822h0M3492 1792h0M3494 1920h0M3493 1784h0M3494 1842h0M3493 1842h0M3492 1843h0M3492 1793h0M3491 1739h0M3492 1885h0M3497 1765h0M3496 1901h0M3495 1900h0M3496 1876h0M3497 1743h0M3494 1858h0M3496 1794h0M3497 1749h0M3496 1833h0M3494 1881h0M3497 1795h0M3494 1824h0M3497 1831h0M3494 1785h0M3494 1870h0M3495 1822h0M3495 1783h0M3497 1919h0M3495 1897h0M3497 1801h0M3497 1879h0M3497 1871h0M3496 1902h0M3495 1764h0M3496 1906h0M3497 1845h0M3495 1833h0M3494 1913h0M3496 1796h0M3496 1792h0M3499 1803h0M3500 1878h0M3501 1831h0M3499 1916h0M3500 1827h0M3502 1898h0M3502 1898h0M3501 1912h0M3501 1847h0M3501 1847h0M3501 1832h0M3502 1738h0M3503 1869h0M3502 1824h0M3501 1813h0M3500 1839h0M3469 1505h0M3452 1521h0M3467 1576h0M3452 1638h0M3435 1650h0M3452 1677h0M3435 1684h0M3467 1684h0M3452 1694h0M3474 1702h0M3494 1675h0M3494 1684h0M3494 1691h0M3494 1700h0M3468 1488h0M3468 1492h0"/>
<path fill="#bebebe" stroke="#bebebe" d="M3532 1935L3532 1932L3535 1932L3538 1932L3540 1932L3545 1932L3552 1932L3556 1932L3559 1932L3561 1932L3568 1932L3572 1932L3578 1932L3581 1932L3584 1932L3585 1932L3589 1932L3595 1932L3601 1932L3604 1932L3610 1932L3612 1932L3615 1932L3615 1935Z"/>
<path fill="none" stroke="#bebebe" d="M3533 1824h0M3534 1829h0M3532 1870h0M3533 1907h0M3533 1838h0M3534 1894h0M3532 1895h0M3533 1878h0M3532 1806h0M3533 1898h0M3534 1814h0M3535 1805h0M3535 1905h0M3536 1864h0M3536 1919h0M3534 1901h0M3534 1904h0M3536 1896h0M3535 1916h0M3536 1857h0M3538 1825h0M3539 1894h0M3536 1845h0M3538 1916h0M3537 1884h0M3537 1899h0M3537 1918h0M3539 1901h0M3539 1795h0M3541 1839h0M3541 1863h0M3540 1886h0M3539 1887h0M3539 1872h0M3540 1898h0M3539 1874h0M3541 1871h0M3541 1919h0M3545 1822h0M3545 1853h0M3545 1874h0M3544 1874h0M3547 1901h0M3547 1905h0M3546 1839h0M3546 1874h0M3545 1897h0M3552 1877h0M3552 1894h0M3554 1887h0M3553 1883h0M3553 1848h0M3553 1875h0M3554 1923h0M3552 1865h0M3551 1895h0M3553 1911h0M3552 1919h0M3552 1872h0M3551 1854h0M3553 1865h0M3552 1849h0M3556 1909h0M3555 1891h0M3556 1913h0M3555 1824h0M3557 1870h0M3555 1866h0M3557 1886h0M3555 1882h0M3557 1892h0M3557 1918h0M3557 1839h0M3557 1849h0M3556 1887h0M3557 1905h0M3560 1843h0M3562 1874h0M3560 1825h0M3561 1873h0M3560 1866h0M3562 1859h0M3569 1844h0M3566 1907h0M3568 1895h0M3569 1904h0M3569 1916h0M3567 1911h0M3567 1912h0M3568 1862h0M3572 1860h0M3573 1884h0M3573 1860h0M3572 1921h0M3577 1858h0M3579 1859h0M3579 1842h0M3577 1845h0M3578 1892h0M3577 1838h0M3578 1905h0M3577 1840h0M3579 1853h0M3579 1904h0M3577 1904h0M3581 1860h0M3583 1905h0M3581 1877h0M3583 1890h0M3582 1878h0M3583 1853h0M3585 1907h0M3584 1916h0M3586 1907h0M3584 1890h0M3587 1843h0M3586 1904h0M3585 1875h0M3586 1918h0M3588 1890h0M3590 1917h0M3588 1900h0M3588 1907h0M3588 1854h0M3589 1903h0M3588 1825h0M3596 1920h0M3594 1915h0M3595 1871h0M3594 1903h0M3596 1836h0M3595 1851h0M3601 1881h0M3601 1831h0M3602 1906h0M3601 1893h0M3599 1866h0M3602 1899h0M3601 1829h0M3602 1911h0M3601 1890h0M3602 1910h0M3604 1880h0M3605 1924h0M3604 1871h0M3605 1835h0M3605 1920h0M3603 1870h0M3603 1906h0M3603 1913h0M3609 1848h0M3609 1890h0M3611 1912h0M3609 1838h0M3609 1877h0M3611 1862h0M3610 1895h0M3614 1844h0M3612 1825h0M3613 1864h0M3616 1919h0M3615 1874h0M3609 1599h0M3595 1623h0M3563 1649h0M3593 1652h0M3607 1649h0M3563 1678h0M3580 1691h0M3563 1701h0M3566 1731h0M3566 1742h0M3583 1737h0M3609 1736h0M3548 1742h0M3537 1754h0M3610 1777h0M3563 1769h0M3571 1774h0M3577 1782h0M3567 1791h0M3598 1788h0M3578 1805h0"/>
<path fill="#87ceeb" stroke="#87ceeb" d="M3644 1935L3644 1803L3648 1803L3654 1803L3656 1808L3662 1857L3664 1898L3669 1898L3673 1898L3675 1898L3679 1898L3683 1863L3689 1807L3691 1789L3693 1773L3698 1753L3702 1752L3704 1759L3706 1759L3707 1759L3707 1935Z"/>
<path fill="none" stroke="#87ceeb" d="M3644 1778h0M3644 1758h0M3645 1720h0M3645 1922h0M3645 1918h0M3645 1877h0M3646 1823h0M3643 1766h0M3643 1766h0M3643 1856h0M3644 1790h0M3644 1819h0M3643 1891h0M3644 1924h0M3643 1923h0M3644 1834h0M3645 1836h0M3644 1916h0M3646 1750h0M3645 1921h0M3645 1741h0M3646 1858h0M3645 1745h0M3643 1828h0M3645 1793h0M3644 1849h0M3644 1820h0M3643 1863h0M3644 1843h0M3645 1804h0M3648 1883h0M3649 1712h0M3647 1905h0M3649 1867h0M3647 1905h0M3647 1791h0M3648 1825h0M3649 1757h0M3649 1871h0M3650 1778h0M3647 1825h0M3649 1863h0M3647 1789h0M3647 1847h0M3648 1697h0M3650 1880h0M3649 1879h0M3649 1918h0M3647 1709h0M3650 1867h0M3649 1916h0M3648 1874h0M3649 1808h0M3648 1859h0M3653 1783h0M3654 1820h0M3655 1807h0M3653 1698h0M3653 1903h0M3653 1864h0M3653 1744h0M3654 1823h0M3654 1769h0M3655 1835h0M3654 1890h0M3653 1692h0M3655 1756h0M3653 1780h0M3656 1770h0M3655 1752h0M3654 1891h0M3654 1767h0M3653 1792h0M3655 1923h0M3655 1872h0M3654 1741h0M3654 1891h0M3654 1761h0M3655 1777h0M3656 1899h0M3654 1741h0M3653 1805h0M3655 1910h0M3655 1885h0M3656 1923h0M3657 1891h0M3655 1798h0M3656 1789h0M3657 1848h0M3657 1866h0M3657 1826h0M3657 1853h0M3657 1743h0M3654 1906h0M3655 1739h0M3655 1813h0M3657 1887h0M3657 1891h0M3657 1800h0M3657 1800h0M3656 1922h0M3656 1862h0M3655 1764h0M3657 1876h0M3656 1920h0M3656 1794h0M3655 1870h0M3657 1892h0M3655 1711h0M3656 1765h0M3657 1884h0M3655 1751h0M3655 1717h0M3656 1857h0M3661 1839h0M3661 1779h0M3663 1698h0M3661 1720h0M3662 1826h0M3662 1873h0M3662 1747h0M3661 1806h0M3663 1755h0M3665 1904h0M3663 1845h0M3664 1865h0M3664 1746h0M3664 1780h0M3664 1892h0M3664 1722h0M3662 1729h0M3663 1856h0M3665 1792h0M3671 1888h0M3671 1906h0M3668 1810h0M3669 1810h0M3669 1885h0M3670 1805h0M3670 1779h0M3670 1800h0M3669 1771h0M3671 1826h0M3669 1781h0M3670 1871h0M3669 1901h0M3668 1913h0M3670 1879h0M3668 1784h0M3669 1777h0M3668 1868h0M3670 1772h0M3670 1754h0M3670 1753h0M3669 1912h0M3671 1794h0M3668 1925h0M3672 1875h0M3674 1846h0M3673 1809h0M3673 1858h0M3672 1848h0M3673 1856h0M3673 1908h0M3674 1835h0M3676 1856h0M3674 1818h0M3676 1865h0M3674 1796h0M3676 1922h0M3676 1911h0M3676 1916h0M3679 1902h0M3680 1837h0M3680 1845h0M3680 1885h0M3679 1796h0M3680 1841h0M3679 1915h0M3679 1864h0M3677 1874h0M3678 1806h0M3679 1792h0M3679 1893h0M3679 1752h0M3679 1873h0M3678 1915h0M3679 1717h0M3680 1820h0M3678 1750h0M3677 1894h0M3680 1763h0M3677 1790h0M3680 1706h0M3679 1859h0M3678 1813h0M3679 1739h0M3678 1768h0M3680 1741h0M3679 1748h0M3680 1747h0M3680 1757h0M3680 1769h0M3678 1763h0M3678 1911h0M3680 1847h0M3678 1871h0M3678 1912h0M3679 1793h0M3682 1913h0M3683 1747h0M3683 1715h0M3682 1694h0M3684 1823h0M3682 1737h0M3682 1884h0M3682 1798h0M3684 1858h0M3683 1759h0M3682 1689h0M3683 1717h0M3684 1843h0M3684 1790h0M3683 1897h0M3684 1753h0M3683 1823h0M3682 1861h0M3684 1924h0M3683 1871h0M3684 1698h0M3682 1904h0M3683 1780h0M3682 1829h0M3683 1834h0M3684 1740h0M3683 1816h0M3684 1693h0M3683 1820h0M3684 1801h0M3682 1732h0M3688 1792h0M3688 1794h0M3689 1831h0M3688 1849h0M3690 1867h0M3691 1881h0M3689 1911h0M3689 1742h0M3691 1822h0M3689 1790h0M3691 1852h0M3689 1920h0M3691 1758h0M3691 1871h0M3689 1728h0M3688 1728h0M3691 1674h0M3692 1682h0M3690 1685h0M3690 1884h0M3692 1830h0M3690 1806h0M3690 1841h0M3692 1723h0M3691 1812h0M3690 1733h0M3690 1768h0M3693 1711h0M3692 1888h0M3693 1803h0M3692 1881h0M3691 1756h0M3694 1736h0M3694 1713h0M3692 1679h0M3693 1645h0M3695 1697h0M3692 1816h0M3692 1737h0M3692 1676h0M3694 1695h0M3694 1901h0M3693 1854h0M3692 1909h0M3693 1914h0M3694 1624h0M3693 1892h0M3692 1810h0M3693 1709h0M3695 1726h0M3693 1703h0M3693 1700h0M3694 1905h0M3693 1853h0M3692 1859h0M3692 1895h0M3694 1789h0M3692 1718h0M3694 1802h0M3697 1693h0M3699 1747h0M3700 1890h0M3700 1913h0M3698 1774h0M3699 1680h0M3699 1646h0M3698 1786h0M3697 1845h0M3699 1834h0M3699 1732h0M3699 1824h0M3699 1887h0M3699 1807h0M3699 1703h0M3699 1634h0M3698 1862h0M3698 1758h0M3698 1755h0M3697 1835h0M3698 1694h0M3697 1681h0M3698 1807h0M3697 1883h0M3699 1925h0M3699 1650h0M3699 1662h0M3697 1749h0M3699 1849h0M3698 1660h0M3698 1790h0M3699 1712h0M3699 1819h0M3698 1903h0M3699 1805h0M3699 1695h0M3698 1859h0M3699 1773h0M3698 1648h0M3698 1805h0M3699 1809h0M3699 1835h0M3698 1758h0M3698 1699h0M3698 1729h0M3699 1911h0M3698 1914h0M3700 1757h0M3699 1678h0M3697 1811h0M3698 1922h0M3697 1789h0M3697 1629h0M3702 1774h0M3701 1868h0M3702 1743h0M3704 1874h0M3703 1724h0M3702 1884h0M3702 1903h0M3701 1750h0M3703 1867h0M3704 1794h0M3704 1784h0M3705 1794h0M3705 1776h0M3705 1880h0M3706 1846h0M3704 1719h0M3704 1655h0M3703 1755h0M3704 1794h0M3705 1650h0M3703 1697h0M3706 1657h0M3705 1909h0M3705 1745h0M3707 1870h0M3708 1706h0M3708 1726h0M3706 1914h0M3706 1899h0M3707 1874h0M3707 1739h0M3706 1840h0M3707 1664h0M3707 1872h0M3707 1658h0M3699 1611h0M3696 1614h0M3693 1616h0M3696 1620h0M3696 1621h0M3695 1625h0M3700 1625h0M3699 1627h0M3698 1630h0M3689 1632h0M3694 1638h0M3694 1639h0M3692 1640h0M3695 1644h0M3699 1646h0M3690 1651h0M3693 1651h0M3684 1650h0M3704 1653h0M3686 1657h0M3684 1658h0M3705 1658h0M3700 1659h0M3707 1662h0M3685 1665h0M3699 1664h0M3698 1664h0M3688 1666h0M3706 1668h0M3701 1672h0M3685 1671h0M3700 1674h0M3700 1676h0M3690 1680h0M3699 1681h0M3690 1679h0M3698 1682h0M3701 1684h0M3707 1687h0M3708 1690h0M3702 1691h0M3698 1691h0M3694 1694h0M3701 1693h0M3693 1694h0M3692 1699h0M3658 1505h0M3658 1557h0M3658 1565h0M3658 1573h0M3684 1561h0M3684 1590h0M3646 1604h0M3646 1615h0M3686 1606h0M3693 1612h0M3700 1619h0M3685 1623h0M3701 1634h0M3686 1647h0M3709 1653h0M3708 1669h0M3708 1678h0M3657 1613h0M3658 1623h0M3662 1633h0M3655 1647h0M3663 1655h0M3655 1666h0M3662 1677h0M3658 1688h0M3650 1612h0M3658 1612h0M3657 1640h0M3658 1661h0M3653 1683h0M3649 1691h0M3665 1694h0M3686 1474h0M3686 1480h0M3686 1493h0"/>
<path fill="#bebebe" stroke="#bebebe" d="M3736 1935L3736 1906L3739 1906L3740 1906L3743 1905L3745 1905L3750 1905L3753 1905L3758 1902L3764 1900L3770 1893L3772 1901L3775 1905L3781 1914L3784 1916L3790 1917L3792 1920L3794 1923L3797 1925L3801 1925L3803 1925L3803 1935Z"/>
<path fill="none" stroke="#bebebe" d="M3735 1865h0M3737 1890h0M3735 1803h0M3739 1903h0M3739 1884h0M3738 1902h0M3740 1797h0M3738 1865h0M3738 1825h0M3738 1911h0M3739 1816h0M3741 1849h0M3741 1892h0M3739 1918h0M3741 1875h0M3739 1872h0M3739 1900h0M3741 1915h0M3742 1925h0M3742 1852h0M3744 1876h0M3742 1913h0M3743 1875h0M3746 1848h0M3746 1820h0M3744 1845h0M3745 1917h0M3745 1899h0M3746 1838h0M3745 1869h0M3744 1825h0M3747 1913h0M3745 1840h0M3746 1906h0M3745 1879h0M3746 1871h0M3744 1790h0M3746 1873h0M3749 1870h0M3750 1857h0M3751 1805h0M3750 1910h0M3750 1916h0M3749 1834h0M3749 1822h0M3751 1863h0M3749 1847h0M3749 1810h0M3754 1831h0M3754 1922h0M3754 1865h0M3754 1793h0M3755 1821h0M3754 1914h0M3754 1847h0M3754 1815h0M3753 1893h0M3752 1847h0M3752 1899h0M3753 1889h0M3753 1818h0M3756 1804h0M3756 1875h0M3758 1812h0M3757 1795h0M3758 1796h0M3757 1838h0M3757 1844h0M3759 1897h0M3757 1783h0M3757 1883h0M3758 1792h0M3758 1884h0M3759 1858h0M3757 1782h0M3758 1856h0M3759 1881h0M3758 1881h0M3757 1828h0M3758 1874h0M3756 1871h0M3758 1795h0M3765 1768h0M3766 1881h0M3765 1907h0M3764 1790h0M3763 1867h0M3764 1893h0M3764 1889h0M3764 1835h0M3765 1913h0M3765 1898h0M3763 1823h0M3763 1847h0M3763 1782h0M3765 1890h0M3772 1872h0M3769 1811h0M3771 1845h0M3771 1781h0M3771 1822h0M3772 1819h0M3769 1796h0M3769 1897h0M3770 1918h0M3770 1846h0M3771 1885h0M3769 1795h0M3771 1862h0M3770 1912h0M3771 1773h0M3770 1789h0M3771 1859h0M3770 1839h0M3771 1819h0M3771 1776h0M3769 1832h0M3773 1791h0M3771 1788h0M3772 1815h0M3773 1785h0M3774 1775h0M3776 1895h0M3776 1841h0M3782 1852h0M3782 1877h0M3782 1845h0M3782 1854h0M3782 1924h0M3781 1881h0M3781 1878h0M3780 1924h0M3780 1866h0M3783 1824h0M3780 1901h0M3781 1874h0M3781 1818h0M3783 1893h0M3783 1883h0M3781 1884h0M3781 1890h0M3780 1921h0M3782 1854h0M3785 1904h0M3783 1906h0M3783 1816h0M3784 1832h0M3784 1919h0M3784 1882h0M3783 1858h0M3785 1855h0M3783 1893h0M3789 1827h0M3789 1848h0M3790 1916h0M3789 1815h0M3790 1858h0M3789 1865h0M3790 1845h0M3792 1874h0M3792 1800h0M3792 1848h0M3789 1815h0M3791 1812h0M3791 1904h0M3791 1875h0M3794 1882h0M3793 1839h0M3794 1845h0M3796 1868h0M3793 1852h0M3794 1887h0M3796 1850h0M3796 1824h0M3798 1853h0M3798 1910h0M3797 1904h0M3797 1802h0M3796 1891h0M3796 1912h0M3798 1812h0M3799 1840h0M3797 1920h0M3798 1844h0M3796 1802h0M3797 1802h0M3796 1867h0M3796 1888h0M3798 1903h0M3797 1919h0M3796 1883h0M3798 1909h0M3798 1804h0M3800 1865h0M3800 1901h0M3802 1920h0M3802 1921h0M3802 1923h0M3802 1856h0M3800 1846h0M3801 1874h0M3802 1859h0M3801 1818h0M3800 1910h0M3802 1894h0M3801 1891h0M3802 1867h0M3804 1845h0M3802 1883h0M3803 1869h0M3803 1850h0M3803 1887h0M3805 1869h0M3738 1532h0M3738 1556h0M3738 1594h0M3785 1517h0M3785 1547h0M3785 1579h0M3785 1593h0M3761 1570h0M3761 1619h0M3739 1677h0M3739 1679h0M3802 1591h0M3803 1599h0M3802 1610h0M3802 1619h0M3803 1636h0M3802 1651h0M3803 1663h0M3803 1675h0M3802 1682h0M3803 1701h0M3803 1723h0M3802 1731h0M3789 1682h0M3775 1691h0M3789 1693h0M3769 1706h0M3777 1710h0M3788 1715h0M3790 1720h0M3771 1720h0M3736 1732h0M3741 1727h0M3747 1729h0M3771 1729h0M3787 1740h0M3771 1742h0M3742 1758h0M3761 1755h0M3755 1763h0M3771 1758h0M3786 1763h0M3802 1761h0M3802 1771h0M3803 1782h0M3803 1795h0M3785 1777h0M3739 1774h0M3746 1773h0"/>
<path fill="#87ceeb" stroke="#87ceeb" d="M3848 1935L3848 1932L3853 1932L3855 1932L3857 1932L3859 1909L3863 1906L3867 1903L3871 1904L3874 1908L3878 1909L3882 1909L3883 1909L3883 1935Z"/>
<path fill="none" stroke="#87ceeb" d="M3847 1888h0M3848 1894h0M3847 1895h0M3854 1846h0M3854 1916h0M3852 1911h0M3853 1882h0M3853 1883h0M3854 1859h0M3855 1913h0M3855 1847h0M3856 1888h0M3855 1901h0M3854 1829h0M3856 1830h0M3855 1863h0M3855 1901h0M3855 1792h0M3859 1922h0M3856 1819h0M3856 1807h0M3861 1857h0M3859 1839h0M3860 1898h0M3859 1846h0M3861 1921h0M3861 1873h0M3859 1920h0M3858 1797h0M3860 1875h0M3859 1789h0M3865 1881h0M3864 1876h0M3863 1902h0M3863 1866h0M3863 1827h0M3863 1878h0M3864 1822h0M3863 1830h0M3863 1892h0M3863 1833h0M3863 1911h0M3863 1790h0M3865 1858h0M3864 1816h0M3864 1910h0M3864 1912h0M3862 1818h0M3864 1859h0M3864 1865h0M3865 1860h0M3863 1889h0M3863 1836h0M3865 1839h0M3865 1837h0M3865 1861h0M3863 1897h0M3868 1885h0M3866 1886h0M3868 1888h0M3868 1828h0M3868 1863h0M3868 1874h0M3868 1882h0M3867 1868h0M3866 1826h0M3867 1855h0M3866 1904h0M3867 1806h0M3869 1892h0M3868 1891h0M3869 1866h0M3868 1915h0M3867 1794h0M3866 1860h0M3866 1872h0M3869 1867h0M3870 1918h0M3871 1840h0M3870 1830h0M3870 1894h0M3872 1911h0M3872 1920h0M3872 1859h0M3875 1916h0M3875 1924h0M3875 1853h0M3873 1853h0M3875 1823h0M3875 1881h0M3875 1917h0M3873 1847h0M3874 1812h0M3874 1922h0M3873 1898h0M3878 1881h0M3877 1844h0M3876 1842h0M3877 1874h0M3879 1877h0M3878 1901h0M3877 1810h0M3876 1837h0M3877 1786h0M3878 1835h0M3876 1900h0M3877 1822h0M3878 1844h0M3876 1843h0M3878 1921h0M3877 1840h0M3879 1879h0M3877 1843h0M3876 1832h0M3884 1879h0M3883 1838h0M3882 1856h0M3884 1890h0M3883 1908h0M3884 1873h0M3877 1647h0M3880 1693h0M3876 1704h0M3874 1709h0M3876 1733h0M3879 1737h0M3876 1757h0M3860 1769h0M3879 1771h0M3848 1798h0M3847 1807h0M3851 1835h0M3848 1859h0M3846 1879h0"/>
<path fill="#bebebe" stroke="#bebebe" d="M3931 1935L3931 1862L3933 1862L3935 1863L3940 1863L3943 1863L3946 1863L3953 1863L3955 1866L3959 1868L3964 1869L3966 1869L3967 1869L3967 1935Z"/>
<path fill="none" stroke="#bebebe" d="M3931 1874h0M3931 1874h0M3932 1802h0M3930 1782h0M3931 1813h0M3932 1895h0M3932 1925h0M3930 1804h0M3931 1869h0M3930 1874h0M3931 1899h0M3931 1858h0M3930 1911h0M3932 1782h0M3932 1906h0M3933 1828h0M3934 1895h0M3934 1859h0M3935 1878h0M3934 1767h0M3934 1906h0M3933 1864h0M3934 1875h0M3932 1856h0M3934 1866h0M3933 1854h0M3932 1779h0M3935 1755h0M3935 1828h0M3934 1841h0M3936 1891h0M3935 1782h0M3941 1857h0M3941 1792h0M3939 1869h0M3939 1792h0M3940 1851h0M3940 1781h0M3939 1841h0M3939 1911h0M3938 1879h0M3941 1858h0M3943 1812h0M3943 1815h0M3943 1810h0M3945 1829h0M3944 1801h0M3944 1844h0M3944 1900h0M3945 1917h0M3945 1854h0M3946 1835h0M3947 1912h0M3947 1898h0M3947 1772h0M3944 1796h0M3947 1871h0M3945 1830h0M3946 1900h0M3947 1788h0M3945 1910h0M3945 1821h0M3947 1894h0M3946 1775h0M3947 1871h0M3945 1833h0M3946 1794h0M3945 1864h0M3947 1882h0M3945 1886h0M3947 1835h0M3947 1902h0M3947 1864h0M3947 1813h0M3946 1871h0M3947 1766h0M3944 1761h0M3947 1879h0M3946 1882h0M3947 1857h0M3946 1913h0M3944 1907h0M3945 1821h0M3946 1868h0M3947 1866h0M3945 1851h0M3946 1791h0M3946 1810h0M3952 1898h0M3952 1917h0M3953 1856h0M3953 1791h0M3952 1790h0M3952 1784h0M3953 1861h0M3951 1898h0M3951 1876h0M3953 1797h0M3954 1826h0M3952 1757h0M3951 1881h0M3954 1805h0M3952 1860h0M3952 1901h0M3951 1874h0M3952 1871h0M3952 1793h0M3954 1825h0M3953 1866h0M3954 1869h0M3954 1836h0M3952 1877h0M3952 1768h0M3953 1818h0M3951 1876h0M3955 1852h0M3955 1896h0M3953 1777h0M3956 1873h0M3954 1851h0M3954 1859h0M3955 1865h0M3956 1821h0M3955 1896h0M3953 1804h0M3954 1800h0M3954 1907h0M3955 1895h0M3959 1861h0M3959 1882h0M3958 1853h0M3960 1776h0M3958 1868h0M3958 1876h0M3959 1916h0M3959 1822h0M3958 1906h0M3958 1823h0M3958 1812h0M3961 1764h0M3960 1811h0M3960 1872h0M3960 1793h0M3964 1837h0M3965 1840h0M3964 1787h0M3963 1822h0M3963 1820h0M3965 1903h0M3963 1815h0M3963 1887h0M3964 1793h0M3965 1842h0M3966 1835h0M3967 1767h0M3965 1923h0M3966 1804h0M3967 1850h0M3968 1836h0M3967 1877h0M3965 1805h0M3966 1863h0M3968 1829h0M3968 1846h0M3968 1842h0M3966 1782h0M3966 1910h0M3967 1808h0M3966 1807h0M3931 1572h0M3933 1655h0M3933 1662h0M3940 1674h0M3933 1678h0M3966 1665h0M3932 1693h0M3945 1698h0M3941 1702h0M3966 1690h0M3966 1695h0M3966 1712h0M3966 1720h0M3933 1718h0M3945 1718h0M3959 1734h0M3967 1733h0M3933 1737h0M3945 1742h0"/>
</g>
<line x1="223.2" y1="1111.9" x2="4018.0" y2="1111.9" stroke="#000" stroke-width="6.1" stroke-dasharray="22.9 8.02"/>
<g fill="#00cd00"><circle cx="885.5" cy="183.3" r="13.5"/><circle cx="885.3" cy="559.3" r="13.5"/><circle cx="885.3" cy="610.5" r="13.5"/><circle cx="884.3" cy="893.4" r="13.5"/><circle cx="1324.4" cy="448.5" r="13.5"/><circle cx="1324.4" cy="456.3" r="13.5"/><circle cx="1324.4" cy="494.5" r="13.5"/><circle cx="3088.5" cy="774.4" r="13.5"/><circle cx="3088.5" cy="787.9" r="13.5"/><circle cx="3088.5" cy="815.5" r="13.5"/><circle cx="3088.5" cy="863.3" r="13.5"/><circle cx="3088.5" cy="939.2" r="13.5"/></g>
<g stroke="#000" stroke-width="4" fill="none"><line x1="224" y1="36" x2="224" y2="1927"/><line x1="207" y1="1925.0" x2="224" y2="1925.0" stroke-width="3.4"/><line x1="207" y1="1634.7" x2="224" y2="1634.7" stroke-width="3.4"/><line x1="207" y1="1344.3" x2="224" y2="1344.3" stroke-width="3.4"/><line x1="207" y1="1054.0" x2="224" y2="1054.0" stroke-width="3.4"/><line x1="207" y1="763.6" x2="224" y2="763.6" stroke-width="3.4"/><line x1="207" y1="473.3" x2="224" y2="473.3" stroke-width="3.4"/><line x1="207" y1="183.0" x2="224" y2="183.0" stroke-width="3.4"/></g>
<text x="190.5" y="1948.3" font-size="64" text-anchor="end" textLength="37.1" lengthAdjust="spacingAndGlyphs">0</text><text x="190.5" y="1658.0" font-size="64" text-anchor="end" textLength="37.1" lengthAdjust="spacingAndGlyphs">2</text><text x="190.5" y="1367.6" font-size="64" text-anchor="end" textLength="37.1" lengthAdjust="spacingAndGlyphs">4</text><text x="190.5" y="1077.3" font-size="64" text-anchor="end" textLength="37.1" lengthAdjust="spacingAndGlyphs">6</text><text x="190.5" y="786.9" font-size="64" text-anchor="end" textLength="37.1" lengthAdjust="spacingAndGlyphs">8</text><text x="190.5" y="496.6" font-size="64" text-anchor="end" textLength="74.2" lengthAdjust="spacingAndGlyphs">10</text><text x="190.5" y="206.3" font-size="64" text-anchor="end" textLength="74.2" lengthAdjust="spacingAndGlyphs">12</text>
<text x="387.5" y="2005.5" font-size="64" text-anchor="middle" textLength="37.1" lengthAdjust="spacingAndGlyphs">1</text><text x="684.0" y="2005.5" font-size="64" text-anchor="middle" textLength="37.1" lengthAdjust="spacingAndGlyphs">2</text><text x="952.0" y="2005.5" font-size="64" text-anchor="middle" textLength="37.1" lengthAdjust="spacingAndGlyphs">3</text><text x="1191.5" y="2005.5" font-size="64" text-anchor="middle" textLength="37.1" lengthAdjust="spacingAndGlyphs">4</text><text x="1422.0" y="2005.5" font-size="64" text-anchor="middle" textLength="37.1" lengthAdjust="spacingAndGlyphs">5</text><text x="1641.5" y="2005.5" font-size="64" text-anchor="middle" textLength="37.1" lengthAdjust="spacingAndGlyphs">6</text><text x="1848.5" y="2005.5" font-size="64" text-anchor="middle" textLength="37.1" lengthAdjust="spacingAndGlyphs">7</text><text x="2042.3" y="2005.5" font-size="64" text-anchor="middle" textLength="37.1" lengthAdjust="spacingAndGlyphs">8</text><text x="2226.3" y="2005.5" font-size="64" text-anchor="middle" textLength="37.1" lengthAdjust="spacingAndGlyphs">9</text><text x="2404.0" y="2005.5" font-size="64" text-anchor="middle" textLength="74.2" lengthAdjust="spacingAndGlyphs">10</text><text x="2578.5" y="2005.5" font-size="64" text-anchor="middle" textLength="74.2" lengthAdjust="spacingAndGlyphs">11</text><text x="2752.5" y="2005.5" font-size="64" text-anchor="middle" textLength="74.2" lengthAdjust="spacingAndGlyphs">12</text><text x="2916.0" y="2005.5" font-size="64" text-anchor="middle" textLength="74.2" lengthAdjust="spacingAndGlyphs">13</text><text x="3064.5" y="2005.5" font-size="64" text-anchor="middle" textLength="74.2" lengthAdjust="spacingAndGlyphs">14</text><text x="3206.0" y="2005.5" font-size="64" text-anchor="middle" textLength="74.2" lengthAdjust="spacingAndGlyphs">15</text><text x="3338.5" y="2005.5" font-size="64" text-anchor="middle" textLength="74.2" lengthAdjust="spacingAndGlyphs">16</text><text x="3459.2" y="2005.5" font-size="64" text-anchor="middle" textLength="74.2" lengthAdjust="spacingAndGlyphs">17</text><text x="3573.2" y="2005.5" font-size="64" text-anchor="middle" textLength="74.2" lengthAdjust="spacingAndGlyphs">18</text><text x="3675.5" y="2005.5" font-size="64" text-anchor="middle" textLength="74.2" lengthAdjust="spacingAndGlyphs">19</text><text x="3769.5" y="2005.5" font-size="64" text-anchor="middle" textLength="74.2" lengthAdjust="spacingAndGlyphs">20</text><text x="3857.5" y="2005.5" font-size="64" text-anchor="middle" textLength="74.2" lengthAdjust="spacingAndGlyphs">21</text><text x="3939.0" y="2005.5" font-size="64" text-anchor="middle" textLength="74.2" lengthAdjust="spacingAndGlyphs">22</text>
<text x="2122" y="2081.5" font-size="63" text-anchor="middle" textLength="392" lengthAdjust="spacingAndGlyphs">Chromosome</text>
<g transform="translate(80.5,979.5) rotate(-90)"><text x="0" y="0" font-size="63" text-anchor="middle" textLength="467" lengthAdjust="spacingAndGlyphs">−log<tspan font-size="44" dy="11">10</tspan><tspan dy="-11"> (p value)</tspan></text></g>
</svg>
</body></html>
